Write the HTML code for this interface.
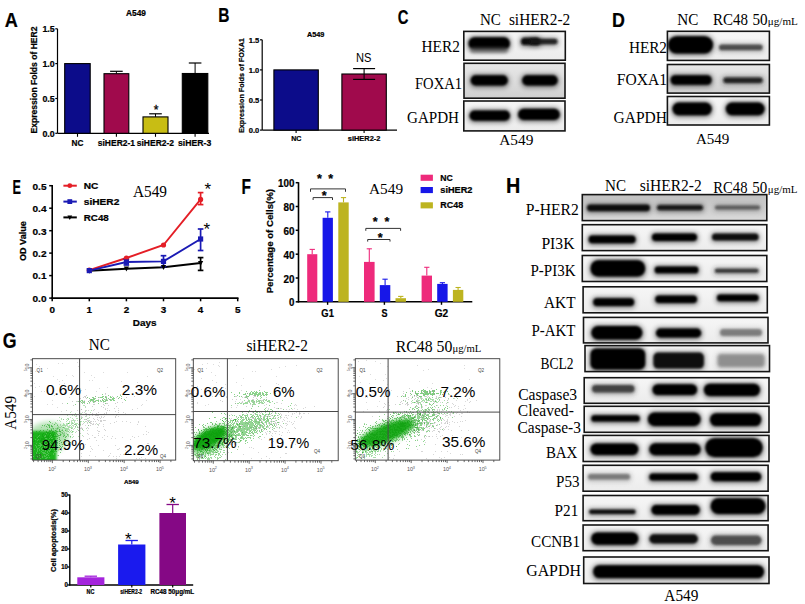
<!DOCTYPE html>
<html><head><meta charset="utf-8"><title>Figure</title>
<style>
html,body{margin:0;padding:0;background:#fff;width:805px;height:604px;overflow:hidden}
svg{display:block}
.sb{font-family:'Liberation Sans', sans-serif;font-weight:bold;stroke:#000;stroke-width:0.22px}
.sr{font-family:'Liberation Sans', sans-serif;font-weight:normal}
.r{font-family:'Liberation Serif', serif;font-weight:normal}
</style></head><body>
<svg width="805" height="604" viewBox="0 0 805 604">
<rect width="805" height="604" fill="#fff"/>
<defs>
<filter id="b1" x="-30%" y="-80%" width="160%" height="260%"><feGaussianBlur stdDeviation="1.1"/></filter>
<filter id="b2" x="-30%" y="-80%" width="160%" height="260%"><feGaussianBlur stdDeviation="1.6"/></filter>
<filter id="b3" x="-30%" y="-80%" width="160%" height="260%"><feGaussianBlur stdDeviation="2.6"/></filter>
<linearGradient id="gbg" x1="0" y1="0" x2="0" y2="1"><stop offset="0" stop-color="#f6f6f6"/><stop offset="1" stop-color="#ececec"/></linearGradient>
<linearGradient id="gbg2" x1="0" y1="0" x2="0" y2="1"><stop offset="0" stop-color="#e8e8e8"/><stop offset="1" stop-color="#d0d0d0"/></linearGradient>
<linearGradient id="gbg3" x1="0" y1="0" x2="0" y2="1"><stop offset="0" stop-color="#c0c0c0"/><stop offset="0.6" stop-color="#d0d0d0"/><stop offset="1" stop-color="#dadada"/></linearGradient>
</defs>
<text class="sb" x="4.8" y="26.8" font-size="19.8" textLength="13.1" lengthAdjust="spacingAndGlyphs" stroke="#000" stroke-width="0.9">A</text>
<text class="sb" x="126.1" y="15.5" font-size="8.5" textLength="19.9" lengthAdjust="spacingAndGlyphs">A549</text>
<line x1="57.5" y1="28.8" x2="57.5" y2="133.3" stroke="#000" stroke-width="1.2"/>
<line x1="57.5" y1="133.3" x2="209" y2="133.3" stroke="#000" stroke-width="1.2"/>
<line x1="55.3" y1="28.8" x2="57.5" y2="28.8" stroke="#000" stroke-width="1.2"/>
<text class="sb" x="54.7" y="32" font-size="8.7" text-anchor="end" textLength="12.3" lengthAdjust="spacingAndGlyphs">1.5</text>
<line x1="55.3" y1="63.6" x2="57.5" y2="63.6" stroke="#000" stroke-width="1.2"/>
<text class="sb" x="54.7" y="66.8" font-size="8.7" text-anchor="end" textLength="12.3" lengthAdjust="spacingAndGlyphs">1.0</text>
<line x1="55.3" y1="98.5" x2="57.5" y2="98.5" stroke="#000" stroke-width="1.2"/>
<text class="sb" x="54.7" y="101.7" font-size="8.7" text-anchor="end" textLength="12.3" lengthAdjust="spacingAndGlyphs">0.5</text>
<line x1="55.3" y1="133.3" x2="57.5" y2="133.3" stroke="#000" stroke-width="1.2"/>
<text class="sb" x="54.7" y="136.5" font-size="8.7" text-anchor="end" textLength="12.3" lengthAdjust="spacingAndGlyphs">0.0</text>
<rect x="64.7" y="63.6" width="25.5" height="69.7" fill="#0c0c8a" stroke="#000" stroke-width="1.1"/>
<line x1="77.5" y1="133.3" x2="77.5" y2="136.8" stroke="#000" stroke-width="1.1"/>
<text class="sb" x="77.5" y="146.3" font-size="9.2" text-anchor="middle" textLength="11.9" lengthAdjust="spacingAndGlyphs">NC</text>
<line x1="116.4" y1="73.7" x2="116.4" y2="71.3" stroke="#000" stroke-width="1"/>
<line x1="110.1" y1="71.3" x2="122.7" y2="71.3" stroke="#000" stroke-width="1.2"/>
<rect x="104" y="73.7" width="24.8" height="59.6" fill="#a00a4c" stroke="#000" stroke-width="1.1"/>
<line x1="116.4" y1="133.3" x2="116.4" y2="136.8" stroke="#000" stroke-width="1.1"/>
<text class="sb" x="116.4" y="146.3" font-size="9.2" text-anchor="middle" textLength="37.2" lengthAdjust="spacingAndGlyphs">siHER2-1</text>
<line x1="155.5" y1="116.9" x2="155.5" y2="113.8" stroke="#000" stroke-width="1"/>
<line x1="149.2" y1="113.8" x2="161.8" y2="113.8" stroke="#000" stroke-width="1.2"/>
<rect x="143" y="116.9" width="25" height="16.4" fill="#c8bd14" stroke="#000" stroke-width="1.1"/>
<line x1="155.5" y1="133.3" x2="155.5" y2="136.8" stroke="#000" stroke-width="1.1"/>
<text class="sb" x="155.4" y="146.3" font-size="9.2" text-anchor="middle" textLength="37.2" lengthAdjust="spacingAndGlyphs">siHER2-2</text>
<line x1="195.1" y1="73.5" x2="195.1" y2="63" stroke="#000" stroke-width="1"/>
<line x1="188.8" y1="63" x2="201.4" y2="63" stroke="#000" stroke-width="1.2"/>
<rect x="182.3" y="73.5" width="25.5" height="59.8" fill="#000" stroke="#000" stroke-width="1.1"/>
<line x1="195.1" y1="133.3" x2="195.1" y2="136.8" stroke="#000" stroke-width="1.1"/>
<text class="sb" x="194.6" y="146.3" font-size="9.2" text-anchor="middle" textLength="33.2" lengthAdjust="spacingAndGlyphs">siHER-3</text>
<text class="sr" x="156" y="114.4" font-size="12" text-anchor="middle" stroke="#000" stroke-width="0.3">*</text>
<text class="sb" transform="translate(37,80) rotate(-90)" x="0" y="0" font-size="8.3" text-anchor="middle" textLength="107" lengthAdjust="spacingAndGlyphs">Expression Folds of HER2</text>
<text class="sb" x="218.3" y="21.9" font-size="20.9" textLength="11.2" lengthAdjust="spacingAndGlyphs" stroke="#000" stroke-width="0.9">B</text>
<text class="sb" x="307" y="36.8" font-size="6.8" textLength="17.4" lengthAdjust="spacingAndGlyphs">A549</text>
<line x1="262.2" y1="39.8" x2="262.2" y2="130.1" stroke="#000" stroke-width="1.2"/>
<line x1="262.2" y1="130.1" x2="397" y2="130.1" stroke="#000" stroke-width="1.2"/>
<line x1="260" y1="39.8" x2="262.2" y2="39.8" stroke="#000" stroke-width="1.2"/>
<text class="sb" x="259.2" y="42.5" font-size="7.4" text-anchor="end" textLength="10.5" lengthAdjust="spacingAndGlyphs">1.5</text>
<line x1="260" y1="69.9" x2="262.2" y2="69.9" stroke="#000" stroke-width="1.2"/>
<text class="sb" x="259.2" y="72.6" font-size="7.4" text-anchor="end" textLength="10.5" lengthAdjust="spacingAndGlyphs">1.0</text>
<line x1="260" y1="100" x2="262.2" y2="100" stroke="#000" stroke-width="1.2"/>
<text class="sb" x="259.2" y="102.7" font-size="7.4" text-anchor="end" textLength="10.5" lengthAdjust="spacingAndGlyphs">0.5</text>
<line x1="260" y1="130.1" x2="262.2" y2="130.1" stroke="#000" stroke-width="1.2"/>
<text class="sb" x="259.2" y="132.8" font-size="7.4" text-anchor="end" textLength="10.5" lengthAdjust="spacingAndGlyphs">0.0</text>
<rect x="273.9" y="69.9" width="44.4" height="60.2" fill="#0c0c8a" stroke="#000" stroke-width="1.1"/>
<line x1="296.1" y1="130.1" x2="296.1" y2="133.1" stroke="#000" stroke-width="1.1"/>
<text class="sb" x="291.2" y="140.7" font-size="7.2" textLength="10.2" lengthAdjust="spacingAndGlyphs">NC</text>
<rect x="341.9" y="74" width="44.4" height="56.1" fill="#a00a4c" stroke="#000" stroke-width="1.1"/>
<line x1="364.1" y1="68.6" x2="364.1" y2="79.4" stroke="#000" stroke-width="1.1"/>
<line x1="353.1" y1="68.6" x2="375.1" y2="68.6" stroke="#000" stroke-width="1.2"/>
<line x1="353.1" y1="79.4" x2="375.1" y2="79.4" stroke="#000" stroke-width="1.2"/>
<line x1="364.1" y1="130.1" x2="364.1" y2="133.1" stroke="#000" stroke-width="1.1"/>
<text class="sb" x="347.8" y="140.7" font-size="7.2" textLength="32.6" lengthAdjust="spacingAndGlyphs">siHER2-2</text>
<text class="sr" x="356" y="61.6" font-size="12.2" textLength="15.4" lengthAdjust="spacingAndGlyphs">NS</text>
<text class="sb" transform="translate(243.8,85.6) rotate(-90)" x="0" y="0" font-size="7.7" text-anchor="middle" textLength="94.9" lengthAdjust="spacingAndGlyphs">Expression Folds of FOXA1</text>
<text class="sb" x="397.8" y="24.4" font-size="20" textLength="10.7" lengthAdjust="spacingAndGlyphs" stroke="#000" stroke-width="0.9">C</text>
<text class="r" x="479.9" y="25.1" font-size="16.1" textLength="20.9" lengthAdjust="spacingAndGlyphs">NC</text>
<text class="r" x="508.9" y="25.1" font-size="16.1" textLength="61.4" lengthAdjust="spacingAndGlyphs">siHER2-2</text>
<clipPath id="c58"><rect x="463.8" y="31.4" width="101.5" height="28.8"/></clipPath>
<rect x="463.8" y="31.4" width="101.5" height="28.8" fill="url(#gbg)"/>
<g clip-path="url(#c58)">
<rect x="467.5" y="36.3" width="43.4" height="15.2" rx="6.1" fill="#050505" opacity="0.5" filter="url(#b3)"/>
<rect x="468.5" y="37.3" width="41.4" height="12.2" rx="6.1" fill="#050505" opacity="1" filter="url(#b1)"/>
<rect x="470" y="47" width="38" height="6" rx="3" fill="#555" opacity="0.6" filter="url(#b2)"/>
<rect x="520" y="36.8" width="21" height="10.2" rx="3.6" fill="#0c0c0c" opacity="0.5" filter="url(#b3)"/>
<rect x="521" y="37.8" width="19" height="7.2" rx="3.6" fill="#0c0c0c" opacity="1" filter="url(#b1)"/>
<rect x="529" y="37.8" width="29.5" height="8.4" rx="2.7" fill="#151515" opacity="0.4" filter="url(#b3)"/>
<rect x="530" y="38.8" width="27.5" height="5.4" rx="2.7" fill="#151515" opacity="0.9" filter="url(#b1)"/>
</g>
<rect x="463.8" y="31.4" width="101.5" height="28.8" fill="none" stroke="#151515" stroke-width="1.6"/>
<clipPath id="c70"><rect x="464" y="63.3" width="101" height="34.9"/></clipPath>
<rect x="464" y="63.3" width="101" height="34.9" fill="url(#gbg2)"/>
<g clip-path="url(#c70)">
<rect x="469.7" y="74.3" width="39.1" height="13.1" rx="5.1" fill="#060606" opacity="0.5" filter="url(#b3)"/>
<rect x="470.7" y="75.3" width="37.1" height="10.1" rx="5.1" fill="#060606" opacity="1" filter="url(#b1)"/>
<rect x="521.2" y="74.3" width="37.5" height="13.1" rx="5.1" fill="#060606" opacity="0.5" filter="url(#b3)"/>
<rect x="522.2" y="75.3" width="35.5" height="10.1" rx="5.1" fill="#060606" opacity="1" filter="url(#b1)"/>
</g>
<rect x="464" y="63.3" width="101" height="34.9" fill="none" stroke="#151515" stroke-width="1.6"/>
<clipPath id="c79"><rect x="463.8" y="101" width="101.2" height="29.9"/></clipPath>
<rect x="463.8" y="101" width="101.2" height="29.9" fill="url(#gbg)"/>
<g clip-path="url(#c79)">
<rect x="468.5" y="109.5" width="42.5" height="13.2" rx="5.1" fill="#050505" opacity="0.5" filter="url(#b3)"/>
<rect x="469.5" y="110.5" width="40.5" height="10.2" rx="5.1" fill="#050505" opacity="1" filter="url(#b1)"/>
<rect x="517.1" y="107.8" width="43.7" height="14.2" rx="5.6" fill="#050505" opacity="0.5" filter="url(#b3)"/>
<rect x="518.1" y="108.8" width="41.7" height="11.2" rx="5.6" fill="#050505" opacity="1" filter="url(#b1)"/>
</g>
<rect x="463.8" y="101" width="101.2" height="29.9" fill="none" stroke="#151515" stroke-width="1.6"/>
<text class="r" x="421.5" y="52.2" font-size="16.1" textLength="38.3" lengthAdjust="spacingAndGlyphs">HER2</text>
<text class="r" x="415" y="88.8" font-size="16.1" textLength="47" lengthAdjust="spacingAndGlyphs">FOXA1</text>
<text class="r" x="407" y="123.1" font-size="16.1" textLength="52" lengthAdjust="spacingAndGlyphs">GAPDH</text>
<text class="r" x="499.2" y="144.8" font-size="15.6" textLength="34.2" lengthAdjust="spacingAndGlyphs">A549</text>
<text class="sb" x="612" y="26.5" font-size="19.6" textLength="12.9" lengthAdjust="spacingAndGlyphs" stroke="#000" stroke-width="0.9">D</text>
<text class="r" x="677.3" y="24.5" font-size="16.1" textLength="21.1" lengthAdjust="spacingAndGlyphs">NC</text>
<text class="r" x="713" y="24.5" font-size="16.1" textLength="35" lengthAdjust="spacingAndGlyphs">RC48</text>
<text class="r" x="752.4" y="24.5" font-size="16.1" textLength="15.1" lengthAdjust="spacingAndGlyphs">50</text>
<text class="r" x="767.8" y="24.5" font-size="11.2" textLength="30" lengthAdjust="spacingAndGlyphs">μg/mL</text>
<clipPath id="c97"><rect x="667.4" y="31.3" width="102" height="29.1"/></clipPath>
<rect x="667.4" y="31.3" width="102" height="29.1" fill="url(#gbg)"/>
<g clip-path="url(#c97)">
<rect x="667" y="35.2" width="47" height="20.4" rx="8.7" fill="#030303" opacity="0.5" filter="url(#b3)"/>
<rect x="668" y="36.2" width="45" height="17.4" rx="8.7" fill="#030303" opacity="1" filter="url(#b1)"/>
<rect x="718" y="43.6" width="45.6" height="8.6" rx="2.8" fill="#333" opacity="0.3" filter="url(#b3)"/>
<rect x="719" y="44.6" width="43.6" height="5.6" rx="2.8" fill="#333" opacity="0.8" filter="url(#b1)"/>
</g>
<rect x="667.4" y="31.3" width="102" height="29.1" fill="none" stroke="#151515" stroke-width="1.6"/>
<clipPath id="c106"><rect x="667.4" y="64.5" width="102" height="28.6"/></clipPath>
<rect x="667.4" y="64.5" width="102" height="28.6" fill="url(#gbg2)"/>
<g clip-path="url(#c106)">
<rect x="669.6" y="74.2" width="43.1" height="12.6" rx="4.8" fill="#060606" opacity="0.5" filter="url(#b3)"/>
<rect x="670.6" y="75.2" width="41.1" height="9.6" rx="4.8" fill="#060606" opacity="1" filter="url(#b1)"/>
<rect x="722.4" y="76.6" width="41.2" height="8.3" rx="2.7" fill="#151515" opacity="0.4" filter="url(#b3)"/>
<rect x="723.4" y="77.6" width="39.2" height="5.3" rx="2.7" fill="#151515" opacity="0.9" filter="url(#b1)"/>
</g>
<rect x="667.4" y="64.5" width="102" height="28.6" fill="none" stroke="#151515" stroke-width="1.6"/>
<clipPath id="c115"><rect x="667.4" y="96.5" width="102" height="28.5"/></clipPath>
<rect x="667.4" y="96.5" width="102" height="28.5" fill="url(#gbg)"/>
<g clip-path="url(#c115)">
<rect x="671.5" y="101.6" width="41.2" height="15.6" rx="6.3" fill="#040404" opacity="0.5" filter="url(#b3)"/>
<rect x="672.5" y="102.6" width="39.2" height="12.6" rx="6.3" fill="#040404" opacity="1" filter="url(#b1)"/>
<rect x="724.8" y="101.6" width="40.8" height="15.6" rx="6.3" fill="#040404" opacity="0.5" filter="url(#b3)"/>
<rect x="725.8" y="102.6" width="38.8" height="12.6" rx="6.3" fill="#040404" opacity="1" filter="url(#b1)"/>
</g>
<rect x="667.4" y="96.5" width="102" height="28.5" fill="none" stroke="#151515" stroke-width="1.6"/>
<text class="r" x="628.9" y="53.1" font-size="16.3" textLength="38.1" lengthAdjust="spacingAndGlyphs">HER2</text>
<text class="r" x="616.8" y="85.1" font-size="16.3" textLength="50.2" lengthAdjust="spacingAndGlyphs">FOXA1</text>
<text class="r" x="613.6" y="122.6" font-size="16.3" textLength="53.4" lengthAdjust="spacingAndGlyphs">GAPDH</text>
<text class="r" x="695.9" y="143.5" font-size="15.3" textLength="33.5" lengthAdjust="spacingAndGlyphs">A549</text>
<text class="sb" x="506.1" y="193" font-size="21.9" textLength="14.3" lengthAdjust="spacingAndGlyphs" stroke="#000" stroke-width="0.9">H</text>
<text class="r" x="605" y="190.5" font-size="16.3" textLength="21" lengthAdjust="spacingAndGlyphs">NC</text>
<text class="r" x="639.7" y="190.5" font-size="16.3" textLength="62" lengthAdjust="spacingAndGlyphs">siHER2-2</text>
<text class="r" x="713.3" y="193" font-size="16.3" textLength="34.2" lengthAdjust="spacingAndGlyphs">RC48</text>
<text class="r" x="752.3" y="193" font-size="16.3" textLength="15" lengthAdjust="spacingAndGlyphs">50</text>
<text class="r" x="767.8" y="193" font-size="11.2" textLength="29.6" lengthAdjust="spacingAndGlyphs">μg/mL</text>
<clipPath id="c134"><rect x="582.3" y="194.6" width="184.5" height="26"/></clipPath>
<rect x="582.3" y="194.6" width="184.5" height="26" fill="url(#gbg3)"/>
<g clip-path="url(#c134)">
<rect x="586" y="203.4" width="65" height="9.8" rx="3.4" fill="#050505" opacity="0.4" filter="url(#b3)"/>
<rect x="587" y="204.4" width="63" height="6.8" rx="3.4" fill="#050505" opacity="0.9" filter="url(#b1)"/>
<rect x="656" y="204" width="48" height="8.2" rx="2.6" fill="#101010" opacity="0.4" filter="url(#b3)"/>
<rect x="657" y="205" width="46" height="5.2" rx="2.6" fill="#101010" opacity="0.9" filter="url(#b1)"/>
<rect x="714" y="204.5" width="47" height="7.1" rx="2" fill="#3a3a3a" opacity="0.3" filter="url(#b3)"/>
<rect x="715" y="205.5" width="45" height="4.1" rx="2" fill="#3a3a3a" opacity="0.7" filter="url(#b1)"/>
</g>
<rect x="582.3" y="194.6" width="184.5" height="26" fill="none" stroke="#151515" stroke-width="1.6"/>
<text class="r" x="525.8" y="215.4" font-size="16.3" textLength="53" lengthAdjust="spacingAndGlyphs">P-HER2</text>
<clipPath id="c146"><rect x="582.3" y="224.7" width="184.5" height="25.9"/></clipPath>
<rect x="582.3" y="224.7" width="184.5" height="25.9" fill="url(#gbg)"/>
<g clip-path="url(#c146)">
<rect x="587.6" y="234.6" width="49" height="10.6" rx="3.8" fill="#050505" opacity="0.5" filter="url(#b3)"/>
<rect x="588.6" y="235.6" width="47" height="7.6" rx="3.8" fill="#050505" opacity="1" filter="url(#b1)"/>
<rect x="651" y="232.5" width="47" height="10.5" rx="3.8" fill="#050505" opacity="0.5" filter="url(#b3)"/>
<rect x="652" y="233.5" width="45" height="7.5" rx="3.8" fill="#050505" opacity="1" filter="url(#b1)"/>
<rect x="711" y="232.5" width="48.6" height="10" rx="3.5" fill="#050505" opacity="0.4" filter="url(#b3)"/>
<rect x="712" y="233.5" width="46.6" height="7" rx="3.5" fill="#050505" opacity="0.9" filter="url(#b1)"/>
</g>
<rect x="582.3" y="224.7" width="184.5" height="25.9" fill="none" stroke="#151515" stroke-width="1.6"/>
<text class="r" x="541.4" y="248.9" font-size="16.3" textLength="33.1" lengthAdjust="spacingAndGlyphs">PI3K</text>
<clipPath id="c158"><rect x="582.3" y="255.5" width="184.5" height="26"/></clipPath>
<rect x="582.3" y="255.5" width="184.5" height="26" fill="url(#gbg)"/>
<g clip-path="url(#c158)">
<rect x="589.5" y="259.2" width="56.7" height="19.4" rx="8.2" fill="#050505" opacity="0.5" filter="url(#b3)"/>
<rect x="590.5" y="260.2" width="54.7" height="16.4" rx="8.2" fill="#050505" opacity="1" filter="url(#b1)"/>
<rect x="653.7" y="265.5" width="45.7" height="9.8" rx="3.4" fill="#050505" opacity="0.5" filter="url(#b3)"/>
<rect x="654.7" y="266.5" width="43.7" height="6.8" rx="3.4" fill="#050505" opacity="1" filter="url(#b1)"/>
<rect x="713.8" y="267.8" width="45.8" height="7" rx="2" fill="#1a1a1a" opacity="0.4" filter="url(#b3)"/>
<rect x="714.8" y="268.8" width="43.8" height="4" rx="2" fill="#1a1a1a" opacity="0.8" filter="url(#b1)"/>
</g>
<rect x="582.3" y="255.5" width="184.5" height="26" fill="none" stroke="#151515" stroke-width="1.6"/>
<text class="r" x="530.5" y="276" font-size="16.3" textLength="45" lengthAdjust="spacingAndGlyphs">P-PI3K</text>
<clipPath id="c170"><rect x="583.1" y="286.8" width="184.2" height="26"/></clipPath>
<rect x="583.1" y="286.8" width="184.2" height="26" fill="url(#gbg)"/>
<g clip-path="url(#c170)">
<rect x="592.2" y="297.2" width="43" height="10.8" rx="3.9" fill="#050505" opacity="0.5" filter="url(#b3)"/>
<rect x="593.2" y="298.2" width="41" height="7.8" rx="3.9" fill="#050505" opacity="1" filter="url(#b1)"/>
<rect x="654.3" y="294.5" width="43.7" height="10.5" rx="3.8" fill="#050505" opacity="0.5" filter="url(#b3)"/>
<rect x="655.3" y="295.5" width="41.7" height="7.5" rx="3.8" fill="#050505" opacity="1" filter="url(#b1)"/>
<rect x="716" y="293.5" width="43.6" height="9.7" rx="3.3" fill="#050505" opacity="0.5" filter="url(#b3)"/>
<rect x="717" y="294.5" width="41.6" height="6.7" rx="3.3" fill="#050505" opacity="1" filter="url(#b1)"/>
</g>
<rect x="583.1" y="286.8" width="184.2" height="26" fill="none" stroke="#151515" stroke-width="1.6"/>
<text class="r" x="544" y="307.5" font-size="16.3" textLength="31.5" lengthAdjust="spacingAndGlyphs">AKT</text>
<clipPath id="c182"><rect x="583.5" y="317.4" width="184.5" height="25.5"/></clipPath>
<rect x="583.5" y="317.4" width="184.5" height="25.5" fill="url(#gbg)"/>
<g clip-path="url(#c182)">
<rect x="590.3" y="324.9" width="53.1" height="16.7" rx="6.9" fill="#050505" opacity="0.5" filter="url(#b3)"/>
<rect x="591.3" y="325.9" width="51.1" height="13.7" rx="6.9" fill="#050505" opacity="1" filter="url(#b1)"/>
<rect x="655" y="327.6" width="47.2" height="11.8" rx="4.4" fill="#050505" opacity="0.5" filter="url(#b3)"/>
<rect x="656" y="328.6" width="45.2" height="8.8" rx="4.4" fill="#050505" opacity="1" filter="url(#b1)"/>
<rect x="719" y="328" width="44" height="10" rx="3.5" fill="#6a6a6a" opacity="0.3" filter="url(#b3)"/>
<rect x="720" y="329" width="42" height="7" rx="3.5" fill="#6a6a6a" opacity="0.8" filter="url(#b1)"/>
</g>
<rect x="583.5" y="317.4" width="184.5" height="25.5" fill="none" stroke="#151515" stroke-width="1.6"/>
<text class="r" x="531.5" y="335.6" font-size="16.3" textLength="44" lengthAdjust="spacingAndGlyphs">P-AKT</text>
<clipPath id="c194"><rect x="585" y="345.6" width="184.5" height="26"/></clipPath>
<rect x="585" y="345.6" width="184.5" height="26" fill="url(#gbg)"/>
<g clip-path="url(#c194)">
<rect x="589.5" y="347.6" width="56.7" height="24" rx="5.9" fill="#050505" opacity="0.5" filter="url(#b3)"/>
<rect x="590.5" y="348.6" width="54.7" height="21" rx="5.9" fill="#050505" opacity="1" filter="url(#b1)"/>
<rect x="652.4" y="351.6" width="52.5" height="19" rx="4.8" fill="#050505" opacity="0.4" filter="url(#b3)"/>
<rect x="653.4" y="352.6" width="50.5" height="16" rx="4.8" fill="#050505" opacity="0.9" filter="url(#b1)"/>
<rect x="716.6" y="353" width="49" height="16" rx="3.9" fill="#6a6a6a" opacity="0.3" filter="url(#b3)"/>
<rect x="717.6" y="354" width="47" height="13" rx="3.9" fill="#6a6a6a" opacity="0.6" filter="url(#b2)"/>
</g>
<rect x="585" y="345.6" width="184.5" height="26" fill="none" stroke="#151515" stroke-width="1.6"/>
<text class="r" x="540.4" y="369.4" font-size="16.3" textLength="33.1" lengthAdjust="spacingAndGlyphs">BCL2</text>
<clipPath id="c206"><rect x="584.2" y="377.7" width="184.8" height="25.6"/></clipPath>
<rect x="584.2" y="377.7" width="184.8" height="25.6" fill="url(#gbg)"/>
<g clip-path="url(#c206)">
<rect x="591" y="384" width="44.5" height="10.5" rx="3.8" fill="#2a2a2a" opacity="0.4" filter="url(#b3)"/>
<rect x="592" y="385" width="42.5" height="7.5" rx="3.8" fill="#2a2a2a" opacity="0.8" filter="url(#b1)"/>
<rect x="651.5" y="383.2" width="46.6" height="13.9" rx="5.5" fill="#050505" opacity="0.5" filter="url(#b3)"/>
<rect x="652.5" y="384.2" width="44.6" height="10.9" rx="5.5" fill="#050505" opacity="1" filter="url(#b1)"/>
<rect x="702.9" y="382.7" width="58.1" height="15.3" rx="6.2" fill="#050505" opacity="0.5" filter="url(#b3)"/>
<rect x="703.9" y="383.7" width="56.1" height="12.3" rx="6.2" fill="#050505" opacity="1" filter="url(#b1)"/>
</g>
<rect x="584.2" y="377.7" width="184.8" height="25.6" fill="none" stroke="#151515" stroke-width="1.6"/>
<text class="r" x="518.2" y="400" font-size="16.3" textLength="59" lengthAdjust="spacingAndGlyphs">Caspase3</text>
<clipPath id="c218"><rect x="584.2" y="406.3" width="184.8" height="26"/></clipPath>
<rect x="584.2" y="406.3" width="184.8" height="26" fill="url(#gbg)"/>
<g clip-path="url(#c218)">
<rect x="590.3" y="414.2" width="50.4" height="9.4" rx="3.2" fill="#050505" opacity="0.5" filter="url(#b3)"/>
<rect x="591.3" y="415.2" width="48.4" height="6.4" rx="3.2" fill="#050505" opacity="1" filter="url(#b1)"/>
<rect x="646.9" y="411.4" width="54.7" height="16.6" rx="6.8" fill="#050505" opacity="0.5" filter="url(#b3)"/>
<rect x="647.9" y="412.4" width="52.7" height="13.6" rx="6.8" fill="#050505" opacity="1" filter="url(#b1)"/>
<rect x="709" y="412.2" width="53.3" height="15.8" rx="6.4" fill="#050505" opacity="0.5" filter="url(#b3)"/>
<rect x="710" y="413.2" width="51.3" height="12.8" rx="6.4" fill="#050505" opacity="1" filter="url(#b1)"/>
</g>
<rect x="584.2" y="406.3" width="184.8" height="26" fill="none" stroke="#151515" stroke-width="1.6"/>
<clipPath id="c229"><rect x="583.2" y="435.4" width="185.8" height="26.1"/></clipPath>
<rect x="583.2" y="435.4" width="185.8" height="26.1" fill="url(#gbg)"/>
<g clip-path="url(#c229)">
<rect x="589.5" y="442.5" width="49.8" height="14.5" rx="5.8" fill="#050505" opacity="0.5" filter="url(#b3)"/>
<rect x="590.5" y="443.5" width="47.8" height="11.5" rx="5.8" fill="#050505" opacity="1" filter="url(#b1)"/>
<rect x="648.3" y="442.2" width="53.3" height="15.1" rx="6.1" fill="#050505" opacity="0.5" filter="url(#b3)"/>
<rect x="649.3" y="443.2" width="51.3" height="12.1" rx="6.1" fill="#050505" opacity="1" filter="url(#b1)"/>
<rect x="704.3" y="437.3" width="59.4" height="21.6" rx="9.3" fill="#050505" opacity="0.5" filter="url(#b3)"/>
<rect x="705.3" y="438.3" width="57.4" height="18.6" rx="9.3" fill="#050505" opacity="1" filter="url(#b1)"/>
</g>
<rect x="583.2" y="435.4" width="185.8" height="26.1" fill="none" stroke="#151515" stroke-width="1.6"/>
<text class="r" x="545.9" y="458" font-size="16.3" textLength="31.5" lengthAdjust="spacingAndGlyphs">BAX</text>
<clipPath id="c241"><rect x="583.1" y="465.3" width="185" height="25.9"/></clipPath>
<rect x="583.1" y="465.3" width="185" height="25.9" fill="url(#gbg)"/>
<g clip-path="url(#c241)">
<rect x="587" y="473" width="44" height="8.6" rx="2.8" fill="#6a6a6a" opacity="0.4" filter="url(#b3)"/>
<rect x="588" y="474" width="42" height="5.6" rx="2.8" fill="#6a6a6a" opacity="0.8" filter="url(#b1)"/>
<rect x="648.3" y="472.5" width="50.6" height="10" rx="3.5" fill="#050505" opacity="0.5" filter="url(#b3)"/>
<rect x="649.3" y="473.5" width="48.6" height="7" rx="3.5" fill="#050505" opacity="1" filter="url(#b1)"/>
<rect x="709.7" y="471.3" width="52.6" height="12" rx="4.5" fill="#050505" opacity="0.5" filter="url(#b3)"/>
<rect x="710.7" y="472.3" width="50.6" height="9" rx="4.5" fill="#050505" opacity="1" filter="url(#b1)"/>
</g>
<rect x="583.1" y="465.3" width="185" height="25.9" fill="none" stroke="#151515" stroke-width="1.6"/>
<text class="r" x="556.1" y="486.8" font-size="16.3" textLength="23.4" lengthAdjust="spacingAndGlyphs">P53</text>
<clipPath id="c253"><rect x="583.1" y="495.5" width="185" height="25.2"/></clipPath>
<rect x="583.1" y="495.5" width="185" height="25.2" fill="url(#gbg)"/>
<g clip-path="url(#c253)">
<rect x="588.1" y="508.6" width="48.5" height="7.4" rx="2.2" fill="#050505" opacity="0.4" filter="url(#b3)"/>
<rect x="589.1" y="509.6" width="46.5" height="4.4" rx="2.2" fill="#050505" opacity="0.9" filter="url(#b1)"/>
<rect x="650.4" y="504.1" width="50.4" height="12.6" rx="4.8" fill="#050505" opacity="0.5" filter="url(#b3)"/>
<rect x="651.4" y="505.1" width="48.4" height="9.6" rx="4.8" fill="#050505" opacity="1" filter="url(#b1)"/>
<rect x="709.7" y="497.3" width="56.7" height="18.8" rx="7.9" fill="#050505" opacity="0.5" filter="url(#b3)"/>
<rect x="710.7" y="498.3" width="54.7" height="15.8" rx="7.9" fill="#050505" opacity="1" filter="url(#b1)"/>
</g>
<rect x="583.1" y="495.5" width="185" height="25.2" fill="none" stroke="#151515" stroke-width="1.6"/>
<text class="r" x="554.6" y="516.4" font-size="16.3" textLength="23.7" lengthAdjust="spacingAndGlyphs">P21</text>
<clipPath id="c265"><rect x="583.1" y="525" width="185" height="25.7"/></clipPath>
<rect x="583.1" y="525" width="185" height="25.7" fill="url(#gbg)"/>
<g clip-path="url(#c265)">
<rect x="590.3" y="531.4" width="49" height="15.3" rx="6.2" fill="#050505" opacity="0.5" filter="url(#b3)"/>
<rect x="591.3" y="532.4" width="47" height="12.3" rx="6.2" fill="#050505" opacity="1" filter="url(#b1)"/>
<rect x="648.3" y="533.3" width="50.6" height="12.1" rx="4.6" fill="#050505" opacity="0.4" filter="url(#b3)"/>
<rect x="649.3" y="534.3" width="48.6" height="9.1" rx="4.6" fill="#050505" opacity="0.9" filter="url(#b1)"/>
<rect x="710" y="534.5" width="52.5" height="12.5" rx="4.8" fill="#383838" opacity="0.4" filter="url(#b3)"/>
<rect x="711" y="535.5" width="50.5" height="9.5" rx="4.8" fill="#383838" opacity="0.8" filter="url(#b1)"/>
</g>
<rect x="583.1" y="525" width="185" height="25.7" fill="none" stroke="#151515" stroke-width="1.6"/>
<text class="r" x="531" y="547.4" font-size="16.3" textLength="49.1" lengthAdjust="spacingAndGlyphs">CCNB1</text>
<clipPath id="c277"><rect x="583.7" y="557" width="185.3" height="26.5"/></clipPath>
<rect x="583.7" y="557" width="185.3" height="26.5" fill="url(#gbg)"/>
<g clip-path="url(#c277)">
<rect x="592.2" y="564.2" width="172.8" height="15.9" rx="6.4" fill="#050505" opacity="0.5" filter="url(#b3)"/>
<rect x="593.2" y="565.2" width="170.8" height="12.9" rx="6.4" fill="#050505" opacity="1" filter="url(#b1)"/>
</g>
<rect x="583.7" y="557" width="185.3" height="26.5" fill="none" stroke="#151515" stroke-width="1.6"/>
<text class="r" x="526.2" y="575.8" font-size="16.3" textLength="54.7" lengthAdjust="spacingAndGlyphs">GAPDH</text>
<text class="r" x="517.8" y="415.7" font-size="16.3" textLength="56" lengthAdjust="spacingAndGlyphs">Cleaved-</text>
<text class="r" x="517.5" y="432.7" font-size="16.3" textLength="63.4" lengthAdjust="spacingAndGlyphs">Caspase-3</text>
<text class="r" x="664.3" y="600.7" font-size="16.1" textLength="34.1" lengthAdjust="spacingAndGlyphs">A549</text>
<text class="sb" x="12.5" y="193.7" font-size="20" textLength="8.4" lengthAdjust="spacingAndGlyphs" stroke="#000" stroke-width="0.9">E</text>
<line x1="52.2" y1="184.9" x2="52.2" y2="298.8" stroke="#000" stroke-width="1.6"/>
<line x1="51.5" y1="298.1" x2="238.5" y2="298.1" stroke="#000" stroke-width="1.6"/>
<line x1="49.2" y1="298.1" x2="52.2" y2="298.1" stroke="#000" stroke-width="1.5"/>
<text class="sb" x="46.5" y="301.9" font-size="9.8" text-anchor="end" textLength="14" lengthAdjust="spacingAndGlyphs">0.0</text>
<line x1="49.2" y1="275.6" x2="52.2" y2="275.6" stroke="#000" stroke-width="1.5"/>
<text class="sb" x="46.5" y="279.4" font-size="9.8" text-anchor="end" textLength="14" lengthAdjust="spacingAndGlyphs">0.1</text>
<line x1="49.2" y1="253.1" x2="52.2" y2="253.1" stroke="#000" stroke-width="1.5"/>
<text class="sb" x="46.5" y="256.9" font-size="9.8" text-anchor="end" textLength="14" lengthAdjust="spacingAndGlyphs">0.2</text>
<line x1="49.2" y1="230.7" x2="52.2" y2="230.7" stroke="#000" stroke-width="1.5"/>
<text class="sb" x="46.5" y="234.5" font-size="9.8" text-anchor="end" textLength="14" lengthAdjust="spacingAndGlyphs">0.3</text>
<line x1="49.2" y1="208.2" x2="52.2" y2="208.2" stroke="#000" stroke-width="1.5"/>
<text class="sb" x="46.5" y="212" font-size="9.8" text-anchor="end" textLength="14" lengthAdjust="spacingAndGlyphs">0.4</text>
<line x1="49.2" y1="185.7" x2="52.2" y2="185.7" stroke="#000" stroke-width="1.5"/>
<text class="sb" x="46.5" y="189.5" font-size="9.8" text-anchor="end" textLength="14" lengthAdjust="spacingAndGlyphs">0.5</text>
<line x1="52.2" y1="298.1" x2="52.2" y2="301.3" stroke="#000" stroke-width="1.5"/>
<text class="sb" x="52.2" y="312.5" font-size="9.9" text-anchor="middle">0</text>
<line x1="89.3" y1="298.1" x2="89.3" y2="301.3" stroke="#000" stroke-width="1.5"/>
<text class="sb" x="89.3" y="312.5" font-size="9.9" text-anchor="middle">1</text>
<line x1="126.4" y1="298.1" x2="126.4" y2="301.3" stroke="#000" stroke-width="1.5"/>
<text class="sb" x="126.4" y="312.5" font-size="9.9" text-anchor="middle">2</text>
<line x1="163.5" y1="298.1" x2="163.5" y2="301.3" stroke="#000" stroke-width="1.5"/>
<text class="sb" x="163.5" y="312.5" font-size="9.9" text-anchor="middle">3</text>
<line x1="200.6" y1="298.1" x2="200.6" y2="301.3" stroke="#000" stroke-width="1.5"/>
<text class="sb" x="200.6" y="312.5" font-size="9.9" text-anchor="middle">4</text>
<line x1="237.7" y1="298.1" x2="237.7" y2="301.3" stroke="#000" stroke-width="1.5"/>
<text class="sb" x="237.7" y="312.5" font-size="9.9" text-anchor="middle">5</text>
<text class="sb" x="132.8" y="326.3" font-size="9.6" textLength="23.7" lengthAdjust="spacingAndGlyphs">Days</text>
<text class="sb" transform="translate(26,241.1) rotate(-90)" x="0" y="0" font-size="9.4" text-anchor="middle" textLength="39.8" lengthAdjust="spacingAndGlyphs">OD Value</text>
<polyline fill="none" stroke="#000" stroke-width="1.9" points="89.3,270.8 126.4,268.7 163.5,267.2 200.6,263"/>
<line x1="200.6" y1="257.6" x2="200.6" y2="270.4" stroke="#000" stroke-width="1.7"/>
<line x1="197.8" y1="257.6" x2="203.4" y2="257.6" stroke="#000" stroke-width="1.7"/>
<line x1="197.8" y1="270.4" x2="203.4" y2="270.4" stroke="#000" stroke-width="1.7"/>
<polyline fill="none" stroke="#e41e26" stroke-width="1.9" points="89.3,270.2 126.4,258 163.5,245 200.6,199.4"/>
<line x1="200.6" y1="192.6" x2="200.6" y2="204.6" stroke="#e41e26" stroke-width="1.7"/>
<line x1="197.8" y1="192.6" x2="203.4" y2="192.6" stroke="#e41e26" stroke-width="1.7"/>
<line x1="197.8" y1="204.6" x2="203.4" y2="204.6" stroke="#e41e26" stroke-width="1.7"/>
<polyline fill="none" stroke="#1a1ab4" stroke-width="1.9" points="89.3,270.6 126.4,262 163.5,261.4 200.6,239"/>
<line x1="126.4" y1="259" x2="126.4" y2="265" stroke="#1a1ab4" stroke-width="1.7"/>
<line x1="123.6" y1="259" x2="129.2" y2="259" stroke="#1a1ab4" stroke-width="1.7"/>
<line x1="123.6" y1="265" x2="129.2" y2="265" stroke="#1a1ab4" stroke-width="1.7"/>
<line x1="163.5" y1="255.7" x2="163.5" y2="266.7" stroke="#1a1ab4" stroke-width="1.7"/>
<line x1="160.7" y1="255.7" x2="166.3" y2="255.7" stroke="#1a1ab4" stroke-width="1.7"/>
<line x1="160.7" y1="266.7" x2="166.3" y2="266.7" stroke="#1a1ab4" stroke-width="1.7"/>
<line x1="200.6" y1="229" x2="200.6" y2="250.5" stroke="#1a1ab4" stroke-width="1.7"/>
<line x1="197.8" y1="229" x2="203.4" y2="229" stroke="#1a1ab4" stroke-width="1.7"/>
<line x1="197.8" y1="250.5" x2="203.4" y2="250.5" stroke="#1a1ab4" stroke-width="1.7"/>
<polygon points="86.7,268.7 91.9,268.7 89.3,273.7" fill="#000"/>
<polygon points="123.8,266.6 129,266.6 126.4,271.6" fill="#000"/>
<polygon points="160.9,265.1 166.1,265.1 163.5,270.1" fill="#000"/>
<polygon points="198,260.9 203.2,260.9 200.6,265.9" fill="#000"/>
<circle cx="89.3" cy="270.2" r="2.6" fill="#e41e26"/>
<circle cx="126.4" cy="258" r="2.6" fill="#e41e26"/>
<circle cx="163.5" cy="245" r="2.6" fill="#e41e26"/>
<circle cx="200.6" cy="199.4" r="2.6" fill="#e41e26"/>
<rect x="86.7" y="268" width="5.2" height="5.2" fill="#1a1ab4"/>
<rect x="123.8" y="259.4" width="5.2" height="5.2" fill="#1a1ab4"/>
<rect x="160.9" y="258.8" width="5.2" height="5.2" fill="#1a1ab4"/>
<rect x="198" y="236.4" width="5.2" height="5.2" fill="#1a1ab4"/>
<text class="sr" x="207.8" y="195.2" font-size="17" text-anchor="middle">*</text>
<text class="sr" x="206.7" y="235" font-size="17" text-anchor="middle">*</text>
<line x1="63.4" y1="185.7" x2="76.8" y2="185.7" stroke="#e41e26" stroke-width="2"/>
<circle cx="69.8" cy="185.7" r="2.4" fill="#e41e26"/>
<text class="sb" x="83.8" y="189.1" font-size="8.6" textLength="14.6" lengthAdjust="spacingAndGlyphs">NC</text>
<line x1="63.4" y1="201.6" x2="76.8" y2="201.6" stroke="#1a1ab4" stroke-width="2"/>
<rect x="67.4" y="199.2" width="4.8" height="4.8" fill="#1a1ab4"/>
<text class="sb" x="83.8" y="205" font-size="8.6" textLength="35.5" lengthAdjust="spacingAndGlyphs">siHER2</text>
<line x1="63.4" y1="217.4" x2="76.8" y2="217.4" stroke="#000" stroke-width="2"/>
<polygon points="67.4,215.5 72.2,215.5 69.8,220" fill="#000"/>
<text class="sb" x="83.8" y="220.7" font-size="8.6" textLength="25" lengthAdjust="spacingAndGlyphs">RC48</text>
<text class="r" x="133" y="197" font-size="16.1" textLength="34" lengthAdjust="spacingAndGlyphs">A549</text>
<text class="sb" x="241.4" y="193.5" font-size="21.6" textLength="9.4" lengthAdjust="spacingAndGlyphs" stroke="#000" stroke-width="0.9">F</text>
<line x1="298.5" y1="182.2" x2="298.5" y2="302.5" stroke="#000" stroke-width="1.6"/>
<line x1="297.8" y1="301.8" x2="472.3" y2="301.8" stroke="#000" stroke-width="1.6"/>
<line x1="295.7" y1="301.8" x2="298.5" y2="301.8" stroke="#000" stroke-width="1.5"/>
<text class="sb" x="294.4" y="306.3" font-size="10" text-anchor="end" textLength="5.4" lengthAdjust="spacingAndGlyphs">0</text>
<line x1="295.7" y1="278" x2="298.5" y2="278" stroke="#000" stroke-width="1.5"/>
<text class="sb" x="294.4" y="282.5" font-size="10" text-anchor="end" textLength="11" lengthAdjust="spacingAndGlyphs">20</text>
<line x1="295.7" y1="254.2" x2="298.5" y2="254.2" stroke="#000" stroke-width="1.5"/>
<text class="sb" x="294.4" y="258.7" font-size="10" text-anchor="end" textLength="11" lengthAdjust="spacingAndGlyphs">40</text>
<line x1="295.7" y1="230.3" x2="298.5" y2="230.3" stroke="#000" stroke-width="1.5"/>
<text class="sb" x="294.4" y="234.8" font-size="10" text-anchor="end" textLength="11" lengthAdjust="spacingAndGlyphs">60</text>
<line x1="295.7" y1="206.5" x2="298.5" y2="206.5" stroke="#000" stroke-width="1.5"/>
<text class="sb" x="294.4" y="211" font-size="10" text-anchor="end" textLength="11" lengthAdjust="spacingAndGlyphs">80</text>
<line x1="295.7" y1="182.7" x2="298.5" y2="182.7" stroke="#000" stroke-width="1.5"/>
<text class="sb" x="294.4" y="187.2" font-size="10" text-anchor="end" textLength="16.4" lengthAdjust="spacingAndGlyphs">100</text>
<line x1="312.2" y1="254.2" x2="312.2" y2="249.4" stroke="#ee2a7b" stroke-width="1.1"/>
<line x1="309.6" y1="249.4" x2="314.9" y2="249.4" stroke="#ee2a7b" stroke-width="1.1"/>
<rect x="307.2" y="254.2" width="10.1" height="47.6" fill="#ee2a7b"/>
<line x1="327.8" y1="217.8" x2="327.8" y2="211.9" stroke="#1717e8" stroke-width="1.1"/>
<line x1="325.1" y1="211.9" x2="330.4" y2="211.9" stroke="#1717e8" stroke-width="1.1"/>
<rect x="322.6" y="217.8" width="10.3" height="84" fill="#1717e8"/>
<line x1="343.5" y1="202.4" x2="343.5" y2="197.6" stroke="#bdb420" stroke-width="1.1"/>
<line x1="340.9" y1="197.6" x2="346.1" y2="197.6" stroke="#bdb420" stroke-width="1.1"/>
<rect x="338.3" y="202.4" width="10.4" height="99.4" fill="#bdb420"/>
<line x1="369.3" y1="261.9" x2="369.3" y2="248.8" stroke="#ee2a7b" stroke-width="1.1"/>
<line x1="366.7" y1="248.8" x2="371.9" y2="248.8" stroke="#ee2a7b" stroke-width="1.1"/>
<rect x="364" y="261.9" width="10.6" height="39.9" fill="#ee2a7b"/>
<line x1="385.1" y1="285.1" x2="385.1" y2="279.2" stroke="#1717e8" stroke-width="1.1"/>
<line x1="382.4" y1="279.2" x2="387.7" y2="279.2" stroke="#1717e8" stroke-width="1.1"/>
<rect x="379.8" y="285.1" width="10.5" height="16.7" fill="#1717e8"/>
<line x1="400.8" y1="298.2" x2="400.8" y2="296.4" stroke="#bdb420" stroke-width="1.1"/>
<line x1="398.1" y1="296.4" x2="403.4" y2="296.4" stroke="#bdb420" stroke-width="1.1"/>
<rect x="395.5" y="298.2" width="10.5" height="3.6" fill="#bdb420"/>
<line x1="426.8" y1="275.6" x2="426.8" y2="267.3" stroke="#ee2a7b" stroke-width="1.1"/>
<line x1="424.2" y1="267.3" x2="429.4" y2="267.3" stroke="#ee2a7b" stroke-width="1.1"/>
<rect x="421.6" y="275.6" width="10.4" height="26.2" fill="#ee2a7b"/>
<line x1="442.4" y1="283.9" x2="442.4" y2="282.7" stroke="#1717e8" stroke-width="1.1"/>
<line x1="439.8" y1="282.7" x2="445" y2="282.7" stroke="#1717e8" stroke-width="1.1"/>
<rect x="437.2" y="283.9" width="10.4" height="17.9" fill="#1717e8"/>
<line x1="458.1" y1="289.9" x2="458.1" y2="287.5" stroke="#bdb420" stroke-width="1.1"/>
<line x1="455.5" y1="287.5" x2="460.7" y2="287.5" stroke="#bdb420" stroke-width="1.1"/>
<rect x="452.9" y="289.9" width="10.4" height="11.9" fill="#bdb420"/>
<line x1="327.6" y1="301.8" x2="327.6" y2="304.8" stroke="#000" stroke-width="1.4"/>
<text class="sb" x="327.6" y="316.5" font-size="10.8" text-anchor="middle" textLength="12.5" lengthAdjust="spacingAndGlyphs">G1</text>
<line x1="384.4" y1="301.8" x2="384.4" y2="304.8" stroke="#000" stroke-width="1.4"/>
<text class="sb" x="384.4" y="316.5" font-size="10.8" text-anchor="middle" textLength="6" lengthAdjust="spacingAndGlyphs">S</text>
<line x1="441.5" y1="301.8" x2="441.5" y2="304.8" stroke="#000" stroke-width="1.4"/>
<text class="sb" x="441.5" y="316.5" font-size="10.8" text-anchor="middle" textLength="13.5" lengthAdjust="spacingAndGlyphs">G2</text>
<text class="sb" transform="translate(272.8,241.2) rotate(-90)" x="0" y="0" font-size="8.8" text-anchor="middle" textLength="104.3" lengthAdjust="spacingAndGlyphs">Percentage of Cells(%)</text>
<rect x="420.6" y="174.7" width="12.3" height="6.1" fill="#ee2a7b"/>
<text class="sb" x="440.3" y="180.8" font-size="8.6" textLength="12.5" lengthAdjust="spacingAndGlyphs">NC</text>
<rect x="420.6" y="187" width="12.3" height="6.1" fill="#1717e8"/>
<text class="sb" x="440.3" y="193.3" font-size="8.6" textLength="32.1" lengthAdjust="spacingAndGlyphs">siHER2</text>
<rect x="420.6" y="202.3" width="12.3" height="6.1" fill="#bdb420"/>
<text class="sb" x="440.3" y="208.2" font-size="8.6" textLength="22.8" lengthAdjust="spacingAndGlyphs">RC48</text>
<text class="r" x="369" y="193.9" font-size="15.5" textLength="34.1" lengthAdjust="spacingAndGlyphs">A549</text>
<polyline fill="none" stroke="#333" stroke-width="1" points="310.5,191.8 310.5,188.9 345.5,188.9 345.5,191.8"/>
<polyline fill="none" stroke="#333" stroke-width="1" points="313.1,200 313.1,197.6 332.5,197.6 332.5,200"/>
<polyline fill="none" stroke="#333" stroke-width="1" points="365.8,230.8 365.8,228.4 400.6,228.4 400.6,230.8"/>
<polyline fill="none" stroke="#333" stroke-width="1" points="367.7,241.6 367.7,239.5 390,239.5 390,241.6"/>
<text class="sb" x="319.4" y="183.1" font-size="12.5" text-anchor="middle">*</text>
<text class="sb" x="330.7" y="183.1" font-size="12.5" text-anchor="middle">*</text>
<text class="sb" x="324.3" y="199.5" font-size="12.5" text-anchor="middle">*</text>
<text class="sb" x="375.1" y="225.9" font-size="12.5" text-anchor="middle">*</text>
<text class="sb" x="387" y="225.9" font-size="12.5" text-anchor="middle">*</text>
<text class="sb" x="380.2" y="242" font-size="12.5" text-anchor="middle">*</text>
<text class="sb" x="2.7" y="347.8" font-size="21.8" textLength="13.8" lengthAdjust="spacingAndGlyphs" stroke="#000" stroke-width="0.9">G</text>
<text class="r" x="88.8" y="350" font-size="16.1" textLength="21" lengthAdjust="spacingAndGlyphs">NC</text>
<text class="r" x="246.4" y="350.9" font-size="16.1" textLength="61.5" lengthAdjust="spacingAndGlyphs">siHER2-2</text>
<text class="r" x="395.8" y="351.7" font-size="16.1" textLength="56.6" lengthAdjust="spacingAndGlyphs">RC48 50</text>
<text class="r" x="452.5" y="351.7" font-size="11.2" textLength="28.9" lengthAdjust="spacingAndGlyphs">μg/mL</text>
<text class="r" transform="translate(16.1,412.9) rotate(-90)" x="0" y="0" font-size="16.1" text-anchor="middle" textLength="33.8" lengthAdjust="spacingAndGlyphs">A549</text>
<clipPath id="fc431"><rect x="32.4" y="358.7" width="143.3" height="101.4"/></clipPath>
<g clip-path="url(#fc431)">
<path d="M47 368h1v1h-1zM62 363h1v1h-1zM57 379h1v1h-1zM35 387h1v1h-1zM34 383h1v1h-1zM36 364h1v1h-1zM52 404h1v1h-1zM38 372h1v1h-1zM61 411h1v1h-1zM59 381h1v1h-1zM77 362h1v1h-1zM72 375h1v1h-1zM39 366h1v1h-1zM47 404h1v1h-1zM41 391h1v1h-1zM62 380h1v1h-1zM58 363h1v1h-1zM35 371h1v1h-1zM64 383h1v1h-1zM47 391h1v1h-1zM53 376h1v1h-1zM69 397h1v1h-1zM44 391h1v1h-1zM57 407h1v1h-1zM66 375h1v1h-1zM78 366h1v1h-1zM52 400h1v1h-1zM39 386h1v1h-1zM34 396h1v1h-1zM68 390h1v1h-1zM73 376h1v1h-1zM64 392h1v1h-1zM59 384h1v1h-1zM71 411h1v1h-1zM54 395h1v1h-1z" fill="#9a9a9a" opacity="0.35"/>
<path d="M84 400h1v1h-1zM125 413h1v1h-1zM137 382h1v1h-1zM107 399h1v1h-1zM81 390h1v1h-1zM91 375h1v1h-1zM84 403h1v1h-1zM89 380h1v1h-1zM107 408h1v1h-1zM85 389h1v1h-1zM118 408h1v1h-1zM137 408h1v1h-1zM99 388h1v1h-1zM105 408h1v1h-1zM147 376h1v1h-1zM92 380h1v1h-1zM96 391h1v1h-1zM121 381h1v1h-1zM80 388h1v1h-1zM105 394h1v1h-1zM146 400h1v1h-1zM116 397h1v1h-1zM127 372h1v1h-1zM142 404h1v1h-1zM141 405h1v1h-1zM107 387h1v1h-1zM87 397h1v1h-1zM84 372h1v1h-1zM94 377h1v1h-1zM103 372h1v1h-1z" fill="#9a9a9a" opacity="0.35"/>
<path d="M80 421h1v1h-1zM87 430h1v1h-1zM81 453h1v1h-1zM122 421h1v1h-1zM97 430h1v1h-1zM105 420h1v1h-1zM139 458h1v1h-1zM112 436h1v1h-1zM86 419h1v1h-1zM103 426h1v1h-1zM138 422h1v1h-1zM81 456h1v1h-1zM116 421h1v1h-1zM118 416h1v1h-1zM116 458h1v1h-1zM140 445h1v1h-1zM98 431h1v1h-1zM91 448h1v1h-1zM117 449h1v1h-1zM103 424h1v1h-1zM136 458h1v1h-1zM139 450h1v1h-1zM137 447h1v1h-1zM95 437h1v1h-1zM104 416h1v1h-1zM81 427h1v1h-1zM98 445h1v1h-1zM146 434h1v1h-1zM145 458h1v1h-1zM146 431h1v1h-1zM95 424h1v1h-1zM93 423h1v1h-1zM123 454h1v1h-1zM138 436h1v1h-1zM125 450h1v1h-1zM85 444h1v1h-1zM143 449h1v1h-1zM132 436h1v1h-1zM92 449h1v1h-1zM103 450h1v1h-1zM148 432h1v1h-1zM108 456h1v1h-1zM130 422h1v1h-1zM88 421h1v1h-1zM143 450h1v1h-1zM90 451h1v1h-1zM148 443h1v1h-1zM104 439h1v1h-1zM89 415h1v1h-1zM147 443h1v1h-1zM116 456h1v1h-1zM110 453h1v1h-1zM137 424h1v1h-1zM97 427h1v1h-1zM96 440h1v1h-1zM98 433h1v1h-1zM89 455h1v1h-1zM104 435h1v1h-1zM120 454h1v1h-1zM109 455h1v1h-1zM115 438h1v1h-1zM116 415h1v1h-1zM110 423h1v1h-1zM80 450h1v1h-1zM92 435h1v1h-1zM130 439h1v1h-1zM102 437h1v1h-1zM118 449h1v1h-1zM87 439h1v1h-1zM97 427h1v1h-1zM134 437h1v1h-1zM119 448h1v1h-1zM143 434h1v1h-1zM122 437h1v1h-1zM115 445h1v1h-1zM111 438h1v1h-1zM113 456h1v1h-1zM128 453h1v1h-1zM145 426h1v1h-1zM119 456h1v1h-1zM138 421h1v1h-1zM88 434h1v1h-1zM85 425h1v1h-1zM85 444h1v1h-1zM134 454h1v1h-1zM90 446h1v1h-1zM126 421h1v1h-1zM141 457h1v1h-1zM95 456h1v1h-1zM107 436h1v1h-1z" fill="#9a9a9a" opacity="0.4"/>
<path d="M116 406h1v1h-1zM100 421h1v1h-1zM76 425h1v1h-1zM96 423h1v1h-1zM88 418h1v1h-1zM74 424h1v1h-1zM103 414h1v1h-1zM75 420h1v1h-1zM132 409h1v1h-1zM91 399h1v1h-1zM100 418h1v1h-1zM115 411h1v1h-1zM90 423h1v1h-1zM64 439h1v1h-1zM92 413h1v1h-1zM114 422h1v1h-1zM67 425h1v1h-1zM94 419h1v1h-1zM81 416h1v1h-1zM123 412h1v1h-1zM68 419h1v1h-1zM117 414h1v1h-1zM118 412h1v1h-1zM78 427h1v1h-1zM56 429h1v1h-1zM90 423h1v1h-1zM79 424h1v1h-1zM97 419h1v1h-1zM99 417h1v1h-1zM87 427h1v1h-1zM88 414h1v1h-1zM80 424h1v1h-1zM88 421h1v1h-1zM90 421h1v1h-1zM84 412h1v1h-1zM99 423h1v1h-1zM95 415h1v1h-1zM93 410h1v1h-1zM62 433h1v1h-1zM78 430h1v1h-1zM66 410h1v1h-1zM79 437h1v1h-1zM80 413h1v1h-1zM80 428h1v1h-1zM97 417h1v1h-1zM113 414h1v1h-1zM91 423h1v1h-1zM116 414h1v1h-1zM101 406h1v1h-1zM90 425h1v1h-1zM88 428h1v1h-1zM101 421h1v1h-1zM94 437h1v1h-1zM107 410h1v1h-1zM98 435h1v1h-1zM87 427h1v1h-1zM104 413h1v1h-1zM73 429h1v1h-1zM98 424h1v1h-1zM101 414h1v1h-1zM103 417h1v1h-1zM93 418h1v1h-1zM88 425h1v1h-1zM72 423h1v1h-1zM85 410h1v1h-1zM77 410h1v1h-1zM81 428h1v1h-1zM98 415h1v1h-1zM82 412h1v1h-1zM118 410h1v1h-1zM103 407h1v1h-1zM81 409h1v1h-1zM104 420h1v1h-1zM62 432h1v1h-1zM93 404h1v1h-1zM60 425h1v1h-1zM76 415h1v1h-1zM91 421h1v1h-1zM101 420h1v1h-1zM115 417h1v1h-1zM69 425h1v1h-1zM71 420h1v1h-1zM88 420h1v1h-1zM92 406h1v1h-1zM71 428h1v1h-1zM86 419h1v1h-1zM86 415h1v1h-1zM101 417h1v1h-1zM86 416h1v1h-1zM79 403h1v1h-1zM75 426h1v1h-1zM68 431h1v1h-1zM88 410h1v1h-1zM85 419h1v1h-1zM98 420h1v1h-1zM86 414h1v1h-1zM87 420h1v1h-1zM101 416h1v1h-1zM75 416h1v1h-1zM82 417h1v1h-1zM73 426h1v1h-1zM83 423h1v1h-1zM96 413h1v1h-1zM122 402h1v1h-1zM106 413h1v1h-1zM99 397h1v1h-1zM79 426h1v1h-1zM105 430h1v1h-1zM98 425h1v1h-1zM103 420h1v1h-1zM96 415h1v1h-1zM94 409h1v1h-1zM104 405h1v1h-1zM99 431h1v1h-1zM86 421h1v1h-1zM106 412h1v1h-1zM79 427h1v1h-1zM100 420h1v1h-1zM83 436h1v1h-1zM114 408h1v1h-1zM92 415h1v1h-1zM108 405h1v1h-1zM98 412h1v1h-1zM82 429h1v1h-1zM109 410h1v1h-1zM82 429h1v1h-1zM90 422h1v1h-1zM115 416h1v1h-1zM89 438h1v1h-1zM92 424h1v1h-1zM80 424h1v1h-1zM69 443h1v1h-1zM106 403h1v1h-1zM63 419h1v1h-1zM105 409h1v1h-1zM88 418h1v1h-1zM85 413h1v1h-1zM86 410h1v1h-1zM89 422h1v1h-1zM96 415h1v1h-1zM77 427h1v1h-1zM87 433h1v1h-1zM100 414h1v1h-1zM81 418h1v1h-1zM75 424h1v1h-1zM95 421h1v1h-1zM104 429h1v1h-1zM79 424h1v1h-1zM125 389h1v1h-1zM82 424h1v1h-1zM93 421h1v1h-1zM87 423h1v1h-1zM93 424h1v1h-1zM59 427h1v1h-1zM86 413h1v1h-1zM76 431h1v1h-1zM82 428h1v1h-1zM101 416h1v1h-1zM97 415h1v1h-1zM69 429h1v1h-1z" fill="#9a9a9a" opacity="0.45"/>
<path d="M69 423h1v1h-1zM66 431h1v1h-1zM57 435h1v1h-1zM85 416h1v1h-1zM67 426h1v1h-1zM83 421h1v1h-1zM74 420h1v1h-1zM65 428h1v1h-1zM49 443h1v1h-1zM72 415h1v1h-1zM73 423h1v1h-1zM71 427h1v1h-1zM49 434h1v1h-1zM81 417h1v1h-1zM52 427h1v1h-1zM53 435h1v1h-1zM85 421h1v1h-1zM73 436h1v1h-1zM58 427h1v1h-1zM72 427h1v1h-1zM52 427h1v1h-1zM69 427h1v1h-1zM51 433h1v1h-1zM61 432h1v1h-1zM64 428h1v1h-1zM64 434h1v1h-1zM80 419h1v1h-1zM73 420h1v1h-1zM68 431h1v1h-1zM81 418h1v1h-1zM65 429h1v1h-1zM49 435h1v1h-1zM59 433h1v1h-1zM49 424h1v1h-1zM66 428h1v1h-1zM61 434h1v1h-1zM61 426h1v1h-1zM67 418h1v1h-1zM58 431h1v1h-1zM74 422h1v1h-1zM67 423h1v1h-1zM72 434h1v1h-1zM63 442h1v1h-1zM59 431h1v1h-1zM70 431h1v1h-1zM48 424h1v1h-1zM74 428h1v1h-1zM78 436h1v1h-1zM68 428h1v1h-1zM76 424h1v1h-1zM81 413h1v1h-1zM54 414h1v1h-1zM74 422h1v1h-1zM80 433h1v1h-1zM65 426h1v1h-1zM58 426h1v1h-1zM60 434h1v1h-1zM66 428h1v1h-1zM66 433h1v1h-1zM71 424h1v1h-1zM72 423h1v1h-1zM56 440h1v1h-1zM69 421h1v1h-1zM78 424h1v1h-1zM52 443h1v1h-1zM71 430h1v1h-1zM67 426h1v1h-1zM51 440h1v1h-1zM65 426h1v1h-1zM69 426h1v1h-1zM72 422h1v1h-1zM61 418h1v1h-1zM62 433h1v1h-1zM79 419h1v1h-1zM68 435h1v1h-1zM64 432h1v1h-1zM84 419h1v1h-1zM77 418h1v1h-1zM68 426h1v1h-1zM69 432h1v1h-1zM90 412h1v1h-1zM60 433h1v1h-1zM55 435h1v1h-1zM71 423h1v1h-1zM68 418h1v1h-1zM70 417h1v1h-1zM57 429h1v1h-1zM63 433h1v1h-1zM66 425h1v1h-1zM75 432h1v1h-1zM66 429h1v1h-1zM80 422h1v1h-1zM57 445h1v1h-1zM85 407h1v1h-1zM66 430h1v1h-1zM77 426h1v1h-1zM60 424h1v1h-1zM69 432h1v1h-1zM51 428h1v1h-1zM61 419h1v1h-1zM62 427h1v1h-1zM69 422h1v1h-1zM55 430h1v1h-1zM64 425h1v1h-1zM67 431h1v1h-1zM82 429h1v1h-1zM56 430h1v1h-1zM43 449h1v1h-1zM58 431h1v1h-1zM68 419h1v1h-1zM70 425h1v1h-1zM46 438h1v1h-1zM75 413h1v1h-1zM75 424h1v1h-1zM72 427h1v1h-1zM79 420h1v1h-1zM74 421h1v1h-1zM72 420h1v1h-1zM68 436h1v1h-1zM70 425h1v1h-1zM51 430h1v1h-1zM70 431h1v1h-1zM71 428h1v1h-1zM68 434h1v1h-1zM60 427h1v1h-1zM75 423h1v1h-1zM61 426h1v1h-1zM64 432h1v1h-1zM67 420h1v1h-1zM71 426h1v1h-1zM56 436h1v1h-1zM62 427h1v1h-1zM77 429h1v1h-1zM59 433h1v1h-1zM61 442h1v1h-1zM63 435h1v1h-1zM60 434h1v1h-1zM84 405h1v1h-1zM62 432h1v1h-1zM63 425h1v1h-1zM89 417h1v1h-1zM49 440h1v1h-1zM49 441h1v1h-1zM60 431h1v1h-1zM79 422h1v1h-1zM47 427h1v1h-1zM80 425h1v1h-1zM58 436h1v1h-1zM72 428h1v1h-1zM40 438h1v1h-1zM77 426h1v1h-1zM70 412h1v1h-1zM68 429h1v1h-1zM91 410h1v1h-1zM62 429h1v1h-1zM74 421h1v1h-1zM76 418h1v1h-1zM67 424h1v1h-1zM66 424h1v1h-1zM50 441h1v1h-1zM68 423h1v1h-1zM70 431h1v1h-1zM55 432h1v1h-1zM72 427h1v1h-1zM57 420h1v1h-1zM80 423h1v1h-1zM65 426h1v1h-1zM67 424h1v1h-1zM53 429h1v1h-1zM58 428h1v1h-1zM54 436h1v1h-1zM53 437h1v1h-1zM55 434h1v1h-1zM81 421h1v1h-1zM58 431h1v1h-1zM63 419h1v1h-1zM59 431h1v1h-1zM61 430h1v1h-1zM75 427h1v1h-1zM77 426h1v1h-1zM62 429h1v1h-1zM62 427h1v1h-1zM60 421h1v1h-1zM62 429h1v1h-1zM55 432h1v1h-1zM71 424h1v1h-1zM83 405h1v1h-1zM59 420h1v1h-1zM82 435h1v1h-1zM39 441h1v1h-1zM71 423h1v1h-1zM67 415h1v1h-1zM76 425h1v1h-1zM65 425h1v1h-1zM71 422h1v1h-1zM67 424h1v1h-1zM41 439h1v1h-1zM69 430h1v1h-1zM56 432h1v1h-1zM73 425h1v1h-1zM83 430h1v1h-1zM52 423h1v1h-1zM78 430h1v1h-1zM77 427h1v1h-1zM57 427h1v1h-1zM73 419h1v1h-1zM44 432h1v1h-1zM97 424h1v1h-1zM56 428h1v1h-1zM66 423h1v1h-1zM80 421h1v1h-1zM56 439h1v1h-1zM60 431h1v1h-1zM65 426h1v1h-1zM68 423h1v1h-1zM41 427h1v1h-1zM50 430h1v1h-1zM65 428h1v1h-1zM72 425h1v1h-1zM55 428h1v1h-1zM42 437h1v1h-1zM72 427h1v1h-1zM64 427h1v1h-1zM76 423h1v1h-1zM75 426h1v1h-1zM71 432h1v1h-1zM59 429h1v1h-1zM55 428h1v1h-1zM86 428h1v1h-1zM67 430h1v1h-1zM80 425h1v1h-1zM76 416h1v1h-1zM60 433h1v1h-1zM81 421h1v1h-1zM55 430h1v1h-1zM57 427h1v1h-1zM81 417h1v1h-1zM70 437h1v1h-1zM79 423h1v1h-1zM60 432h1v1h-1zM84 422h1v1h-1zM79 422h1v1h-1zM71 424h1v1h-1zM73 431h1v1h-1zM50 434h1v1h-1zM67 424h1v1h-1zM64 433h1v1h-1zM89 420h1v1h-1zM66 419h1v1h-1zM87 418h1v1h-1zM63 423h1v1h-1zM63 423h1v1h-1zM67 429h1v1h-1zM66 429h1v1h-1zM59 438h1v1h-1zM55 423h1v1h-1zM62 425h1v1h-1zM54 431h1v1h-1zM66 421h1v1h-1zM67 435h1v1h-1zM73 423h1v1h-1zM67 426h1v1h-1zM67 431h1v1h-1zM59 417h1v1h-1zM63 424h1v1h-1zM71 421h1v1h-1zM72 437h1v1h-1zM52 428h1v1h-1zM45 424h1v1h-1zM46 439h1v1h-1zM55 422h1v1h-1zM51 438h1v1h-1zM56 430h1v1h-1zM72 432h1v1h-1zM89 422h1v1h-1zM67 428h1v1h-1zM88 425h1v1h-1zM63 431h1v1h-1zM69 426h1v1h-1zM57 424h1v1h-1zM56 423h1v1h-1zM80 424h1v1h-1zM55 440h1v1h-1zM71 414h1v1h-1zM87 422h1v1h-1zM85 411h1v1h-1zM72 427h1v1h-1zM68 427h1v1h-1zM74 415h1v1h-1zM49 427h1v1h-1zM58 428h1v1h-1zM70 427h1v1h-1zM64 424h1v1h-1zM63 434h1v1h-1zM74 424h1v1h-1zM65 436h1v1h-1zM60 433h1v1h-1zM77 420h1v1h-1zM72 418h1v1h-1zM77 423h1v1h-1z" fill="#2aae2a" opacity="0.35"/>
<path d="M81 402h1v1h-1zM89 402h1v1h-1zM91 400h1v1h-1zM103 398h1v1h-1zM103 398h1v1h-1zM108 398h1v1h-1zM102 394h1v1h-1zM113 398h1v1h-1zM78 401h1v1h-1zM105 400h1v1h-1zM87 403h1v1h-1zM98 403h1v1h-1zM98 400h1v1h-1zM95 398h1v1h-1zM113 399h1v1h-1zM118 398h1v1h-1zM92 397h1v1h-1zM92 399h1v1h-1zM90 401h1v1h-1zM103 398h1v1h-1zM102 399h1v1h-1zM102 400h1v1h-1zM111 397h1v1h-1zM82 403h1v1h-1zM101 401h1v1h-1zM80 401h1v1h-1zM100 397h1v1h-1zM93 401h1v1h-1zM113 400h1v1h-1zM89 398h1v1h-1zM106 400h1v1h-1zM102 397h1v1h-1zM109 399h1v1h-1zM106 398h1v1h-1zM103 400h1v1h-1zM93 397h1v1h-1zM104 399h1v1h-1zM100 400h1v1h-1zM92 400h1v1h-1zM96 400h1v1h-1zM119 397h1v1h-1zM124 399h1v1h-1zM109 399h1v1h-1zM121 396h1v1h-1zM98 397h1v1h-1zM105 401h1v1h-1zM106 399h1v1h-1zM97 400h1v1h-1zM83 402h1v1h-1zM94 398h1v1h-1zM90 399h1v1h-1zM110 400h1v1h-1zM83 402h1v1h-1zM110 397h1v1h-1zM82 400h1v1h-1zM92 400h1v1h-1zM95 396h1v1h-1zM102 396h1v1h-1zM110 396h1v1h-1zM91 399h1v1h-1zM93 402h1v1h-1zM110 399h1v1h-1zM103 396h1v1h-1zM93 399h1v1h-1zM88 401h1v1h-1zM91 399h1v1h-1zM87 397h1v1h-1zM107 400h1v1h-1zM101 397h1v1h-1zM67 403h1v1h-1zM114 398h1v1h-1zM111 400h1v1h-1zM113 397h1v1h-1zM112 399h1v1h-1zM81 400h1v1h-1zM82 401h1v1h-1zM106 397h1v1h-1zM75 404h1v1h-1zM104 401h1v1h-1zM84 402h1v1h-1zM125 400h1v1h-1zM97 400h1v1h-1zM98 401h1v1h-1zM112 398h1v1h-1zM83 402h1v1h-1zM94 401h1v1h-1zM103 401h1v1h-1zM113 397h1v1h-1zM104 401h1v1h-1zM93 400h1v1h-1zM114 400h1v1h-1zM105 396h1v1h-1zM84 401h1v1h-1zM105 403h1v1h-1zM89 402h1v1h-1zM108 395h1v1h-1zM90 400h1v1h-1zM94 399h1v1h-1zM105 397h1v1h-1zM105 397h1v1h-1zM93 401h1v1h-1zM93 400h1v1h-1zM119 397h1v1h-1zM98 400h1v1h-1zM95 401h1v1h-1zM84 402h1v1h-1zM93 398h1v1h-1zM120 395h1v1h-1zM121 398h1v1h-1zM117 396h1v1h-1z" fill="#2aae2a" opacity="0.55"/>
<path d="M117 402h1v1h-1zM98 399h1v1h-1zM134 396h1v1h-1zM93 398h1v1h-1zM106 400h1v1h-1zM103 404h1v1h-1zM95 401h1v1h-1zM120 394h1v1h-1zM115 403h1v1h-1zM80 398h1v1h-1zM84 396h1v1h-1zM105 393h1v1h-1zM107 403h1v1h-1zM77 401h1v1h-1zM73 405h1v1h-1zM89 400h1v1h-1zM100 401h1v1h-1zM95 400h1v1h-1zM92 401h1v1h-1zM83 401h1v1h-1zM72 401h1v1h-1zM126 397h1v1h-1zM82 402h1v1h-1zM85 396h1v1h-1zM89 403h1v1h-1zM105 399h1v1h-1zM86 398h1v1h-1zM118 398h1v1h-1zM86 395h1v1h-1zM81 409h1v1h-1zM83 401h1v1h-1zM102 399h1v1h-1zM95 396h1v1h-1zM85 406h1v1h-1zM89 403h1v1h-1zM76 401h1v1h-1zM103 402h1v1h-1zM84 403h1v1h-1zM105 397h1v1h-1zM106 396h1v1h-1zM88 401h1v1h-1zM62 403h1v1h-1zM85 397h1v1h-1zM94 402h1v1h-1zM94 404h1v1h-1zM83 397h1v1h-1zM121 398h1v1h-1zM112 396h1v1h-1zM111 399h1v1h-1zM109 399h1v1h-1z" fill="#9a9a9a" opacity="0.5"/>
<ellipse cx="47" cy="438" rx="22" ry="16" transform="rotate(-10 47 438)" fill="#58bf58" opacity="0.45" filter="url(#b3)"/>
<rect x="28" y="431" width="28.5" height="33" fill="#1db31d" opacity="1" filter="url(#b1)"/>
<path d="M56 431h1v1h-1zM38 434h1v1h-1zM55 430h1v1h-1zM39 438h1v1h-1zM42 434h1v1h-1zM45 437h1v1h-1zM42 436h1v1h-1zM48 437h1v1h-1zM51 441h1v1h-1zM44 425h1v1h-1zM43 437h1v1h-1zM49 427h1v1h-1zM44 441h1v1h-1zM51 447h1v1h-1zM50 447h1v1h-1zM33 434h1v1h-1zM59 437h1v1h-1zM53 438h1v1h-1zM49 430h1v1h-1zM54 432h1v1h-1zM57 436h1v1h-1zM57 434h1v1h-1zM48 443h1v1h-1zM45 438h1v1h-1zM51 440h1v1h-1zM60 434h1v1h-1zM69 443h1v1h-1zM65 439h1v1h-1zM51 440h1v1h-1zM46 436h1v1h-1zM47 436h1v1h-1zM63 436h1v1h-1zM40 430h1v1h-1zM48 437h1v1h-1zM38 437h1v1h-1zM36 452h1v1h-1zM58 455h1v1h-1zM49 439h1v1h-1zM60 435h1v1h-1zM49 437h1v1h-1zM51 451h1v1h-1zM62 446h1v1h-1zM47 441h1v1h-1zM47 449h1v1h-1zM42 448h1v1h-1zM62 444h1v1h-1zM47 450h1v1h-1zM42 438h1v1h-1zM44 452h1v1h-1zM59 429h1v1h-1zM43 440h1v1h-1zM70 436h1v1h-1zM39 431h1v1h-1zM49 449h1v1h-1zM62 430h1v1h-1zM43 439h1v1h-1zM40 453h1v1h-1zM46 450h1v1h-1zM33 439h1v1h-1zM49 434h1v1h-1zM55 436h1v1h-1zM44 448h1v1h-1zM49 425h1v1h-1zM64 435h1v1h-1zM48 425h1v1h-1zM43 440h1v1h-1zM52 426h1v1h-1zM36 431h1v1h-1zM49 443h1v1h-1zM36 443h1v1h-1zM59 447h1v1h-1zM53 435h1v1h-1zM38 439h1v1h-1zM45 443h1v1h-1zM55 450h1v1h-1zM48 432h1v1h-1zM64 439h1v1h-1zM48 435h1v1h-1zM33 441h1v1h-1zM53 431h1v1h-1zM41 446h1v1h-1zM53 442h1v1h-1zM59 445h1v1h-1zM47 449h1v1h-1zM45 448h1v1h-1zM52 440h1v1h-1zM56 436h1v1h-1zM60 440h1v1h-1zM48 436h1v1h-1zM42 439h1v1h-1zM48 440h1v1h-1zM72 431h1v1h-1zM52 431h1v1h-1zM43 440h1v1h-1zM47 432h1v1h-1zM59 430h1v1h-1zM49 421h1v1h-1zM50 441h1v1h-1zM53 442h1v1h-1zM52 439h1v1h-1zM34 443h1v1h-1zM35 453h1v1h-1zM51 437h1v1h-1zM42 439h1v1h-1zM68 443h1v1h-1zM54 448h1v1h-1zM43 436h1v1h-1zM46 443h1v1h-1zM68 423h1v1h-1zM51 441h1v1h-1zM53 445h1v1h-1zM57 425h1v1h-1zM50 437h1v1h-1zM47 429h1v1h-1zM54 439h1v1h-1zM42 425h1v1h-1zM44 436h1v1h-1zM37 440h1v1h-1zM56 440h1v1h-1zM51 443h1v1h-1zM46 442h1v1h-1zM52 443h1v1h-1zM49 439h1v1h-1zM46 436h1v1h-1zM67 434h1v1h-1zM60 452h1v1h-1zM54 424h1v1h-1zM57 442h1v1h-1zM67 440h1v1h-1zM51 429h1v1h-1zM44 445h1v1h-1zM49 431h1v1h-1zM45 439h1v1h-1zM51 441h1v1h-1zM43 433h1v1h-1zM64 444h1v1h-1zM52 446h1v1h-1zM55 442h1v1h-1zM50 433h1v1h-1zM57 443h1v1h-1zM50 455h1v1h-1zM70 442h1v1h-1zM66 436h1v1h-1zM45 437h1v1h-1zM44 443h1v1h-1zM52 444h1v1h-1zM65 430h1v1h-1zM56 440h1v1h-1zM51 437h1v1h-1zM46 435h1v1h-1zM51 439h1v1h-1zM49 433h1v1h-1zM50 440h1v1h-1zM50 431h1v1h-1zM56 444h1v1h-1zM52 435h1v1h-1zM45 440h1v1h-1zM60 446h1v1h-1zM46 436h1v1h-1zM53 439h1v1h-1zM41 439h1v1h-1zM51 444h1v1h-1zM38 438h1v1h-1zM49 430h1v1h-1zM51 441h1v1h-1zM45 434h1v1h-1zM48 438h1v1h-1zM49 433h1v1h-1zM51 425h1v1h-1zM48 440h1v1h-1zM54 432h1v1h-1zM51 434h1v1h-1zM61 447h1v1h-1zM48 444h1v1h-1zM46 449h1v1h-1zM58 435h1v1h-1zM43 446h1v1h-1zM61 442h1v1h-1zM49 425h1v1h-1zM50 451h1v1h-1zM45 451h1v1h-1zM65 437h1v1h-1zM56 433h1v1h-1zM41 444h1v1h-1zM48 440h1v1h-1zM54 436h1v1h-1zM52 441h1v1h-1zM56 451h1v1h-1zM53 438h1v1h-1zM46 437h1v1h-1zM59 435h1v1h-1zM40 440h1v1h-1zM47 437h1v1h-1zM53 428h1v1h-1zM53 438h1v1h-1zM42 444h1v1h-1zM51 443h1v1h-1zM47 443h1v1h-1zM34 440h1v1h-1zM59 443h1v1h-1zM47 436h1v1h-1zM50 422h1v1h-1zM46 447h1v1h-1zM50 431h1v1h-1zM42 456h1v1h-1zM47 433h1v1h-1zM53 445h1v1h-1zM35 457h1v1h-1zM47 424h1v1h-1zM49 426h1v1h-1zM59 437h1v1h-1zM63 427h1v1h-1zM53 446h1v1h-1zM43 438h1v1h-1zM47 441h1v1h-1zM44 447h1v1h-1zM54 438h1v1h-1zM60 431h1v1h-1zM57 431h1v1h-1zM48 425h1v1h-1zM50 438h1v1h-1zM44 438h1v1h-1zM45 437h1v1h-1zM32 445h1v1h-1zM44 439h1v1h-1zM42 443h1v1h-1zM54 435h1v1h-1zM51 450h1v1h-1zM59 441h1v1h-1zM56 433h1v1h-1zM53 447h1v1h-1zM45 441h1v1h-1zM53 440h1v1h-1zM51 447h1v1h-1zM51 445h1v1h-1zM59 439h1v1h-1zM51 430h1v1h-1zM38 441h1v1h-1zM58 447h1v1h-1zM42 446h1v1h-1zM41 438h1v1h-1zM50 445h1v1h-1zM55 446h1v1h-1zM46 449h1v1h-1zM56 436h1v1h-1zM51 434h1v1h-1zM41 441h1v1h-1zM52 451h1v1h-1zM52 441h1v1h-1zM52 432h1v1h-1zM57 438h1v1h-1zM41 449h1v1h-1zM55 440h1v1h-1zM59 431h1v1h-1zM56 442h1v1h-1zM47 450h1v1h-1zM35 437h1v1h-1zM49 431h1v1h-1zM43 430h1v1h-1zM46 432h1v1h-1zM47 429h1v1h-1zM52 436h1v1h-1zM50 439h1v1h-1zM46 431h1v1h-1zM41 440h1v1h-1zM46 426h1v1h-1zM42 439h1v1h-1zM43 446h1v1h-1zM46 435h1v1h-1zM46 448h1v1h-1zM47 446h1v1h-1zM46 426h1v1h-1zM42 444h1v1h-1zM55 443h1v1h-1zM59 443h1v1h-1zM46 440h1v1h-1zM53 434h1v1h-1zM51 426h1v1h-1zM53 436h1v1h-1zM39 453h1v1h-1zM52 438h1v1h-1zM40 441h1v1h-1zM57 428h1v1h-1zM41 443h1v1h-1zM44 436h1v1h-1zM47 449h1v1h-1zM46 457h1v1h-1zM42 435h1v1h-1zM57 440h1v1h-1zM45 448h1v1h-1zM34 441h1v1h-1zM56 433h1v1h-1zM42 448h1v1h-1z" fill="#0c9c0c" opacity="0.55"/>
<path d="M51 444h1v1h-1zM50 450h1v1h-1zM56 439h1v1h-1zM41 449h1v1h-1zM50 437h1v1h-1zM44 426h1v1h-1zM48 440h1v1h-1zM50 450h1v1h-1zM36 452h1v1h-1zM48 450h1v1h-1zM35 445h1v1h-1zM42 447h1v1h-1zM46 458h1v1h-1zM50 444h1v1h-1zM46 438h1v1h-1zM40 445h1v1h-1zM36 453h1v1h-1zM49 457h1v1h-1zM37 448h1v1h-1zM49 448h1v1h-1zM43 445h1v1h-1zM49 448h1v1h-1zM46 447h1v1h-1zM42 442h1v1h-1zM40 443h1v1h-1zM50 450h1v1h-1zM61 448h1v1h-1zM37 448h1v1h-1zM39 453h1v1h-1zM61 444h1v1h-1zM37 456h1v1h-1zM46 449h1v1h-1zM54 435h1v1h-1zM44 441h1v1h-1zM48 453h1v1h-1zM41 444h1v1h-1zM33 456h1v1h-1zM47 451h1v1h-1zM43 452h1v1h-1zM50 443h1v1h-1zM41 448h1v1h-1zM37 450h1v1h-1zM43 450h1v1h-1zM58 450h1v1h-1zM44 453h1v1h-1zM49 451h1v1h-1zM46 449h1v1h-1zM39 445h1v1h-1zM55 452h1v1h-1zM51 447h1v1h-1zM45 444h1v1h-1zM44 443h1v1h-1zM39 450h1v1h-1zM42 450h1v1h-1zM40 444h1v1h-1zM49 438h1v1h-1zM43 453h1v1h-1zM39 447h1v1h-1zM46 444h1v1h-1zM36 452h1v1h-1zM40 458h1v1h-1zM38 448h1v1h-1zM43 450h1v1h-1zM57 455h1v1h-1zM45 458h1v1h-1zM54 448h1v1h-1zM42 456h1v1h-1zM45 450h1v1h-1zM45 453h1v1h-1zM56 450h1v1h-1zM47 454h1v1h-1zM51 436h1v1h-1zM50 434h1v1h-1zM50 449h1v1h-1zM56 443h1v1h-1zM38 445h1v1h-1zM39 457h1v1h-1zM40 444h1v1h-1zM46 441h1v1h-1zM40 446h1v1h-1zM61 450h1v1h-1zM38 439h1v1h-1zM47 447h1v1h-1zM49 450h1v1h-1zM46 454h1v1h-1zM51 445h1v1h-1zM40 446h1v1h-1zM45 438h1v1h-1zM41 444h1v1h-1zM37 457h1v1h-1zM44 448h1v1h-1zM45 435h1v1h-1zM45 450h1v1h-1zM46 438h1v1h-1zM50 446h1v1h-1zM58 449h1v1h-1zM56 458h1v1h-1zM43 445h1v1h-1zM39 443h1v1h-1zM38 436h1v1h-1zM45 450h1v1h-1zM50 441h1v1h-1zM52 438h1v1h-1zM37 437h1v1h-1zM36 446h1v1h-1zM56 445h1v1h-1zM39 455h1v1h-1zM47 444h1v1h-1zM44 446h1v1h-1zM35 439h1v1h-1zM48 455h1v1h-1zM53 440h1v1h-1zM39 449h1v1h-1zM52 446h1v1h-1zM42 452h1v1h-1zM45 451h1v1h-1zM37 440h1v1h-1zM47 452h1v1h-1zM37 451h1v1h-1zM49 442h1v1h-1zM54 450h1v1h-1zM54 452h1v1h-1zM36 447h1v1h-1zM39 435h1v1h-1zM51 448h1v1h-1zM43 452h1v1h-1zM51 446h1v1h-1zM53 454h1v1h-1zM42 450h1v1h-1zM44 456h1v1h-1zM43 452h1v1h-1zM46 447h1v1h-1zM56 440h1v1h-1zM57 447h1v1h-1zM53 441h1v1h-1zM53 448h1v1h-1zM41 451h1v1h-1zM44 448h1v1h-1zM51 438h1v1h-1zM39 445h1v1h-1zM47 451h1v1h-1zM57 443h1v1h-1zM45 441h1v1h-1zM53 453h1v1h-1zM47 431h1v1h-1zM56 453h1v1h-1zM45 436h1v1h-1zM44 452h1v1h-1zM45 441h1v1h-1zM42 457h1v1h-1zM46 449h1v1h-1zM34 449h1v1h-1zM44 436h1v1h-1zM54 431h1v1h-1zM36 452h1v1h-1zM50 450h1v1h-1zM41 448h1v1h-1zM41 445h1v1h-1zM47 447h1v1h-1zM41 451h1v1h-1zM44 447h1v1h-1zM46 433h1v1h-1zM43 440h1v1h-1zM47 457h1v1h-1zM37 451h1v1h-1zM44 455h1v1h-1zM32 441h1v1h-1zM47 443h1v1h-1zM46 455h1v1h-1zM37 449h1v1h-1zM47 449h1v1h-1zM45 456h1v1h-1zM58 437h1v1h-1zM50 428h1v1h-1zM53 440h1v1h-1zM44 445h1v1h-1zM36 443h1v1h-1zM46 457h1v1h-1z" fill="#7fd07f" opacity="0.5"/>
</g>
<line x1="79.6" y1="358.7" x2="79.6" y2="460.1" stroke="#4a4a4a" stroke-width="1"/>
<line x1="32.4" y1="414.6" x2="175.7" y2="414.6" stroke="#4a4a4a" stroke-width="1"/>
<rect x="32.4" y="358.7" width="143.3" height="101.4" fill="none" stroke="#3a3a3a" stroke-width="0.9"/>
<text class="sr" x="45.9" y="394.5" font-size="14.5" textLength="35.2" lengthAdjust="spacingAndGlyphs">0.6%</text>
<text class="sr" x="121.8" y="394.5" font-size="14.5" textLength="35.2" lengthAdjust="spacingAndGlyphs">2.3%</text>
<text class="sr" x="41.7" y="450.4" font-size="14.5" textLength="42.9" lengthAdjust="spacingAndGlyphs">94.9%</text>
<text class="sr" x="123.9" y="454.5" font-size="14.5" textLength="34.4" lengthAdjust="spacingAndGlyphs">2.2%</text>
<text class="sr" x="36.6" y="372.2" font-size="4.6" fill="#444">Q1</text>
<text class="sr" x="157" y="372.2" font-size="4.6" fill="#444">Q2</text>
<text class="sr" x="35.5" y="458.3" font-size="4.6" fill="#444">Q3</text>
<text class="sr" x="160" y="458.3" font-size="4.6" fill="#444">Q4</text>
<text class="sr" x="51.2" y="471.1" font-size="5.4" text-anchor="middle" fill="#555">10</text>
<text class="sr" x="55" y="468.7" font-size="3.8" text-anchor="middle" fill="#555">2</text>
<text class="sr" x="87.1" y="471.1" font-size="5.4" text-anchor="middle" fill="#555">10</text>
<text class="sr" x="90.9" y="468.7" font-size="3.8" text-anchor="middle" fill="#555">3</text>
<text class="sr" x="123" y="471.1" font-size="5.4" text-anchor="middle" fill="#555">10</text>
<text class="sr" x="126.8" y="468.7" font-size="3.8" text-anchor="middle" fill="#555">4</text>
<text class="sr" x="158.9" y="471.1" font-size="5.4" text-anchor="middle" fill="#555">10</text>
<text class="sr" x="162.7" y="468.7" font-size="3.8" text-anchor="middle" fill="#555">5</text>
<g transform="translate(29,367.7) rotate(-90)"><text class="sr" x="1.2" y="0" font-size="5.4" text-anchor="middle" fill="#555">10</text><text class="sr" x="-2.6" y="-2.4" font-size="3.8" text-anchor="middle" fill="#555">5</text></g>
<g transform="translate(29,393.6) rotate(-90)"><text class="sr" x="1.2" y="0" font-size="5.4" text-anchor="middle" fill="#555">10</text><text class="sr" x="-2.6" y="-2.4" font-size="3.8" text-anchor="middle" fill="#555">4</text></g>
<g transform="translate(29,419.5) rotate(-90)"><text class="sr" x="1.2" y="0" font-size="5.4" text-anchor="middle" fill="#555">10</text><text class="sr" x="-2.6" y="-2.4" font-size="3.8" text-anchor="middle" fill="#555">3</text></g>
<g transform="translate(29,445.4) rotate(-90)"><text class="sr" x="1.2" y="0" font-size="5.4" text-anchor="middle" fill="#555">10</text><text class="sr" x="-2.6" y="-2.4" font-size="3.8" text-anchor="middle" fill="#555">2</text></g>
<path d="M33.6 460.1v2M38.1 460.1v2M41.6 460.1v2M44.4 460.1v2M46.8 460.1v2M48.9 460.1v2M50.8 460.1v2M52.4 460.1v3M63.2 460.1v2M69.5 460.1v2M74 460.1v2M77.5 460.1v2M80.3 460.1v2M82.7 460.1v2M84.8 460.1v2M86.7 460.1v2M88.3 460.1v3M99.1 460.1v2M105.4 460.1v2M109.9 460.1v2M113.4 460.1v2M116.2 460.1v2M118.6 460.1v2M120.7 460.1v2M122.6 460.1v2M124.2 460.1v3M135 460.1v2M141.3 460.1v2M145.8 460.1v2M149.3 460.1v2M152.1 460.1v2M154.5 460.1v2M156.6 460.1v2M158.5 460.1v2M160.1 460.1v3M170.9 460.1v2M32.4 367.7h-3M32.4 359.9h-2M32.4 393.6h-3M32.4 385.8h-2M32.4 381.2h-2M32.4 378h-2M32.4 375.5h-2M32.4 373.4h-2M32.4 371.7h-2M32.4 370.2h-2M32.4 368.9h-2M32.4 419.5h-3M32.4 411.7h-2M32.4 407.1h-2M32.4 403.9h-2M32.4 401.4h-2M32.4 399.3h-2M32.4 397.6h-2M32.4 396.1h-2M32.4 394.8h-2M32.4 445.4h-3M32.4 437.6h-2M32.4 433h-2M32.4 429.8h-2M32.4 427.3h-2M32.4 425.2h-2M32.4 423.5h-2M32.4 422h-2M32.4 420.7h-2M32.4 458.9h-2M32.4 455.7h-2M32.4 453.2h-2M32.4 451.1h-2M32.4 449.4h-2M32.4 447.9h-2M32.4 446.6h-2" stroke="#444" stroke-width="0.8" fill="none"/>
<clipPath id="fc469"><rect x="193.3" y="358.7" width="144.9" height="102"/></clipPath>
<g clip-path="url(#fc469)">
<path d="M225 384h1v1h-1zM215 375h1v1h-1zM205 405h1v1h-1zM194 369h1v1h-1zM216 382h1v1h-1zM196 393h1v1h-1zM206 389h1v1h-1zM207 387h1v1h-1zM212 380h1v1h-1zM197 369h1v1h-1zM223 387h1v1h-1zM197 403h1v1h-1zM202 364h1v1h-1zM211 372h1v1h-1zM210 388h1v1h-1zM201 389h1v1h-1zM197 386h1v1h-1zM213 364h1v1h-1zM207 363h1v1h-1zM208 404h1v1h-1zM212 396h1v1h-1zM218 365h1v1h-1zM226 396h1v1h-1zM197 402h1v1h-1zM206 368h1v1h-1zM225 388h1v1h-1zM219 366h1v1h-1zM219 362h1v1h-1zM201 378h1v1h-1zM194 390h1v1h-1z" fill="#9a9a9a" opacity="0.35"/>
<path d="M243 378h1v1h-1zM278 384h1v1h-1zM291 393h1v1h-1zM290 390h1v1h-1zM294 405h1v1h-1zM240 399h1v1h-1zM252 400h1v1h-1zM276 402h1v1h-1zM236 382h1v1h-1zM281 408h1v1h-1zM279 367h1v1h-1zM271 369h1v1h-1zM267 401h1v1h-1zM236 407h1v1h-1zM276 376h1v1h-1zM241 385h1v1h-1zM288 391h1v1h-1zM236 365h1v1h-1zM235 401h1v1h-1zM241 390h1v1h-1zM248 396h1v1h-1zM255 371h1v1h-1zM291 389h1v1h-1zM277 402h1v1h-1zM296 365h1v1h-1zM252 371h1v1h-1zM264 405h1v1h-1zM285 366h1v1h-1zM241 402h1v1h-1zM276 383h1v1h-1z" fill="#9a9a9a" opacity="0.35"/>
<path d="M262 419h1v1h-1zM288 430h1v1h-1zM290 440h1v1h-1zM233 427h1v1h-1zM243 454h1v1h-1zM270 414h1v1h-1zM240 428h1v1h-1zM261 439h1v1h-1zM255 428h1v1h-1zM228 439h1v1h-1zM252 412h1v1h-1zM261 458h1v1h-1zM231 418h1v1h-1zM276 424h1v1h-1zM247 435h1v1h-1zM246 438h1v1h-1zM266 456h1v1h-1zM299 413h1v1h-1zM268 448h1v1h-1zM290 448h1v1h-1zM273 441h1v1h-1zM254 425h1v1h-1zM285 453h1v1h-1zM295 444h1v1h-1zM249 447h1v1h-1zM281 435h1v1h-1zM273 428h1v1h-1zM267 431h1v1h-1zM232 427h1v1h-1zM251 458h1v1h-1zM262 429h1v1h-1zM245 423h1v1h-1zM253 418h1v1h-1zM228 452h1v1h-1zM260 432h1v1h-1zM268 426h1v1h-1zM240 415h1v1h-1zM249 426h1v1h-1zM280 437h1v1h-1zM295 428h1v1h-1zM294 439h1v1h-1zM233 420h1v1h-1zM269 458h1v1h-1zM253 448h1v1h-1zM258 452h1v1h-1zM232 434h1v1h-1zM292 424h1v1h-1zM246 413h1v1h-1zM239 424h1v1h-1zM278 422h1v1h-1zM256 421h1v1h-1zM271 452h1v1h-1zM274 421h1v1h-1zM280 457h1v1h-1zM271 415h1v1h-1zM286 453h1v1h-1zM252 418h1v1h-1zM241 437h1v1h-1zM291 442h1v1h-1zM294 421h1v1h-1zM251 447h1v1h-1zM274 431h1v1h-1zM276 427h1v1h-1zM232 431h1v1h-1zM231 441h1v1h-1zM252 435h1v1h-1zM271 424h1v1h-1zM261 412h1v1h-1zM294 438h1v1h-1zM299 414h1v1h-1z" fill="#9a9a9a" opacity="0.4"/>
<path d="M245 393h1v1h-1zM254 394h1v1h-1zM258 394h1v1h-1zM256 393h1v1h-1zM259 392h1v1h-1zM244 394h1v1h-1zM243 394h1v1h-1zM249 393h1v1h-1zM255 393h1v1h-1zM252 392h1v1h-1zM257 392h1v1h-1zM259 390h1v1h-1zM249 394h1v1h-1zM234 394h1v1h-1zM256 394h1v1h-1zM243 394h1v1h-1zM257 392h1v1h-1zM262 393h1v1h-1zM256 393h1v1h-1zM260 393h1v1h-1zM265 394h1v1h-1zM250 394h1v1h-1zM263 393h1v1h-1zM259 394h1v1h-1zM254 391h1v1h-1zM257 394h1v1h-1zM257 392h1v1h-1zM266 393h1v1h-1zM250 393h1v1h-1zM259 392h1v1h-1zM247 396h1v1h-1zM267 394h1v1h-1zM267 394h1v1h-1zM241 396h1v1h-1zM266 394h1v1h-1zM239 396h1v1h-1zM267 392h1v1h-1zM257 394h1v1h-1zM255 395h1v1h-1zM256 394h1v1h-1zM256 392h1v1h-1zM247 398h1v1h-1zM258 395h1v1h-1zM266 395h1v1h-1zM260 392h1v1h-1zM256 391h1v1h-1zM254 395h1v1h-1zM237 395h1v1h-1zM263 395h1v1h-1zM247 393h1v1h-1zM239 393h1v1h-1zM260 396h1v1h-1zM246 396h1v1h-1zM259 393h1v1h-1zM274 389h1v1h-1zM255 394h1v1h-1zM274 395h1v1h-1zM275 393h1v1h-1zM264 395h1v1h-1zM260 394h1v1h-1zM254 393h1v1h-1zM245 397h1v1h-1zM251 391h1v1h-1zM258 393h1v1h-1zM257 396h1v1h-1zM255 393h1v1h-1zM249 394h1v1h-1zM252 394h1v1h-1zM283 393h1v1h-1zM248 396h1v1h-1zM263 394h1v1h-1zM262 394h1v1h-1zM261 395h1v1h-1zM264 395h1v1h-1zM251 394h1v1h-1zM249 395h1v1h-1zM263 393h1v1h-1zM261 397h1v1h-1zM266 392h1v1h-1zM255 394h1v1h-1zM255 394h1v1h-1zM266 393h1v1h-1zM246 395h1v1h-1zM255 394h1v1h-1zM250 392h1v1h-1zM245 394h1v1h-1zM246 391h1v1h-1zM265 392h1v1h-1zM249 395h1v1h-1zM234 396h1v1h-1zM249 395h1v1h-1zM251 394h1v1h-1zM256 393h1v1h-1zM239 392h1v1h-1zM255 395h1v1h-1zM251 394h1v1h-1zM257 394h1v1h-1zM264 391h1v1h-1zM258 393h1v1h-1zM253 393h1v1h-1zM249 393h1v1h-1zM246 397h1v1h-1zM270 393h1v1h-1zM262 392h1v1h-1zM231 392h1v1h-1zM257 395h1v1h-1zM255 392h1v1h-1zM253 392h1v1h-1zM243 394h1v1h-1zM252 393h1v1h-1z" fill="#2aae2a" opacity="0.55"/>
<path d="M248 401h1v1h-1zM258 403h1v1h-1zM254 404h1v1h-1zM241 403h1v1h-1zM245 402h1v1h-1zM256 402h1v1h-1zM265 400h1v1h-1zM245 402h1v1h-1zM258 400h1v1h-1zM263 403h1v1h-1zM243 403h1v1h-1zM264 399h1v1h-1zM257 401h1v1h-1zM243 404h1v1h-1zM257 401h1v1h-1zM259 402h1v1h-1zM262 402h1v1h-1zM259 400h1v1h-1zM252 402h1v1h-1zM231 405h1v1h-1zM252 400h1v1h-1zM240 403h1v1h-1zM256 401h1v1h-1zM252 401h1v1h-1zM249 402h1v1h-1zM250 403h1v1h-1zM254 402h1v1h-1zM259 403h1v1h-1zM261 402h1v1h-1zM254 401h1v1h-1zM253 403h1v1h-1zM257 401h1v1h-1zM244 400h1v1h-1zM258 403h1v1h-1zM259 400h1v1h-1zM254 402h1v1h-1zM247 402h1v1h-1zM254 401h1v1h-1zM245 403h1v1h-1zM259 400h1v1h-1zM247 403h1v1h-1zM261 401h1v1h-1zM269 400h1v1h-1zM246 403h1v1h-1zM254 402h1v1h-1zM256 400h1v1h-1zM245 402h1v1h-1zM268 400h1v1h-1zM267 401h1v1h-1zM246 402h1v1h-1zM260 400h1v1h-1zM237 403h1v1h-1zM246 403h1v1h-1zM239 402h1v1h-1zM248 400h1v1h-1zM253 402h1v1h-1zM251 400h1v1h-1zM257 399h1v1h-1zM260 402h1v1h-1zM270 402h1v1h-1zM259 402h1v1h-1zM256 400h1v1h-1zM268 401h1v1h-1zM253 400h1v1h-1zM269 401h1v1h-1zM245 403h1v1h-1zM272 401h1v1h-1zM259 401h1v1h-1zM250 403h1v1h-1zM282 400h1v1h-1zM254 403h1v1h-1zM253 403h1v1h-1zM263 400h1v1h-1zM246 402h1v1h-1zM263 401h1v1h-1zM266 399h1v1h-1zM260 400h1v1h-1zM256 402h1v1h-1zM247 402h1v1h-1zM245 402h1v1h-1zM248 401h1v1h-1zM257 401h1v1h-1zM265 400h1v1h-1zM263 401h1v1h-1zM246 402h1v1h-1zM248 401h1v1h-1zM253 404h1v1h-1zM252 404h1v1h-1zM259 400h1v1h-1zM235 403h1v1h-1zM238 403h1v1h-1zM264 402h1v1h-1zM254 401h1v1h-1zM258 401h1v1h-1zM251 401h1v1h-1zM266 400h1v1h-1zM259 400h1v1h-1zM249 400h1v1h-1zM254 402h1v1h-1zM258 401h1v1h-1zM261 401h1v1h-1zM259 402h1v1h-1zM260 398h1v1h-1zM244 403h1v1h-1zM255 404h1v1h-1zM253 401h1v1h-1zM269 402h1v1h-1zM272 401h1v1h-1zM254 403h1v1h-1zM249 401h1v1h-1z" fill="#2aae2a" opacity="0.45"/>
<path d="M242 397h1v1h-1zM260 395h1v1h-1zM254 395h1v1h-1zM260 386h1v1h-1zM247 398h1v1h-1zM235 403h1v1h-1zM253 402h1v1h-1zM263 399h1v1h-1zM247 393h1v1h-1zM246 396h1v1h-1zM253 395h1v1h-1zM290 388h1v1h-1zM265 394h1v1h-1zM247 401h1v1h-1zM249 393h1v1h-1zM255 396h1v1h-1zM222 401h1v1h-1zM235 396h1v1h-1zM256 398h1v1h-1zM246 406h1v1h-1zM255 395h1v1h-1zM253 397h1v1h-1zM219 394h1v1h-1zM231 407h1v1h-1zM247 397h1v1h-1zM242 402h1v1h-1zM250 404h1v1h-1zM261 403h1v1h-1zM248 399h1v1h-1zM244 397h1v1h-1zM226 397h1v1h-1zM236 396h1v1h-1zM266 397h1v1h-1zM266 399h1v1h-1zM262 400h1v1h-1zM242 401h1v1h-1zM245 396h1v1h-1zM266 404h1v1h-1zM237 405h1v1h-1zM260 393h1v1h-1zM253 399h1v1h-1zM254 396h1v1h-1zM232 399h1v1h-1zM261 400h1v1h-1zM259 401h1v1h-1zM236 399h1v1h-1zM254 401h1v1h-1zM252 399h1v1h-1zM252 405h1v1h-1zM220 400h1v1h-1z" fill="#9a9a9a" opacity="0.45"/>
<path d="M313 411h1v1h-1zM224 434h1v1h-1zM231 427h1v1h-1zM269 433h1v1h-1zM272 425h1v1h-1zM283 419h1v1h-1zM244 428h1v1h-1zM268 420h1v1h-1zM247 425h1v1h-1zM229 425h1v1h-1zM259 422h1v1h-1zM265 432h1v1h-1zM268 422h1v1h-1zM236 423h1v1h-1zM268 416h1v1h-1zM268 414h1v1h-1zM264 422h1v1h-1zM281 415h1v1h-1zM254 427h1v1h-1zM266 434h1v1h-1zM255 421h1v1h-1zM256 428h1v1h-1zM267 427h1v1h-1zM238 447h1v1h-1zM299 413h1v1h-1zM237 431h1v1h-1zM266 407h1v1h-1zM259 414h1v1h-1zM273 430h1v1h-1zM280 408h1v1h-1zM291 422h1v1h-1zM255 429h1v1h-1zM292 413h1v1h-1zM260 420h1v1h-1zM281 403h1v1h-1zM289 409h1v1h-1zM278 408h1v1h-1zM241 425h1v1h-1zM276 408h1v1h-1zM273 416h1v1h-1zM286 415h1v1h-1zM271 420h1v1h-1zM298 411h1v1h-1zM264 437h1v1h-1zM264 428h1v1h-1zM247 429h1v1h-1zM215 437h1v1h-1zM246 417h1v1h-1zM235 439h1v1h-1zM268 411h1v1h-1zM297 409h1v1h-1zM254 427h1v1h-1zM235 419h1v1h-1zM248 435h1v1h-1zM278 408h1v1h-1zM286 417h1v1h-1zM272 421h1v1h-1zM268 415h1v1h-1zM242 424h1v1h-1zM255 430h1v1h-1zM239 441h1v1h-1zM248 423h1v1h-1zM277 422h1v1h-1zM253 418h1v1h-1zM238 419h1v1h-1zM287 424h1v1h-1zM301 417h1v1h-1zM270 427h1v1h-1zM281 417h1v1h-1zM272 436h1v1h-1zM224 424h1v1h-1zM243 434h1v1h-1zM285 415h1v1h-1zM275 420h1v1h-1zM267 418h1v1h-1zM261 424h1v1h-1zM289 432h1v1h-1zM225 437h1v1h-1zM263 430h1v1h-1zM285 423h1v1h-1zM276 413h1v1h-1zM230 444h1v1h-1zM285 411h1v1h-1zM289 421h1v1h-1zM213 443h1v1h-1zM243 437h1v1h-1zM246 422h1v1h-1zM230 431h1v1h-1zM281 414h1v1h-1zM227 448h1v1h-1zM300 418h1v1h-1zM248 419h1v1h-1zM229 436h1v1h-1zM286 409h1v1h-1zM261 422h1v1h-1zM257 428h1v1h-1zM303 408h1v1h-1zM281 426h1v1h-1zM255 424h1v1h-1zM236 438h1v1h-1zM249 422h1v1h-1zM261 418h1v1h-1zM240 427h1v1h-1zM292 414h1v1h-1zM270 411h1v1h-1zM225 446h1v1h-1zM251 416h1v1h-1zM260 428h1v1h-1zM225 427h1v1h-1zM265 416h1v1h-1zM280 425h1v1h-1zM270 418h1v1h-1zM259 420h1v1h-1zM259 426h1v1h-1zM257 431h1v1h-1zM314 406h1v1h-1zM270 427h1v1h-1zM274 418h1v1h-1zM253 433h1v1h-1zM275 423h1v1h-1zM246 432h1v1h-1zM277 418h1v1h-1zM279 434h1v1h-1zM224 438h1v1h-1zM235 421h1v1h-1zM258 428h1v1h-1zM261 416h1v1h-1zM231 428h1v1h-1zM260 418h1v1h-1zM234 443h1v1h-1zM244 427h1v1h-1zM249 423h1v1h-1zM262 421h1v1h-1zM272 412h1v1h-1zM234 444h1v1h-1zM261 429h1v1h-1zM287 421h1v1h-1zM260 413h1v1h-1zM230 439h1v1h-1zM276 423h1v1h-1zM224 419h1v1h-1zM238 422h1v1h-1zM263 416h1v1h-1zM293 411h1v1h-1zM251 432h1v1h-1zM267 416h1v1h-1zM282 432h1v1h-1zM236 429h1v1h-1zM236 417h1v1h-1zM276 425h1v1h-1zM282 421h1v1h-1zM220 434h1v1h-1zM246 419h1v1h-1zM240 435h1v1h-1zM259 438h1v1h-1zM268 408h1v1h-1zM282 427h1v1h-1zM260 415h1v1h-1zM296 405h1v1h-1zM256 411h1v1h-1zM233 419h1v1h-1zM286 425h1v1h-1zM251 417h1v1h-1zM261 426h1v1h-1zM228 424h1v1h-1zM261 429h1v1h-1zM264 426h1v1h-1zM231 414h1v1h-1zM266 416h1v1h-1zM258 422h1v1h-1zM270 416h1v1h-1zM291 416h1v1h-1zM274 425h1v1h-1zM284 420h1v1h-1zM224 429h1v1h-1zM301 416h1v1h-1zM274 423h1v1h-1zM247 423h1v1h-1zM250 435h1v1h-1zM272 433h1v1h-1zM275 433h1v1h-1zM269 413h1v1h-1zM298 416h1v1h-1zM287 418h1v1h-1zM255 426h1v1h-1zM236 422h1v1h-1zM242 425h1v1h-1zM233 430h1v1h-1zM271 435h1v1h-1zM300 413h1v1h-1zM280 417h1v1h-1zM270 421h1v1h-1zM250 427h1v1h-1zM231 435h1v1h-1zM254 418h1v1h-1zM255 429h1v1h-1zM248 430h1v1h-1zM276 431h1v1h-1zM239 429h1v1h-1zM275 431h1v1h-1zM268 427h1v1h-1zM230 428h1v1h-1zM296 412h1v1h-1zM305 407h1v1h-1zM253 414h1v1h-1zM275 422h1v1h-1zM304 413h1v1h-1zM254 416h1v1h-1zM261 430h1v1h-1zM279 428h1v1h-1zM280 418h1v1h-1zM274 421h1v1h-1zM237 442h1v1h-1zM267 414h1v1h-1zM270 423h1v1h-1zM285 428h1v1h-1zM199 444h1v1h-1zM292 409h1v1h-1zM223 436h1v1h-1zM269 424h1v1h-1zM237 427h1v1h-1zM267 427h1v1h-1zM308 413h1v1h-1zM245 411h1v1h-1zM284 417h1v1h-1zM257 418h1v1h-1zM274 407h1v1h-1zM264 424h1v1h-1zM270 431h1v1h-1zM260 425h1v1h-1zM277 408h1v1h-1zM255 426h1v1h-1zM280 413h1v1h-1zM279 422h1v1h-1zM227 422h1v1h-1zM232 433h1v1h-1zM267 427h1v1h-1zM278 415h1v1h-1zM286 423h1v1h-1zM272 424h1v1h-1zM235 433h1v1h-1zM238 421h1v1h-1zM254 426h1v1h-1zM260 422h1v1h-1zM241 430h1v1h-1zM243 418h1v1h-1zM266 433h1v1h-1zM251 419h1v1h-1zM294 427h1v1h-1zM255 424h1v1h-1zM271 442h1v1h-1zM266 429h1v1h-1zM268 409h1v1h-1zM236 421h1v1h-1zM271 422h1v1h-1zM299 412h1v1h-1zM268 422h1v1h-1zM269 438h1v1h-1zM270 432h1v1h-1zM288 412h1v1h-1zM275 417h1v1h-1zM264 424h1v1h-1zM261 420h1v1h-1zM294 413h1v1h-1zM279 431h1v1h-1zM277 427h1v1h-1zM293 423h1v1h-1zM295 404h1v1h-1zM303 413h1v1h-1zM223 429h1v1h-1zM232 431h1v1h-1zM228 425h1v1h-1zM268 423h1v1h-1zM244 426h1v1h-1zM260 425h1v1h-1zM261 422h1v1h-1zM277 408h1v1h-1zM251 427h1v1h-1zM252 422h1v1h-1zM253 427h1v1h-1zM288 415h1v1h-1zM256 427h1v1h-1zM253 412h1v1h-1zM267 419h1v1h-1zM250 431h1v1h-1zM261 419h1v1h-1zM212 424h1v1h-1zM262 423h1v1h-1zM271 423h1v1h-1zM249 418h1v1h-1zM238 429h1v1h-1zM238 435h1v1h-1zM230 419h1v1h-1zM254 413h1v1h-1zM294 408h1v1h-1zM260 422h1v1h-1zM241 416h1v1h-1zM224 440h1v1h-1zM287 432h1v1h-1zM231 436h1v1h-1z" fill="#9a9a9a" opacity="0.4"/>
<path d="M242 432h1v1h-1zM234 434h1v1h-1zM256 426h1v1h-1zM264 419h1v1h-1zM264 415h1v1h-1zM262 403h1v1h-1zM239 423h1v1h-1zM242 433h1v1h-1zM252 424h1v1h-1zM265 410h1v1h-1zM230 440h1v1h-1zM242 414h1v1h-1zM244 419h1v1h-1zM267 426h1v1h-1zM234 438h1v1h-1zM229 437h1v1h-1zM250 424h1v1h-1zM217 433h1v1h-1zM202 436h1v1h-1zM213 444h1v1h-1zM220 419h1v1h-1zM251 427h1v1h-1zM236 442h1v1h-1zM253 424h1v1h-1zM225 414h1v1h-1zM250 430h1v1h-1zM228 423h1v1h-1zM237 418h1v1h-1zM242 432h1v1h-1zM265 421h1v1h-1zM245 431h1v1h-1zM263 418h1v1h-1zM219 429h1v1h-1zM219 429h1v1h-1zM239 430h1v1h-1zM243 427h1v1h-1zM236 432h1v1h-1zM256 427h1v1h-1zM264 418h1v1h-1zM240 438h1v1h-1zM245 429h1v1h-1zM237 435h1v1h-1zM232 424h1v1h-1zM239 425h1v1h-1zM253 421h1v1h-1zM242 426h1v1h-1zM245 422h1v1h-1zM256 414h1v1h-1zM233 425h1v1h-1zM251 424h1v1h-1zM248 423h1v1h-1zM227 425h1v1h-1zM234 426h1v1h-1zM246 428h1v1h-1zM256 422h1v1h-1zM226 425h1v1h-1zM242 429h1v1h-1zM272 418h1v1h-1zM272 429h1v1h-1zM226 440h1v1h-1zM261 429h1v1h-1zM242 433h1v1h-1zM233 430h1v1h-1zM244 438h1v1h-1zM239 434h1v1h-1zM240 423h1v1h-1zM246 430h1v1h-1zM230 435h1v1h-1zM227 426h1v1h-1zM244 425h1v1h-1zM222 423h1v1h-1zM241 429h1v1h-1zM233 431h1v1h-1zM217 438h1v1h-1zM248 427h1v1h-1zM231 431h1v1h-1zM245 433h1v1h-1zM245 427h1v1h-1zM230 436h1v1h-1zM259 419h1v1h-1zM251 426h1v1h-1zM237 420h1v1h-1zM265 408h1v1h-1zM245 424h1v1h-1zM258 419h1v1h-1zM242 431h1v1h-1zM247 422h1v1h-1zM252 426h1v1h-1zM256 419h1v1h-1zM239 426h1v1h-1zM227 433h1v1h-1zM250 433h1v1h-1zM236 431h1v1h-1zM259 421h1v1h-1zM242 428h1v1h-1zM228 425h1v1h-1zM259 423h1v1h-1zM237 421h1v1h-1zM245 434h1v1h-1zM220 428h1v1h-1zM261 430h1v1h-1zM264 416h1v1h-1zM249 420h1v1h-1zM248 423h1v1h-1zM246 434h1v1h-1zM246 424h1v1h-1zM242 429h1v1h-1zM233 431h1v1h-1zM253 433h1v1h-1zM205 432h1v1h-1zM222 439h1v1h-1zM280 416h1v1h-1zM245 433h1v1h-1zM201 439h1v1h-1zM231 427h1v1h-1zM245 422h1v1h-1zM258 422h1v1h-1zM251 440h1v1h-1zM235 435h1v1h-1zM230 439h1v1h-1zM256 423h1v1h-1zM259 431h1v1h-1zM263 420h1v1h-1zM242 434h1v1h-1zM216 432h1v1h-1zM249 428h1v1h-1zM274 428h1v1h-1zM247 428h1v1h-1zM219 433h1v1h-1zM244 425h1v1h-1zM243 431h1v1h-1zM224 429h1v1h-1zM214 443h1v1h-1zM220 423h1v1h-1zM252 422h1v1h-1zM255 420h1v1h-1zM276 420h1v1h-1zM243 427h1v1h-1zM239 433h1v1h-1zM272 415h1v1h-1zM224 437h1v1h-1zM255 414h1v1h-1zM228 425h1v1h-1zM250 427h1v1h-1zM227 425h1v1h-1zM248 412h1v1h-1zM251 423h1v1h-1zM273 423h1v1h-1zM231 429h1v1h-1zM235 425h1v1h-1zM244 433h1v1h-1zM216 434h1v1h-1zM266 424h1v1h-1zM226 427h1v1h-1zM224 423h1v1h-1zM259 422h1v1h-1zM227 423h1v1h-1zM233 427h1v1h-1zM267 416h1v1h-1zM244 433h1v1h-1zM251 423h1v1h-1zM208 447h1v1h-1zM249 422h1v1h-1zM237 423h1v1h-1zM224 424h1v1h-1zM249 428h1v1h-1zM245 431h1v1h-1zM249 425h1v1h-1zM228 435h1v1h-1zM261 425h1v1h-1zM259 418h1v1h-1zM227 440h1v1h-1zM232 432h1v1h-1zM238 429h1v1h-1zM235 426h1v1h-1zM216 447h1v1h-1zM240 416h1v1h-1zM224 426h1v1h-1zM224 417h1v1h-1zM253 434h1v1h-1zM238 433h1v1h-1zM248 417h1v1h-1zM257 412h1v1h-1zM231 428h1v1h-1zM261 422h1v1h-1zM237 424h1v1h-1zM242 427h1v1h-1zM255 432h1v1h-1zM252 424h1v1h-1zM241 437h1v1h-1zM244 426h1v1h-1zM272 427h1v1h-1zM249 424h1v1h-1zM232 437h1v1h-1zM235 435h1v1h-1zM228 432h1v1h-1zM247 426h1v1h-1zM245 428h1v1h-1zM221 427h1v1h-1zM241 438h1v1h-1zM237 423h1v1h-1zM230 431h1v1h-1zM258 418h1v1h-1zM250 426h1v1h-1zM233 424h1v1h-1zM237 424h1v1h-1zM246 415h1v1h-1zM260 426h1v1h-1zM252 433h1v1h-1zM247 415h1v1h-1zM242 430h1v1h-1zM228 425h1v1h-1zM248 428h1v1h-1zM233 428h1v1h-1zM231 427h1v1h-1zM242 434h1v1h-1zM214 434h1v1h-1zM267 421h1v1h-1zM244 431h1v1h-1zM222 426h1v1h-1zM212 428h1v1h-1zM246 431h1v1h-1zM233 426h1v1h-1zM248 429h1v1h-1zM241 416h1v1h-1zM227 416h1v1h-1zM243 422h1v1h-1zM233 439h1v1h-1zM262 423h1v1h-1zM245 427h1v1h-1zM231 430h1v1h-1zM269 413h1v1h-1zM230 432h1v1h-1zM256 428h1v1h-1zM225 432h1v1h-1zM234 422h1v1h-1zM241 424h1v1h-1zM256 425h1v1h-1zM228 432h1v1h-1zM234 426h1v1h-1zM235 436h1v1h-1zM231 420h1v1h-1zM230 436h1v1h-1zM272 411h1v1h-1zM234 427h1v1h-1zM219 437h1v1h-1zM240 429h1v1h-1zM275 415h1v1h-1zM254 428h1v1h-1zM229 427h1v1h-1zM266 424h1v1h-1zM241 421h1v1h-1zM255 426h1v1h-1zM278 424h1v1h-1zM254 425h1v1h-1zM240 424h1v1h-1zM246 427h1v1h-1zM253 430h1v1h-1zM244 423h1v1h-1zM256 432h1v1h-1zM228 434h1v1h-1zM250 428h1v1h-1zM248 424h1v1h-1zM242 437h1v1h-1zM265 411h1v1h-1zM201 443h1v1h-1zM229 428h1v1h-1zM216 438h1v1h-1zM239 425h1v1h-1zM259 436h1v1h-1zM266 426h1v1h-1zM235 433h1v1h-1zM242 434h1v1h-1zM250 424h1v1h-1zM248 421h1v1h-1zM256 432h1v1h-1zM236 432h1v1h-1zM216 441h1v1h-1zM252 417h1v1h-1zM268 419h1v1h-1zM211 429h1v1h-1zM254 422h1v1h-1zM255 413h1v1h-1zM241 433h1v1h-1zM231 435h1v1h-1zM235 431h1v1h-1zM250 438h1v1h-1zM222 438h1v1h-1zM259 415h1v1h-1zM246 440h1v1h-1zM252 406h1v1h-1zM234 419h1v1h-1zM244 422h1v1h-1zM230 426h1v1h-1zM244 423h1v1h-1zM226 431h1v1h-1zM245 421h1v1h-1zM255 413h1v1h-1zM246 423h1v1h-1zM264 416h1v1h-1zM228 423h1v1h-1zM273 421h1v1h-1zM223 431h1v1h-1zM228 441h1v1h-1zM243 414h1v1h-1zM245 432h1v1h-1zM241 430h1v1h-1zM239 429h1v1h-1zM243 422h1v1h-1zM246 427h1v1h-1zM239 424h1v1h-1zM225 434h1v1h-1zM249 410h1v1h-1zM235 438h1v1h-1zM254 419h1v1h-1zM260 415h1v1h-1zM232 442h1v1h-1zM233 429h1v1h-1zM213 430h1v1h-1zM222 433h1v1h-1zM214 443h1v1h-1zM234 426h1v1h-1zM232 435h1v1h-1zM264 417h1v1h-1zM269 428h1v1h-1zM262 422h1v1h-1zM218 439h1v1h-1zM234 431h1v1h-1zM210 436h1v1h-1zM242 421h1v1h-1zM248 435h1v1h-1zM243 423h1v1h-1zM274 403h1v1h-1zM227 434h1v1h-1zM227 418h1v1h-1zM246 431h1v1h-1zM231 440h1v1h-1zM251 432h1v1h-1zM216 435h1v1h-1zM269 431h1v1h-1zM261 421h1v1h-1zM242 423h1v1h-1zM257 418h1v1h-1zM239 415h1v1h-1zM220 445h1v1h-1zM242 428h1v1h-1zM206 439h1v1h-1zM270 409h1v1h-1zM203 439h1v1h-1zM232 429h1v1h-1zM218 426h1v1h-1zM222 437h1v1h-1zM241 432h1v1h-1zM225 436h1v1h-1zM234 430h1v1h-1zM255 423h1v1h-1zM232 420h1v1h-1zM243 432h1v1h-1zM230 430h1v1h-1zM210 429h1v1h-1zM249 433h1v1h-1zM233 420h1v1h-1zM232 421h1v1h-1zM240 440h1v1h-1zM245 425h1v1h-1zM256 420h1v1h-1zM246 427h1v1h-1zM245 417h1v1h-1zM253 429h1v1h-1zM199 424h1v1h-1zM229 440h1v1h-1zM242 431h1v1h-1zM251 430h1v1h-1zM229 428h1v1h-1zM248 429h1v1h-1zM250 426h1v1h-1zM235 436h1v1h-1zM250 431h1v1h-1zM202 446h1v1h-1zM202 441h1v1h-1zM230 432h1v1h-1zM232 428h1v1h-1zM244 428h1v1h-1zM223 417h1v1h-1zM229 435h1v1h-1zM228 434h1v1h-1zM233 424h1v1h-1zM262 431h1v1h-1zM239 428h1v1h-1zM253 415h1v1h-1zM229 438h1v1h-1zM254 420h1v1h-1zM229 434h1v1h-1zM217 432h1v1h-1zM232 415h1v1h-1zM251 429h1v1h-1zM255 414h1v1h-1zM218 430h1v1h-1zM223 446h1v1h-1zM224 431h1v1h-1zM245 429h1v1h-1zM262 414h1v1h-1zM255 424h1v1h-1zM222 434h1v1h-1zM221 444h1v1h-1zM231 437h1v1h-1zM260 417h1v1h-1zM226 433h1v1h-1zM225 438h1v1h-1zM242 422h1v1h-1zM231 435h1v1h-1zM220 445h1v1h-1zM228 430h1v1h-1zM229 442h1v1h-1zM256 431h1v1h-1zM251 425h1v1h-1zM269 422h1v1h-1zM249 428h1v1h-1zM253 425h1v1h-1zM235 419h1v1h-1zM271 409h1v1h-1zM205 435h1v1h-1zM274 424h1v1h-1zM231 432h1v1h-1zM236 416h1v1h-1zM236 431h1v1h-1zM257 415h1v1h-1zM201 430h1v1h-1zM246 426h1v1h-1zM243 428h1v1h-1zM232 422h1v1h-1zM249 427h1v1h-1zM252 432h1v1h-1zM216 421h1v1h-1zM216 449h1v1h-1zM226 435h1v1h-1zM242 432h1v1h-1zM291 408h1v1h-1zM237 425h1v1h-1zM245 429h1v1h-1zM227 440h1v1h-1zM260 424h1v1h-1zM238 427h1v1h-1zM215 440h1v1h-1zM224 430h1v1h-1zM255 417h1v1h-1zM234 435h1v1h-1zM269 414h1v1h-1zM257 418h1v1h-1zM248 428h1v1h-1zM224 439h1v1h-1zM270 418h1v1h-1zM243 419h1v1h-1zM270 418h1v1h-1zM221 439h1v1h-1zM216 431h1v1h-1zM209 447h1v1h-1zM275 412h1v1h-1zM229 428h1v1h-1zM232 434h1v1h-1zM262 414h1v1h-1zM244 415h1v1h-1zM265 419h1v1h-1zM232 440h1v1h-1zM241 436h1v1h-1zM261 431h1v1h-1zM228 432h1v1h-1zM246 424h1v1h-1zM264 415h1v1h-1zM259 430h1v1h-1zM207 432h1v1h-1zM225 429h1v1h-1zM246 424h1v1h-1zM241 424h1v1h-1zM240 431h1v1h-1zM251 419h1v1h-1zM237 424h1v1h-1zM235 420h1v1h-1zM257 426h1v1h-1zM237 424h1v1h-1zM232 426h1v1h-1zM219 445h1v1h-1zM291 403h1v1h-1zM223 437h1v1h-1zM247 415h1v1h-1zM210 441h1v1h-1zM211 446h1v1h-1zM233 431h1v1h-1zM239 424h1v1h-1zM238 427h1v1h-1zM260 420h1v1h-1zM239 425h1v1h-1zM229 427h1v1h-1zM244 438h1v1h-1zM259 423h1v1h-1zM269 425h1v1h-1zM244 425h1v1h-1zM223 435h1v1h-1zM232 420h1v1h-1zM223 445h1v1h-1zM245 429h1v1h-1zM243 424h1v1h-1zM250 431h1v1h-1zM236 432h1v1h-1zM256 419h1v1h-1zM242 422h1v1h-1zM250 422h1v1h-1zM258 417h1v1h-1zM267 417h1v1h-1zM225 427h1v1h-1zM250 419h1v1h-1zM272 425h1v1h-1zM246 417h1v1h-1zM239 423h1v1h-1zM212 439h1v1h-1zM275 413h1v1h-1zM256 431h1v1h-1zM224 431h1v1h-1zM246 429h1v1h-1zM222 435h1v1h-1zM241 433h1v1h-1zM214 433h1v1h-1zM232 428h1v1h-1zM251 420h1v1h-1zM283 409h1v1h-1zM256 429h1v1h-1zM256 421h1v1h-1zM227 430h1v1h-1zM251 425h1v1h-1zM251 428h1v1h-1zM224 427h1v1h-1zM263 417h1v1h-1zM218 446h1v1h-1zM225 427h1v1h-1zM254 416h1v1h-1zM228 438h1v1h-1zM232 446h1v1h-1zM247 442h1v1h-1zM243 427h1v1h-1zM230 430h1v1h-1zM232 430h1v1h-1zM251 416h1v1h-1zM222 420h1v1h-1zM265 419h1v1h-1zM240 427h1v1h-1zM257 424h1v1h-1zM254 422h1v1h-1zM238 428h1v1h-1zM212 444h1v1h-1zM213 430h1v1h-1zM251 424h1v1h-1zM257 433h1v1h-1zM273 426h1v1h-1zM241 440h1v1h-1zM226 432h1v1h-1zM256 421h1v1h-1zM238 426h1v1h-1zM258 406h1v1h-1zM263 427h1v1h-1zM240 431h1v1h-1zM227 439h1v1h-1zM288 406h1v1h-1zM263 420h1v1h-1zM234 426h1v1h-1zM235 421h1v1h-1zM222 444h1v1h-1zM241 431h1v1h-1zM246 429h1v1h-1zM214 430h1v1h-1zM253 430h1v1h-1zM221 430h1v1h-1zM224 437h1v1h-1zM246 426h1v1h-1zM231 433h1v1h-1zM240 423h1v1h-1zM245 422h1v1h-1zM257 426h1v1h-1zM230 434h1v1h-1zM240 423h1v1h-1zM223 423h1v1h-1zM223 435h1v1h-1zM259 418h1v1h-1zM244 429h1v1h-1zM254 426h1v1h-1zM262 425h1v1h-1zM229 434h1v1h-1zM202 439h1v1h-1zM242 431h1v1h-1zM237 434h1v1h-1zM260 416h1v1h-1zM232 432h1v1h-1zM249 426h1v1h-1zM252 416h1v1h-1zM255 430h1v1h-1zM259 424h1v1h-1zM237 431h1v1h-1zM236 419h1v1h-1zM231 430h1v1h-1zM230 425h1v1h-1zM236 427h1v1h-1zM242 427h1v1h-1zM245 432h1v1h-1zM243 429h1v1h-1zM215 417h1v1h-1zM235 433h1v1h-1zM234 426h1v1h-1zM222 439h1v1h-1zM232 432h1v1h-1zM260 425h1v1h-1zM277 415h1v1h-1zM257 426h1v1h-1zM230 431h1v1h-1zM229 425h1v1h-1zM244 422h1v1h-1zM266 414h1v1h-1zM232 431h1v1h-1zM232 431h1v1h-1zM228 423h1v1h-1zM199 433h1v1h-1zM266 422h1v1h-1zM242 424h1v1h-1zM239 430h1v1h-1zM217 430h1v1h-1zM228 439h1v1h-1zM226 440h1v1h-1zM238 446h1v1h-1zM239 428h1v1h-1zM264 425h1v1h-1zM254 416h1v1h-1zM262 431h1v1h-1zM238 425h1v1h-1zM225 439h1v1h-1zM245 426h1v1h-1zM224 443h1v1h-1zM255 423h1v1h-1zM263 414h1v1h-1zM253 417h1v1h-1zM263 419h1v1h-1zM260 419h1v1h-1zM249 432h1v1h-1zM226 433h1v1h-1zM229 437h1v1h-1zM230 429h1v1h-1zM239 435h1v1h-1zM224 433h1v1h-1zM234 426h1v1h-1zM227 431h1v1h-1zM241 418h1v1h-1zM242 420h1v1h-1zM245 440h1v1h-1zM225 432h1v1h-1zM238 434h1v1h-1zM230 420h1v1h-1zM215 437h1v1h-1zM247 432h1v1h-1zM233 434h1v1h-1zM226 440h1v1h-1zM238 424h1v1h-1zM247 437h1v1h-1zM225 425h1v1h-1zM222 426h1v1h-1zM240 430h1v1h-1zM238 429h1v1h-1zM259 420h1v1h-1zM216 421h1v1h-1zM243 422h1v1h-1zM237 431h1v1h-1zM245 416h1v1h-1zM225 433h1v1h-1zM240 435h1v1h-1zM229 418h1v1h-1zM256 412h1v1h-1zM226 435h1v1h-1zM228 447h1v1h-1zM245 429h1v1h-1zM238 442h1v1h-1zM248 421h1v1h-1zM258 411h1v1h-1zM232 432h1v1h-1zM241 421h1v1h-1zM269 428h1v1h-1zM226 435h1v1h-1zM229 428h1v1h-1zM257 423h1v1h-1zM239 429h1v1h-1zM224 441h1v1h-1zM231 439h1v1h-1zM232 427h1v1h-1zM265 421h1v1h-1zM229 428h1v1h-1zM254 435h1v1h-1zM250 422h1v1h-1zM221 430h1v1h-1zM239 430h1v1h-1zM232 438h1v1h-1zM224 428h1v1h-1zM249 428h1v1h-1zM236 435h1v1h-1zM221 444h1v1h-1zM279 427h1v1h-1zM246 438h1v1h-1zM244 435h1v1h-1zM238 430h1v1h-1zM246 415h1v1h-1zM240 438h1v1h-1zM194 445h1v1h-1zM256 425h1v1h-1zM246 434h1v1h-1zM242 415h1v1h-1zM225 431h1v1h-1zM242 424h1v1h-1zM242 438h1v1h-1zM195 449h1v1h-1zM257 426h1v1h-1zM241 428h1v1h-1zM247 427h1v1h-1zM230 436h1v1h-1zM227 432h1v1h-1zM233 423h1v1h-1zM250 424h1v1h-1zM222 433h1v1h-1zM221 443h1v1h-1zM253 436h1v1h-1zM233 434h1v1h-1zM223 428h1v1h-1zM240 430h1v1h-1zM255 421h1v1h-1zM260 427h1v1h-1zM226 431h1v1h-1zM229 442h1v1h-1zM233 435h1v1h-1zM255 421h1v1h-1zM233 432h1v1h-1zM226 424h1v1h-1zM226 434h1v1h-1zM247 437h1v1h-1zM212 440h1v1h-1zM224 440h1v1h-1zM252 425h1v1h-1zM264 418h1v1h-1zM230 424h1v1h-1zM230 432h1v1h-1zM254 431h1v1h-1zM235 425h1v1h-1zM234 427h1v1h-1zM232 428h1v1h-1zM226 432h1v1h-1zM232 429h1v1h-1zM219 436h1v1h-1zM251 428h1v1h-1zM230 424h1v1h-1zM217 428h1v1h-1zM230 429h1v1h-1zM213 441h1v1h-1zM215 432h1v1h-1zM230 436h1v1h-1zM269 416h1v1h-1zM235 427h1v1h-1zM237 428h1v1h-1zM278 408h1v1h-1zM237 424h1v1h-1zM245 423h1v1h-1zM248 418h1v1h-1zM275 418h1v1h-1zM213 441h1v1h-1zM231 423h1v1h-1zM247 422h1v1h-1zM251 421h1v1h-1zM255 424h1v1h-1zM247 427h1v1h-1zM234 427h1v1h-1zM249 429h1v1h-1zM238 442h1v1h-1zM265 412h1v1h-1zM258 421h1v1h-1zM243 422h1v1h-1zM265 414h1v1h-1zM238 424h1v1h-1zM274 425h1v1h-1zM219 432h1v1h-1zM246 423h1v1h-1zM233 423h1v1h-1zM243 420h1v1h-1zM258 437h1v1h-1zM238 438h1v1h-1zM245 422h1v1h-1zM233 424h1v1h-1zM244 431h1v1h-1zM255 421h1v1h-1zM221 433h1v1h-1zM268 420h1v1h-1zM236 416h1v1h-1zM235 433h1v1h-1zM228 440h1v1h-1zM230 426h1v1h-1zM231 430h1v1h-1zM255 419h1v1h-1zM212 436h1v1h-1zM252 433h1v1h-1zM225 442h1v1h-1zM252 427h1v1h-1zM227 427h1v1h-1zM227 438h1v1h-1zM246 432h1v1h-1zM269 418h1v1h-1zM243 438h1v1h-1zM219 432h1v1h-1zM234 427h1v1h-1zM241 422h1v1h-1zM257 414h1v1h-1zM224 422h1v1h-1zM219 438h1v1h-1zM250 423h1v1h-1zM255 427h1v1h-1zM231 430h1v1h-1zM250 437h1v1h-1zM234 432h1v1h-1zM251 432h1v1h-1zM249 431h1v1h-1zM223 432h1v1h-1zM210 437h1v1h-1zM278 417h1v1h-1zM242 429h1v1h-1zM240 419h1v1h-1zM229 430h1v1h-1zM242 422h1v1h-1zM237 424h1v1h-1zM218 431h1v1h-1zM229 436h1v1h-1zM263 424h1v1h-1zM236 426h1v1h-1zM215 433h1v1h-1zM267 426h1v1h-1zM244 425h1v1h-1zM241 430h1v1h-1zM241 430h1v1h-1zM228 432h1v1h-1zM237 435h1v1h-1zM223 441h1v1h-1zM238 425h1v1h-1zM241 428h1v1h-1zM238 431h1v1h-1zM228 421h1v1h-1zM252 424h1v1h-1zM268 421h1v1h-1zM211 445h1v1h-1zM231 434h1v1h-1zM278 422h1v1h-1zM223 433h1v1h-1zM216 440h1v1h-1zM248 419h1v1h-1zM249 430h1v1h-1zM252 420h1v1h-1zM227 425h1v1h-1zM221 436h1v1h-1zM244 435h1v1h-1zM244 424h1v1h-1zM221 443h1v1h-1zM243 427h1v1h-1zM223 427h1v1h-1zM249 419h1v1h-1zM251 428h1v1h-1zM232 421h1v1h-1zM250 433h1v1h-1zM225 425h1v1h-1zM258 423h1v1h-1zM233 438h1v1h-1zM237 431h1v1h-1zM233 425h1v1h-1zM242 422h1v1h-1zM211 434h1v1h-1zM262 427h1v1h-1zM277 422h1v1h-1zM267 421h1v1h-1zM234 432h1v1h-1zM227 437h1v1h-1zM234 431h1v1h-1zM227 431h1v1h-1zM256 421h1v1h-1zM230 433h1v1h-1zM254 422h1v1h-1zM219 425h1v1h-1zM221 440h1v1h-1zM240 431h1v1h-1zM258 424h1v1h-1zM247 422h1v1h-1zM216 439h1v1h-1zM240 431h1v1h-1zM223 432h1v1h-1zM271 413h1v1h-1zM244 434h1v1h-1zM237 429h1v1h-1zM208 443h1v1h-1zM236 437h1v1h-1zM238 426h1v1h-1zM247 424h1v1h-1zM235 439h1v1h-1zM256 423h1v1h-1zM255 428h1v1h-1zM250 425h1v1h-1zM242 429h1v1h-1zM250 427h1v1h-1zM232 430h1v1h-1zM246 420h1v1h-1zM242 432h1v1h-1zM243 425h1v1h-1zM239 425h1v1h-1zM255 420h1v1h-1zM212 430h1v1h-1zM246 427h1v1h-1zM231 423h1v1h-1zM237 424h1v1h-1zM230 431h1v1h-1zM229 433h1v1h-1zM228 429h1v1h-1zM240 437h1v1h-1zM267 425h1v1h-1zM229 431h1v1h-1zM256 427h1v1h-1zM215 436h1v1h-1zM230 435h1v1h-1zM250 421h1v1h-1zM274 415h1v1h-1zM279 414h1v1h-1zM243 438h1v1h-1zM231 428h1v1h-1zM264 420h1v1h-1zM246 418h1v1h-1zM271 424h1v1h-1zM247 430h1v1h-1zM232 428h1v1h-1zM216 438h1v1h-1zM262 426h1v1h-1zM256 427h1v1h-1zM224 425h1v1h-1zM251 425h1v1h-1zM256 421h1v1h-1zM227 435h1v1h-1zM229 422h1v1h-1zM229 426h1v1h-1zM222 430h1v1h-1zM260 436h1v1h-1zM267 416h1v1h-1zM258 421h1v1h-1zM246 422h1v1h-1zM236 419h1v1h-1zM268 414h1v1h-1zM249 421h1v1h-1zM243 420h1v1h-1zM236 434h1v1h-1zM247 414h1v1h-1zM252 416h1v1h-1zM246 429h1v1h-1zM230 429h1v1h-1zM237 431h1v1h-1zM257 430h1v1h-1zM249 437h1v1h-1zM229 442h1v1h-1zM238 433h1v1h-1zM239 429h1v1h-1zM227 434h1v1h-1zM273 418h1v1h-1zM240 428h1v1h-1zM251 423h1v1h-1zM241 429h1v1h-1zM263 426h1v1h-1zM223 430h1v1h-1zM242 432h1v1h-1zM255 421h1v1h-1zM274 416h1v1h-1zM265 428h1v1h-1zM266 420h1v1h-1zM247 416h1v1h-1zM211 433h1v1h-1zM254 430h1v1h-1zM241 434h1v1h-1zM252 433h1v1h-1zM214 431h1v1h-1zM224 427h1v1h-1zM265 414h1v1h-1zM227 430h1v1h-1zM254 421h1v1h-1zM253 427h1v1h-1zM226 418h1v1h-1zM224 426h1v1h-1zM265 415h1v1h-1zM224 435h1v1h-1zM240 422h1v1h-1zM259 427h1v1h-1zM244 422h1v1h-1zM223 421h1v1h-1zM247 428h1v1h-1zM226 432h1v1h-1zM290 405h1v1h-1zM215 440h1v1h-1zM233 427h1v1h-1zM250 424h1v1h-1zM257 425h1v1h-1zM259 422h1v1h-1zM209 446h1v1h-1zM215 442h1v1h-1zM242 419h1v1h-1zM243 432h1v1h-1zM224 433h1v1h-1zM227 426h1v1h-1zM233 438h1v1h-1zM251 424h1v1h-1zM239 429h1v1h-1zM245 427h1v1h-1zM215 441h1v1h-1zM222 418h1v1h-1zM250 417h1v1h-1zM238 428h1v1h-1zM232 434h1v1h-1zM236 427h1v1h-1zM225 431h1v1h-1zM224 433h1v1h-1zM263 426h1v1h-1zM245 418h1v1h-1zM258 427h1v1h-1zM269 405h1v1h-1zM240 426h1v1h-1zM256 416h1v1h-1zM239 442h1v1h-1zM253 412h1v1h-1zM243 435h1v1h-1zM232 434h1v1h-1zM240 419h1v1h-1zM233 437h1v1h-1zM258 418h1v1h-1zM257 418h1v1h-1zM244 426h1v1h-1zM221 436h1v1h-1zM229 415h1v1h-1zM226 427h1v1h-1zM226 427h1v1h-1zM225 418h1v1h-1zM255 423h1v1h-1zM244 425h1v1h-1zM241 426h1v1h-1zM221 425h1v1h-1zM243 433h1v1h-1zM247 435h1v1h-1zM218 433h1v1h-1zM233 437h1v1h-1zM267 416h1v1h-1zM252 422h1v1h-1zM224 432h1v1h-1zM227 441h1v1h-1zM252 431h1v1h-1zM242 412h1v1h-1zM253 424h1v1h-1zM203 440h1v1h-1zM260 432h1v1h-1zM226 437h1v1h-1zM246 425h1v1h-1zM237 432h1v1h-1zM251 428h1v1h-1zM232 422h1v1h-1zM264 428h1v1h-1zM231 430h1v1h-1zM250 414h1v1h-1zM253 438h1v1h-1zM244 422h1v1h-1zM273 417h1v1h-1zM243 424h1v1h-1zM240 417h1v1h-1zM217 426h1v1h-1zM255 422h1v1h-1zM255 410h1v1h-1zM234 439h1v1h-1zM225 421h1v1h-1zM228 429h1v1h-1zM243 435h1v1h-1zM264 429h1v1h-1zM249 422h1v1h-1zM230 422h1v1h-1zM263 428h1v1h-1zM240 422h1v1h-1zM252 427h1v1h-1zM241 420h1v1h-1zM243 423h1v1h-1zM253 427h1v1h-1zM247 423h1v1h-1zM266 424h1v1h-1zM262 426h1v1h-1zM252 426h1v1h-1zM220 423h1v1h-1zM227 436h1v1h-1zM255 424h1v1h-1zM245 437h1v1h-1zM231 420h1v1h-1zM215 434h1v1h-1zM253 428h1v1h-1zM238 433h1v1h-1zM238 424h1v1h-1zM236 434h1v1h-1zM254 416h1v1h-1zM225 433h1v1h-1zM272 410h1v1h-1zM221 436h1v1h-1zM247 422h1v1h-1zM241 430h1v1h-1zM213 436h1v1h-1zM252 429h1v1h-1zM259 421h1v1h-1zM220 442h1v1h-1zM252 420h1v1h-1zM259 428h1v1h-1zM234 415h1v1h-1zM232 426h1v1h-1zM227 431h1v1h-1zM224 435h1v1h-1zM268 411h1v1h-1zM256 419h1v1h-1zM249 424h1v1h-1zM260 417h1v1h-1zM251 419h1v1h-1zM244 426h1v1h-1zM255 413h1v1h-1zM222 442h1v1h-1zM250 435h1v1h-1zM225 434h1v1h-1zM253 434h1v1h-1zM239 425h1v1h-1zM252 423h1v1h-1zM230 436h1v1h-1zM209 432h1v1h-1zM261 418h1v1h-1zM236 431h1v1h-1zM259 425h1v1h-1zM224 429h1v1h-1zM257 421h1v1h-1zM232 436h1v1h-1zM262 434h1v1h-1zM222 429h1v1h-1zM230 433h1v1h-1zM235 436h1v1h-1zM200 447h1v1h-1zM230 429h1v1h-1zM250 426h1v1h-1zM227 441h1v1h-1zM249 422h1v1h-1zM242 420h1v1h-1zM221 432h1v1h-1zM246 426h1v1h-1zM226 424h1v1h-1zM217 445h1v1h-1zM245 421h1v1h-1zM260 424h1v1h-1zM233 426h1v1h-1zM259 423h1v1h-1zM267 421h1v1h-1zM230 427h1v1h-1zM230 432h1v1h-1zM246 430h1v1h-1zM246 419h1v1h-1zM236 423h1v1h-1zM246 418h1v1h-1zM230 426h1v1h-1zM230 429h1v1h-1zM264 418h1v1h-1zM217 433h1v1h-1zM253 427h1v1h-1zM248 437h1v1h-1zM258 422h1v1h-1zM257 414h1v1h-1zM236 424h1v1h-1zM246 435h1v1h-1zM236 439h1v1h-1zM227 441h1v1h-1zM212 432h1v1h-1zM256 422h1v1h-1zM243 427h1v1h-1zM243 426h1v1h-1zM225 431h1v1h-1zM241 422h1v1h-1zM251 435h1v1h-1zM214 433h1v1h-1zM236 429h1v1h-1zM241 423h1v1h-1zM240 428h1v1h-1zM242 436h1v1h-1zM240 419h1v1h-1zM217 439h1v1h-1zM234 426h1v1h-1zM219 433h1v1h-1zM238 424h1v1h-1zM237 434h1v1h-1zM254 426h1v1h-1zM235 421h1v1h-1zM255 432h1v1h-1zM263 427h1v1h-1zM246 428h1v1h-1zM243 434h1v1h-1zM240 441h1v1h-1zM252 422h1v1h-1zM238 419h1v1h-1zM228 430h1v1h-1zM278 411h1v1h-1zM255 423h1v1h-1zM237 432h1v1h-1zM211 443h1v1h-1zM271 419h1v1h-1zM240 429h1v1h-1zM250 421h1v1h-1zM243 430h1v1h-1zM236 431h1v1h-1zM247 430h1v1h-1zM224 430h1v1h-1zM236 436h1v1h-1zM241 417h1v1h-1zM224 445h1v1h-1zM244 419h1v1h-1zM226 433h1v1h-1zM266 429h1v1h-1zM234 428h1v1h-1zM269 412h1v1h-1zM266 421h1v1h-1zM244 434h1v1h-1zM247 420h1v1h-1zM217 435h1v1h-1zM251 432h1v1h-1zM202 448h1v1h-1zM253 433h1v1h-1zM253 425h1v1h-1zM248 427h1v1h-1zM230 430h1v1h-1zM242 424h1v1h-1zM215 427h1v1h-1zM249 428h1v1h-1zM240 421h1v1h-1zM253 421h1v1h-1zM211 447h1v1h-1zM221 447h1v1h-1zM248 422h1v1h-1zM202 436h1v1h-1zM266 427h1v1h-1zM242 417h1v1h-1zM234 428h1v1h-1zM248 424h1v1h-1zM243 417h1v1h-1zM233 439h1v1h-1zM219 440h1v1h-1zM278 419h1v1h-1zM221 441h1v1h-1zM212 439h1v1h-1zM236 436h1v1h-1zM259 423h1v1h-1zM270 424h1v1h-1zM231 425h1v1h-1zM278 413h1v1h-1zM247 425h1v1h-1zM230 421h1v1h-1zM238 428h1v1h-1zM255 420h1v1h-1zM214 430h1v1h-1zM240 429h1v1h-1zM251 422h1v1h-1zM249 426h1v1h-1zM267 419h1v1h-1zM244 430h1v1h-1zM258 416h1v1h-1zM233 428h1v1h-1zM209 446h1v1h-1zM257 422h1v1h-1zM296 417h1v1h-1zM275 426h1v1h-1zM252 415h1v1h-1zM265 422h1v1h-1zM222 434h1v1h-1zM254 429h1v1h-1zM242 424h1v1h-1zM251 419h1v1h-1zM241 432h1v1h-1zM219 437h1v1h-1zM208 432h1v1h-1zM221 433h1v1h-1zM252 424h1v1h-1zM255 423h1v1h-1zM238 431h1v1h-1zM237 429h1v1h-1zM256 419h1v1h-1zM257 416h1v1h-1zM234 419h1v1h-1zM235 439h1v1h-1zM248 433h1v1h-1zM216 429h1v1h-1zM249 430h1v1h-1zM251 414h1v1h-1zM248 424h1v1h-1zM243 430h1v1h-1zM233 420h1v1h-1zM221 425h1v1h-1zM220 433h1v1h-1zM260 417h1v1h-1zM226 425h1v1h-1zM213 437h1v1h-1zM232 429h1v1h-1zM226 435h1v1h-1zM223 437h1v1h-1zM232 435h1v1h-1zM227 434h1v1h-1zM247 425h1v1h-1zM267 420h1v1h-1zM228 436h1v1h-1zM227 429h1v1h-1zM241 428h1v1h-1zM264 409h1v1h-1zM238 435h1v1h-1zM239 430h1v1h-1zM262 413h1v1h-1zM243 432h1v1h-1zM228 421h1v1h-1zM225 434h1v1h-1zM247 437h1v1h-1zM259 412h1v1h-1zM258 427h1v1h-1zM266 418h1v1h-1zM232 431h1v1h-1zM266 423h1v1h-1zM269 423h1v1h-1zM229 425h1v1h-1zM267 410h1v1h-1zM234 428h1v1h-1zM225 429h1v1h-1zM245 441h1v1h-1zM239 425h1v1h-1zM244 432h1v1h-1zM227 429h1v1h-1zM214 440h1v1h-1zM254 432h1v1h-1zM226 446h1v1h-1zM254 422h1v1h-1zM234 428h1v1h-1zM223 438h1v1h-1zM230 427h1v1h-1zM249 425h1v1h-1zM231 429h1v1h-1zM235 437h1v1h-1zM255 418h1v1h-1zM242 435h1v1h-1zM239 439h1v1h-1zM249 429h1v1h-1zM209 443h1v1h-1zM247 429h1v1h-1zM249 428h1v1h-1zM234 435h1v1h-1zM240 421h1v1h-1zM225 434h1v1h-1zM242 414h1v1h-1zM210 444h1v1h-1zM245 443h1v1h-1zM216 434h1v1h-1zM232 434h1v1h-1zM266 429h1v1h-1zM227 439h1v1h-1zM222 435h1v1h-1zM244 430h1v1h-1zM230 439h1v1h-1zM239 428h1v1h-1zM234 423h1v1h-1zM252 426h1v1h-1zM251 435h1v1h-1zM226 430h1v1h-1zM242 432h1v1h-1zM239 434h1v1h-1zM245 415h1v1h-1zM226 420h1v1h-1zM235 427h1v1h-1zM250 425h1v1h-1zM242 435h1v1h-1zM248 418h1v1h-1zM230 433h1v1h-1zM267 418h1v1h-1zM238 430h1v1h-1zM253 423h1v1h-1zM244 424h1v1h-1zM230 426h1v1h-1zM250 421h1v1h-1zM250 427h1v1h-1zM251 408h1v1h-1zM223 426h1v1h-1zM239 433h1v1h-1zM283 423h1v1h-1zM263 423h1v1h-1zM235 432h1v1h-1zM208 444h1v1h-1zM242 431h1v1h-1zM222 427h1v1h-1zM230 431h1v1h-1zM245 424h1v1h-1zM247 429h1v1h-1zM222 433h1v1h-1zM215 432h1v1h-1zM254 419h1v1h-1zM271 421h1v1h-1zM255 424h1v1h-1zM256 429h1v1h-1z" fill="#2aae2a" opacity="0.5"/>
<path d="M205 445h1v1h-1zM202 446h1v1h-1zM196 438h1v1h-1zM200 452h1v1h-1zM199 444h1v1h-1zM209 451h1v1h-1zM201 451h1v1h-1zM196 456h1v1h-1zM195 448h1v1h-1zM205 445h1v1h-1zM217 434h1v1h-1zM204 440h1v1h-1zM206 439h1v1h-1zM211 451h1v1h-1zM222 454h1v1h-1zM201 456h1v1h-1zM200 449h1v1h-1zM198 438h1v1h-1zM208 434h1v1h-1zM203 452h1v1h-1zM204 438h1v1h-1zM199 454h1v1h-1zM217 457h1v1h-1zM201 454h1v1h-1zM211 443h1v1h-1zM200 443h1v1h-1zM214 438h1v1h-1zM195 448h1v1h-1zM206 442h1v1h-1zM210 450h1v1h-1zM207 448h1v1h-1zM208 440h1v1h-1zM195 455h1v1h-1zM225 454h1v1h-1zM209 450h1v1h-1zM196 441h1v1h-1zM208 438h1v1h-1zM207 447h1v1h-1zM212 448h1v1h-1zM205 444h1v1h-1zM212 454h1v1h-1zM217 439h1v1h-1zM196 455h1v1h-1zM206 438h1v1h-1zM199 442h1v1h-1zM226 445h1v1h-1zM201 441h1v1h-1zM207 445h1v1h-1zM208 442h1v1h-1zM219 446h1v1h-1zM210 449h1v1h-1zM217 451h1v1h-1zM202 454h1v1h-1zM201 450h1v1h-1zM219 439h1v1h-1zM194 448h1v1h-1zM201 458h1v1h-1zM219 443h1v1h-1zM206 446h1v1h-1zM212 452h1v1h-1zM213 452h1v1h-1zM223 444h1v1h-1zM211 446h1v1h-1zM205 450h1v1h-1zM204 451h1v1h-1zM196 449h1v1h-1zM197 442h1v1h-1zM197 446h1v1h-1zM201 438h1v1h-1zM201 441h1v1h-1zM197 451h1v1h-1zM216 449h1v1h-1zM199 446h1v1h-1zM215 435h1v1h-1zM214 436h1v1h-1zM198 450h1v1h-1zM209 447h1v1h-1zM214 447h1v1h-1zM198 457h1v1h-1zM220 455h1v1h-1zM201 454h1v1h-1zM216 450h1v1h-1zM198 429h1v1h-1zM209 446h1v1h-1zM205 450h1v1h-1zM211 445h1v1h-1zM195 448h1v1h-1zM223 441h1v1h-1zM215 448h1v1h-1zM211 445h1v1h-1zM197 457h1v1h-1zM208 459h1v1h-1zM202 446h1v1h-1zM208 447h1v1h-1zM200 443h1v1h-1zM207 450h1v1h-1zM222 445h1v1h-1zM226 442h1v1h-1zM197 449h1v1h-1zM201 439h1v1h-1zM209 442h1v1h-1zM217 448h1v1h-1zM199 448h1v1h-1zM213 443h1v1h-1zM210 454h1v1h-1zM195 446h1v1h-1zM209 448h1v1h-1zM203 445h1v1h-1zM216 435h1v1h-1zM205 449h1v1h-1zM203 439h1v1h-1zM203 450h1v1h-1zM198 452h1v1h-1zM206 451h1v1h-1zM202 446h1v1h-1zM208 455h1v1h-1zM213 446h1v1h-1zM201 456h1v1h-1zM211 454h1v1h-1zM201 443h1v1h-1zM206 444h1v1h-1zM217 452h1v1h-1zM219 453h1v1h-1zM199 443h1v1h-1zM215 454h1v1h-1zM204 441h1v1h-1zM196 445h1v1h-1zM210 455h1v1h-1zM217 446h1v1h-1zM202 453h1v1h-1zM207 459h1v1h-1zM214 447h1v1h-1zM214 444h1v1h-1zM208 454h1v1h-1zM208 448h1v1h-1zM202 457h1v1h-1zM202 439h1v1h-1zM217 442h1v1h-1zM208 448h1v1h-1zM215 448h1v1h-1zM217 448h1v1h-1zM199 446h1v1h-1zM210 442h1v1h-1zM213 445h1v1h-1zM194 444h1v1h-1zM212 447h1v1h-1zM202 449h1v1h-1zM202 458h1v1h-1zM206 445h1v1h-1zM205 441h1v1h-1zM194 449h1v1h-1zM222 438h1v1h-1zM201 438h1v1h-1zM206 450h1v1h-1zM210 438h1v1h-1zM198 445h1v1h-1zM203 449h1v1h-1zM201 455h1v1h-1zM231 452h1v1h-1zM218 439h1v1h-1zM215 447h1v1h-1zM218 454h1v1h-1zM209 436h1v1h-1zM205 445h1v1h-1zM209 448h1v1h-1zM213 436h1v1h-1zM197 449h1v1h-1zM207 445h1v1h-1zM204 449h1v1h-1zM215 446h1v1h-1zM205 436h1v1h-1zM205 432h1v1h-1zM208 447h1v1h-1zM204 444h1v1h-1zM201 455h1v1h-1zM208 448h1v1h-1zM200 451h1v1h-1zM216 446h1v1h-1zM200 441h1v1h-1zM204 442h1v1h-1zM196 436h1v1h-1zM202 440h1v1h-1zM195 455h1v1h-1zM209 449h1v1h-1zM203 452h1v1h-1zM220 449h1v1h-1zM201 439h1v1h-1zM211 458h1v1h-1zM209 439h1v1h-1zM208 457h1v1h-1zM199 453h1v1h-1zM218 458h1v1h-1zM209 453h1v1h-1zM201 449h1v1h-1zM202 457h1v1h-1zM204 449h1v1h-1zM222 444h1v1h-1zM208 450h1v1h-1zM209 458h1v1h-1zM206 449h1v1h-1zM203 449h1v1h-1zM205 455h1v1h-1zM205 449h1v1h-1zM205 454h1v1h-1zM201 456h1v1h-1zM200 454h1v1h-1zM223 447h1v1h-1zM202 441h1v1h-1zM212 447h1v1h-1zM213 442h1v1h-1zM208 446h1v1h-1zM212 451h1v1h-1zM194 443h1v1h-1zM202 451h1v1h-1zM223 447h1v1h-1zM217 435h1v1h-1zM220 451h1v1h-1zM210 453h1v1h-1zM210 435h1v1h-1zM205 458h1v1h-1zM200 445h1v1h-1zM202 451h1v1h-1zM206 444h1v1h-1zM210 452h1v1h-1zM194 443h1v1h-1zM204 444h1v1h-1zM198 449h1v1h-1zM205 452h1v1h-1zM213 450h1v1h-1zM214 440h1v1h-1zM211 450h1v1h-1zM194 446h1v1h-1zM209 448h1v1h-1zM220 452h1v1h-1zM207 458h1v1h-1zM195 449h1v1h-1zM213 445h1v1h-1zM194 454h1v1h-1zM217 428h1v1h-1zM205 440h1v1h-1zM200 439h1v1h-1zM229 439h1v1h-1zM204 444h1v1h-1zM194 447h1v1h-1zM209 459h1v1h-1zM194 451h1v1h-1zM198 439h1v1h-1zM240 440h1v1h-1zM206 443h1v1h-1zM198 442h1v1h-1zM214 444h1v1h-1zM203 450h1v1h-1zM193 452h1v1h-1zM203 452h1v1h-1zM201 449h1v1h-1zM211 454h1v1h-1zM199 456h1v1h-1zM195 449h1v1h-1zM206 449h1v1h-1zM204 455h1v1h-1zM210 448h1v1h-1zM208 454h1v1h-1zM197 454h1v1h-1zM215 445h1v1h-1zM195 443h1v1h-1zM208 442h1v1h-1zM229 448h1v1h-1zM220 451h1v1h-1zM196 457h1v1h-1zM200 454h1v1h-1zM209 445h1v1h-1zM204 457h1v1h-1zM209 447h1v1h-1zM214 450h1v1h-1zM206 437h1v1h-1zM205 445h1v1h-1zM211 443h1v1h-1zM208 441h1v1h-1zM212 442h1v1h-1zM205 452h1v1h-1zM201 449h1v1h-1zM217 459h1v1h-1zM212 454h1v1h-1zM200 450h1v1h-1zM201 441h1v1h-1zM217 444h1v1h-1zM224 450h1v1h-1zM209 452h1v1h-1zM213 453h1v1h-1zM194 446h1v1h-1zM199 450h1v1h-1zM201 441h1v1h-1zM224 439h1v1h-1zM208 448h1v1h-1zM197 455h1v1h-1zM209 446h1v1h-1zM212 442h1v1h-1zM214 452h1v1h-1zM209 453h1v1h-1zM206 448h1v1h-1zM201 447h1v1h-1zM203 441h1v1h-1zM210 445h1v1h-1zM209 444h1v1h-1zM209 449h1v1h-1zM214 450h1v1h-1zM213 446h1v1h-1zM204 447h1v1h-1zM216 452h1v1h-1zM197 452h1v1h-1zM210 438h1v1h-1zM208 450h1v1h-1zM212 449h1v1h-1zM223 442h1v1h-1zM218 455h1v1h-1zM204 441h1v1h-1zM218 446h1v1h-1zM210 451h1v1h-1zM215 454h1v1h-1zM206 448h1v1h-1zM212 446h1v1h-1zM219 454h1v1h-1zM214 441h1v1h-1zM204 448h1v1h-1zM193 444h1v1h-1zM205 440h1v1h-1zM210 451h1v1h-1zM202 447h1v1h-1zM211 451h1v1h-1zM207 440h1v1h-1zM198 447h1v1h-1zM198 455h1v1h-1zM200 446h1v1h-1zM196 447h1v1h-1zM216 447h1v1h-1zM201 458h1v1h-1zM208 441h1v1h-1zM198 445h1v1h-1zM206 457h1v1h-1zM197 449h1v1h-1zM204 440h1v1h-1zM201 453h1v1h-1zM213 434h1v1h-1zM211 445h1v1h-1zM218 451h1v1h-1zM224 447h1v1h-1zM200 444h1v1h-1zM210 453h1v1h-1zM206 438h1v1h-1zM200 448h1v1h-1zM207 453h1v1h-1zM219 448h1v1h-1zM193 452h1v1h-1zM204 456h1v1h-1zM214 444h1v1h-1zM214 447h1v1h-1zM211 457h1v1h-1zM193 450h1v1h-1zM219 441h1v1h-1zM207 449h1v1h-1zM199 440h1v1h-1zM197 443h1v1h-1zM215 448h1v1h-1zM210 439h1v1h-1zM210 449h1v1h-1zM214 442h1v1h-1zM214 456h1v1h-1zM221 439h1v1h-1zM215 451h1v1h-1zM207 442h1v1h-1zM219 457h1v1h-1zM204 448h1v1h-1zM217 450h1v1h-1zM217 443h1v1h-1zM207 446h1v1h-1zM199 447h1v1h-1zM202 452h1v1h-1zM202 449h1v1h-1zM195 442h1v1h-1zM217 439h1v1h-1zM223 452h1v1h-1zM200 449h1v1h-1zM202 445h1v1h-1zM217 445h1v1h-1zM213 442h1v1h-1zM199 459h1v1h-1zM200 442h1v1h-1zM204 456h1v1h-1zM202 444h1v1h-1zM212 454h1v1h-1zM202 447h1v1h-1zM204 451h1v1h-1zM205 446h1v1h-1zM199 440h1v1h-1zM198 449h1v1h-1zM202 445h1v1h-1zM193 447h1v1h-1zM200 441h1v1h-1zM196 456h1v1h-1zM214 448h1v1h-1zM237 449h1v1h-1zM216 441h1v1h-1zM217 458h1v1h-1zM195 442h1v1h-1zM203 443h1v1h-1zM209 440h1v1h-1zM203 435h1v1h-1zM205 456h1v1h-1zM202 451h1v1h-1zM214 439h1v1h-1zM207 446h1v1h-1zM197 458h1v1h-1zM193 449h1v1h-1zM205 453h1v1h-1zM199 444h1v1h-1zM223 439h1v1h-1zM212 446h1v1h-1zM200 449h1v1h-1zM202 451h1v1h-1zM204 442h1v1h-1zM223 450h1v1h-1zM206 446h1v1h-1zM217 443h1v1h-1zM197 455h1v1h-1zM194 445h1v1h-1zM217 435h1v1h-1zM204 449h1v1h-1zM205 438h1v1h-1zM202 447h1v1h-1zM224 452h1v1h-1zM198 456h1v1h-1zM211 447h1v1h-1zM202 447h1v1h-1zM215 457h1v1h-1zM222 443h1v1h-1zM208 431h1v1h-1zM200 440h1v1h-1zM211 436h1v1h-1zM193 443h1v1h-1zM209 453h1v1h-1zM205 443h1v1h-1zM208 448h1v1h-1zM213 449h1v1h-1zM227 453h1v1h-1zM199 455h1v1h-1zM211 440h1v1h-1zM196 444h1v1h-1zM204 457h1v1h-1zM199 450h1v1h-1zM213 454h1v1h-1zM206 441h1v1h-1zM227 451h1v1h-1zM220 457h1v1h-1zM219 449h1v1h-1zM210 452h1v1h-1zM196 453h1v1h-1zM196 455h1v1h-1zM207 452h1v1h-1zM195 448h1v1h-1zM204 447h1v1h-1zM199 443h1v1h-1zM212 445h1v1h-1zM197 452h1v1h-1zM196 449h1v1h-1zM198 443h1v1h-1zM201 443h1v1h-1zM193 453h1v1h-1zM200 439h1v1h-1zM201 450h1v1h-1zM209 450h1v1h-1zM208 452h1v1h-1zM199 444h1v1h-1zM210 445h1v1h-1zM205 453h1v1h-1zM215 455h1v1h-1zM197 447h1v1h-1zM208 438h1v1h-1zM193 455h1v1h-1zM198 443h1v1h-1zM213 451h1v1h-1zM213 445h1v1h-1zM201 447h1v1h-1zM205 434h1v1h-1zM199 454h1v1h-1zM197 449h1v1h-1zM206 452h1v1h-1zM199 442h1v1h-1zM228 439h1v1h-1zM219 434h1v1h-1zM205 447h1v1h-1zM225 459h1v1h-1zM213 440h1v1h-1zM196 445h1v1h-1zM200 451h1v1h-1zM197 448h1v1h-1zM221 456h1v1h-1zM203 458h1v1h-1zM210 457h1v1h-1zM196 448h1v1h-1zM215 451h1v1h-1zM207 452h1v1h-1zM208 458h1v1h-1z" fill="#2aae2a" opacity="0.45"/>
<ellipse cx="210" cy="440" rx="23" ry="11" transform="rotate(-28 210 440)" fill="#3cb83c" opacity="0.6" filter="url(#b3)"/>
<ellipse cx="209" cy="438" rx="18" ry="8" transform="rotate(-28 209 438)" fill="#10a410" opacity="0.95" filter="url(#b2)"/>
<path d="M214 436h1v1h-1zM202 432h1v1h-1zM222 437h1v1h-1zM219 430h1v1h-1zM197 441h1v1h-1zM206 439h1v1h-1zM218 426h1v1h-1zM206 445h1v1h-1zM227 445h1v1h-1zM213 429h1v1h-1zM195 439h1v1h-1zM211 439h1v1h-1zM207 434h1v1h-1zM207 438h1v1h-1zM217 434h1v1h-1zM197 435h1v1h-1zM226 428h1v1h-1zM208 438h1v1h-1zM221 429h1v1h-1zM211 435h1v1h-1zM213 428h1v1h-1zM215 442h1v1h-1zM225 434h1v1h-1zM218 445h1v1h-1zM222 442h1v1h-1zM218 431h1v1h-1zM202 434h1v1h-1zM223 421h1v1h-1zM206 428h1v1h-1zM215 452h1v1h-1zM235 420h1v1h-1zM203 453h1v1h-1zM194 432h1v1h-1zM210 429h1v1h-1zM197 453h1v1h-1zM198 435h1v1h-1zM211 435h1v1h-1zM223 431h1v1h-1zM231 435h1v1h-1zM233 433h1v1h-1zM212 440h1v1h-1zM205 428h1v1h-1zM199 449h1v1h-1zM195 445h1v1h-1zM199 445h1v1h-1zM206 436h1v1h-1zM193 429h1v1h-1zM206 429h1v1h-1zM208 441h1v1h-1zM224 435h1v1h-1zM222 420h1v1h-1zM222 443h1v1h-1zM211 428h1v1h-1zM213 432h1v1h-1zM206 448h1v1h-1zM204 432h1v1h-1zM208 453h1v1h-1zM202 447h1v1h-1zM215 443h1v1h-1zM204 433h1v1h-1zM199 435h1v1h-1zM239 423h1v1h-1zM210 447h1v1h-1zM216 432h1v1h-1zM218 435h1v1h-1zM228 441h1v1h-1zM206 439h1v1h-1zM212 446h1v1h-1zM216 440h1v1h-1zM218 428h1v1h-1zM216 445h1v1h-1zM223 437h1v1h-1zM205 437h1v1h-1zM199 441h1v1h-1zM204 429h1v1h-1zM220 426h1v1h-1zM214 440h1v1h-1zM198 430h1v1h-1zM222 434h1v1h-1zM210 446h1v1h-1zM217 426h1v1h-1zM203 427h1v1h-1zM211 447h1v1h-1zM203 447h1v1h-1zM226 442h1v1h-1zM217 439h1v1h-1zM221 413h1v1h-1zM197 459h1v1h-1zM239 426h1v1h-1zM211 439h1v1h-1zM208 434h1v1h-1zM209 437h1v1h-1zM219 437h1v1h-1zM223 435h1v1h-1zM203 452h1v1h-1zM212 432h1v1h-1zM227 420h1v1h-1zM195 441h1v1h-1zM217 440h1v1h-1zM213 441h1v1h-1zM200 438h1v1h-1zM207 429h1v1h-1zM211 434h1v1h-1zM214 427h1v1h-1zM202 437h1v1h-1zM202 434h1v1h-1zM203 431h1v1h-1zM218 438h1v1h-1zM209 436h1v1h-1zM197 437h1v1h-1zM204 433h1v1h-1zM197 445h1v1h-1zM208 435h1v1h-1zM200 442h1v1h-1zM201 439h1v1h-1zM214 441h1v1h-1zM216 429h1v1h-1zM219 423h1v1h-1zM212 446h1v1h-1zM237 424h1v1h-1zM205 437h1v1h-1zM196 444h1v1h-1zM203 435h1v1h-1zM221 426h1v1h-1zM231 432h1v1h-1zM215 430h1v1h-1zM198 429h1v1h-1zM212 434h1v1h-1zM212 431h1v1h-1zM210 426h1v1h-1zM212 412h1v1h-1zM223 428h1v1h-1zM203 429h1v1h-1zM201 448h1v1h-1zM201 442h1v1h-1zM214 450h1v1h-1zM215 424h1v1h-1zM201 433h1v1h-1zM222 431h1v1h-1zM217 433h1v1h-1zM205 440h1v1h-1zM215 449h1v1h-1zM231 429h1v1h-1zM210 422h1v1h-1zM216 452h1v1h-1zM203 447h1v1h-1zM222 428h1v1h-1zM206 436h1v1h-1zM219 433h1v1h-1zM230 436h1v1h-1zM218 453h1v1h-1zM204 436h1v1h-1zM204 434h1v1h-1zM205 439h1v1h-1zM215 423h1v1h-1zM208 442h1v1h-1zM206 451h1v1h-1zM203 439h1v1h-1zM214 444h1v1h-1zM213 436h1v1h-1zM204 442h1v1h-1zM213 433h1v1h-1zM204 427h1v1h-1zM208 448h1v1h-1zM225 429h1v1h-1zM216 454h1v1h-1zM208 446h1v1h-1zM207 449h1v1h-1zM219 424h1v1h-1zM233 447h1v1h-1zM203 431h1v1h-1zM211 433h1v1h-1zM208 427h1v1h-1zM223 434h1v1h-1zM212 447h1v1h-1zM202 447h1v1h-1zM194 443h1v1h-1zM215 430h1v1h-1zM210 442h1v1h-1zM231 436h1v1h-1zM214 433h1v1h-1zM199 456h1v1h-1zM224 413h1v1h-1zM219 432h1v1h-1zM218 435h1v1h-1zM207 439h1v1h-1zM213 445h1v1h-1zM205 436h1v1h-1zM219 437h1v1h-1zM215 437h1v1h-1zM229 435h1v1h-1zM211 435h1v1h-1zM211 422h1v1h-1zM202 436h1v1h-1zM210 434h1v1h-1zM239 427h1v1h-1zM221 449h1v1h-1zM209 436h1v1h-1zM226 435h1v1h-1zM224 439h1v1h-1zM203 436h1v1h-1zM202 442h1v1h-1zM217 425h1v1h-1zM199 433h1v1h-1zM234 431h1v1h-1zM208 429h1v1h-1zM196 440h1v1h-1zM206 430h1v1h-1zM211 446h1v1h-1zM210 438h1v1h-1zM206 434h1v1h-1zM194 445h1v1h-1zM197 440h1v1h-1zM217 427h1v1h-1zM208 426h1v1h-1zM218 437h1v1h-1zM208 445h1v1h-1zM200 443h1v1h-1zM228 427h1v1h-1zM201 451h1v1h-1zM215 433h1v1h-1zM198 455h1v1h-1zM210 431h1v1h-1zM227 440h1v1h-1zM202 445h1v1h-1zM225 418h1v1h-1zM208 433h1v1h-1zM209 439h1v1h-1zM216 441h1v1h-1zM219 441h1v1h-1zM224 438h1v1h-1zM203 444h1v1h-1zM203 435h1v1h-1zM232 428h1v1h-1zM203 424h1v1h-1zM210 443h1v1h-1zM206 435h1v1h-1zM225 427h1v1h-1zM206 439h1v1h-1zM210 445h1v1h-1zM216 434h1v1h-1zM205 438h1v1h-1zM227 426h1v1h-1zM212 424h1v1h-1zM215 440h1v1h-1zM225 432h1v1h-1zM217 436h1v1h-1zM228 444h1v1h-1zM209 431h1v1h-1zM216 433h1v1h-1zM219 438h1v1h-1zM210 434h1v1h-1zM209 428h1v1h-1zM210 431h1v1h-1zM215 436h1v1h-1zM203 431h1v1h-1zM208 433h1v1h-1zM210 442h1v1h-1zM216 424h1v1h-1zM224 440h1v1h-1zM223 433h1v1h-1zM214 448h1v1h-1zM201 430h1v1h-1zM212 439h1v1h-1zM194 436h1v1h-1zM232 427h1v1h-1zM216 429h1v1h-1zM222 426h1v1h-1zM207 439h1v1h-1zM197 442h1v1h-1zM206 446h1v1h-1zM214 442h1v1h-1zM202 425h1v1h-1zM222 438h1v1h-1zM203 427h1v1h-1zM206 443h1v1h-1zM224 427h1v1h-1zM201 436h1v1h-1zM224 437h1v1h-1zM193 455h1v1h-1zM195 434h1v1h-1zM243 439h1v1h-1zM194 441h1v1h-1zM213 439h1v1h-1zM199 431h1v1h-1zM203 436h1v1h-1zM229 434h1v1h-1zM226 430h1v1h-1zM205 439h1v1h-1zM197 450h1v1h-1zM212 434h1v1h-1zM232 437h1v1h-1zM218 430h1v1h-1zM213 440h1v1h-1zM215 443h1v1h-1zM195 427h1v1h-1zM197 450h1v1h-1zM221 431h1v1h-1zM216 435h1v1h-1zM210 434h1v1h-1zM209 447h1v1h-1zM207 439h1v1h-1zM226 436h1v1h-1zM206 441h1v1h-1zM199 444h1v1h-1zM213 436h1v1h-1zM213 439h1v1h-1zM209 434h1v1h-1zM198 442h1v1h-1zM227 427h1v1h-1zM201 438h1v1h-1zM198 447h1v1h-1zM202 449h1v1h-1zM221 436h1v1h-1zM221 431h1v1h-1zM212 424h1v1h-1zM200 451h1v1h-1zM219 443h1v1h-1zM217 434h1v1h-1zM217 440h1v1h-1zM209 436h1v1h-1zM212 434h1v1h-1zM234 419h1v1h-1zM220 429h1v1h-1zM211 435h1v1h-1zM208 427h1v1h-1zM209 433h1v1h-1zM224 435h1v1h-1zM220 441h1v1h-1zM218 432h1v1h-1zM214 417h1v1h-1zM201 435h1v1h-1zM200 447h1v1h-1zM214 438h1v1h-1zM210 442h1v1h-1zM216 429h1v1h-1zM217 426h1v1h-1zM225 419h1v1h-1zM203 433h1v1h-1zM214 445h1v1h-1zM207 453h1v1h-1zM226 431h1v1h-1zM206 446h1v1h-1zM220 432h1v1h-1zM235 419h1v1h-1zM194 444h1v1h-1zM222 444h1v1h-1zM221 426h1v1h-1zM201 433h1v1h-1zM221 438h1v1h-1zM217 435h1v1h-1zM220 431h1v1h-1zM220 438h1v1h-1zM226 433h1v1h-1zM213 441h1v1h-1zM228 429h1v1h-1zM196 440h1v1h-1zM208 439h1v1h-1zM204 448h1v1h-1zM203 454h1v1h-1zM212 423h1v1h-1zM196 445h1v1h-1zM211 433h1v1h-1zM210 438h1v1h-1zM197 445h1v1h-1zM233 420h1v1h-1zM200 447h1v1h-1zM228 436h1v1h-1zM202 441h1v1h-1zM211 435h1v1h-1zM218 442h1v1h-1zM216 434h1v1h-1zM213 449h1v1h-1zM202 457h1v1h-1zM218 434h1v1h-1zM207 453h1v1h-1zM226 436h1v1h-1zM227 414h1v1h-1zM210 435h1v1h-1zM202 442h1v1h-1zM217 437h1v1h-1zM204 430h1v1h-1zM218 438h1v1h-1zM237 430h1v1h-1zM206 430h1v1h-1zM238 417h1v1h-1zM214 441h1v1h-1zM220 443h1v1h-1zM196 439h1v1h-1zM208 429h1v1h-1zM207 450h1v1h-1zM213 435h1v1h-1zM203 441h1v1h-1zM206 431h1v1h-1zM214 425h1v1h-1zM223 428h1v1h-1zM210 430h1v1h-1zM235 435h1v1h-1zM236 430h1v1h-1zM223 426h1v1h-1zM223 427h1v1h-1zM205 429h1v1h-1zM212 440h1v1h-1zM205 431h1v1h-1zM223 438h1v1h-1zM211 443h1v1h-1zM218 425h1v1h-1zM203 426h1v1h-1zM199 446h1v1h-1zM201 445h1v1h-1zM207 423h1v1h-1zM209 450h1v1h-1zM210 438h1v1h-1zM196 432h1v1h-1zM205 433h1v1h-1zM205 425h1v1h-1zM231 439h1v1h-1zM202 444h1v1h-1zM202 448h1v1h-1zM200 442h1v1h-1zM226 433h1v1h-1zM201 430h1v1h-1zM195 454h1v1h-1zM216 435h1v1h-1zM224 431h1v1h-1zM201 441h1v1h-1zM208 438h1v1h-1zM240 426h1v1h-1zM212 434h1v1h-1zM199 435h1v1h-1zM229 437h1v1h-1zM205 456h1v1h-1zM209 418h1v1h-1zM207 431h1v1h-1zM224 433h1v1h-1zM205 449h1v1h-1zM205 432h1v1h-1zM203 448h1v1h-1zM211 443h1v1h-1zM199 450h1v1h-1zM235 442h1v1h-1zM208 439h1v1h-1zM201 449h1v1h-1zM242 432h1v1h-1zM197 440h1v1h-1zM218 434h1v1h-1zM205 450h1v1h-1zM219 441h1v1h-1zM212 446h1v1h-1zM201 433h1v1h-1zM205 429h1v1h-1zM226 434h1v1h-1zM218 430h1v1h-1zM212 431h1v1h-1zM209 437h1v1h-1zM212 429h1v1h-1zM198 446h1v1h-1zM205 444h1v1h-1zM199 432h1v1h-1zM219 435h1v1h-1z" fill="#0c9c0c" opacity="0.5"/>
</g>
<line x1="227.4" y1="358.7" x2="227.4" y2="460.7" stroke="#4a4a4a" stroke-width="1"/>
<line x1="193.3" y1="411.5" x2="338.2" y2="411.5" stroke="#4a4a4a" stroke-width="1"/>
<rect x="193.3" y="358.7" width="144.9" height="102" fill="none" stroke="#3a3a3a" stroke-width="0.9"/>
<text class="sr" x="190.8" y="396.6" font-size="14.5" textLength="34.6" lengthAdjust="spacingAndGlyphs">0.6%</text>
<text class="sr" x="273" y="396.6" font-size="14.5" textLength="21.7" lengthAdjust="spacingAndGlyphs">6%</text>
<text class="sr" x="193.3" y="448.3" font-size="14.5" textLength="43.4" lengthAdjust="spacingAndGlyphs">73.7%</text>
<text class="sr" x="267.8" y="448.3" font-size="14.5" textLength="41.4" lengthAdjust="spacingAndGlyphs">19.7%</text>
<text class="sr" x="197.5" y="372.2" font-size="4.6" fill="#444">Q1</text>
<text class="sr" x="316.5" y="372.2" font-size="4.6" fill="#444">Q2</text>
<text class="sr" x="197" y="458.3" font-size="4.6" fill="#444">Q3</text>
<text class="sr" x="314" y="453" font-size="4.6" fill="#444">Q4</text>
<text class="sr" x="212.1" y="471.7" font-size="5.4" text-anchor="middle" fill="#555">10</text>
<text class="sr" x="215.9" y="469.3" font-size="3.8" text-anchor="middle" fill="#555">2</text>
<text class="sr" x="248" y="471.7" font-size="5.4" text-anchor="middle" fill="#555">10</text>
<text class="sr" x="251.8" y="469.3" font-size="3.8" text-anchor="middle" fill="#555">3</text>
<text class="sr" x="283.9" y="471.7" font-size="5.4" text-anchor="middle" fill="#555">10</text>
<text class="sr" x="287.7" y="469.3" font-size="3.8" text-anchor="middle" fill="#555">4</text>
<text class="sr" x="319.8" y="471.7" font-size="5.4" text-anchor="middle" fill="#555">10</text>
<text class="sr" x="323.6" y="469.3" font-size="3.8" text-anchor="middle" fill="#555">5</text>
<g transform="translate(189.9,367.7) rotate(-90)"><text class="sr" x="1.2" y="0" font-size="5.4" text-anchor="middle" fill="#555">10</text><text class="sr" x="-2.6" y="-2.4" font-size="3.8" text-anchor="middle" fill="#555">5</text></g>
<g transform="translate(189.9,393.6) rotate(-90)"><text class="sr" x="1.2" y="0" font-size="5.4" text-anchor="middle" fill="#555">10</text><text class="sr" x="-2.6" y="-2.4" font-size="3.8" text-anchor="middle" fill="#555">4</text></g>
<g transform="translate(189.9,419.5) rotate(-90)"><text class="sr" x="1.2" y="0" font-size="5.4" text-anchor="middle" fill="#555">10</text><text class="sr" x="-2.6" y="-2.4" font-size="3.8" text-anchor="middle" fill="#555">3</text></g>
<g transform="translate(189.9,445.4) rotate(-90)"><text class="sr" x="1.2" y="0" font-size="5.4" text-anchor="middle" fill="#555">10</text><text class="sr" x="-2.6" y="-2.4" font-size="3.8" text-anchor="middle" fill="#555">2</text></g>
<path d="M194.5 460.7v2M199 460.7v2M202.5 460.7v2M205.3 460.7v2M207.7 460.7v2M209.8 460.7v2M211.7 460.7v2M213.3 460.7v3M224.1 460.7v2M230.4 460.7v2M234.9 460.7v2M238.4 460.7v2M241.2 460.7v2M243.6 460.7v2M245.7 460.7v2M247.6 460.7v2M249.2 460.7v3M260 460.7v2M266.3 460.7v2M270.8 460.7v2M274.3 460.7v2M277.1 460.7v2M279.5 460.7v2M281.6 460.7v2M283.5 460.7v2M285.1 460.7v3M295.9 460.7v2M302.2 460.7v2M306.7 460.7v2M310.2 460.7v2M313 460.7v2M315.4 460.7v2M317.5 460.7v2M319.4 460.7v2M321 460.7v3M331.8 460.7v2M193.3 367.7h-3M193.3 359.9h-2M193.3 393.6h-3M193.3 385.8h-2M193.3 381.2h-2M193.3 378h-2M193.3 375.5h-2M193.3 373.4h-2M193.3 371.7h-2M193.3 370.2h-2M193.3 368.9h-2M193.3 419.5h-3M193.3 411.7h-2M193.3 407.1h-2M193.3 403.9h-2M193.3 401.4h-2M193.3 399.3h-2M193.3 397.6h-2M193.3 396.1h-2M193.3 394.8h-2M193.3 445.4h-3M193.3 437.6h-2M193.3 433h-2M193.3 429.8h-2M193.3 427.3h-2M193.3 425.2h-2M193.3 423.5h-2M193.3 422h-2M193.3 420.7h-2M193.3 458.9h-2M193.3 455.7h-2M193.3 453.2h-2M193.3 451.1h-2M193.3 449.4h-2M193.3 447.9h-2M193.3 446.6h-2" stroke="#444" stroke-width="0.8" fill="none"/>
<clipPath id="fc508"><rect x="355.3" y="358.7" width="144.5" height="101.4"/></clipPath>
<g clip-path="url(#fc508)">
<path d="M385 374h1v1h-1zM365 390h1v1h-1zM367 409h1v1h-1zM387 366h1v1h-1zM363 368h1v1h-1zM370 374h1v1h-1zM377 406h1v1h-1zM358 361h1v1h-1zM359 376h1v1h-1zM360 382h1v1h-1zM367 397h1v1h-1zM386 410h1v1h-1zM369 393h1v1h-1zM360 391h1v1h-1zM384 406h1v1h-1zM360 368h1v1h-1zM384 396h1v1h-1zM380 363h1v1h-1zM375 361h1v1h-1zM379 401h1v1h-1zM366 360h1v1h-1zM379 411h1v1h-1zM375 379h1v1h-1zM366 402h1v1h-1zM386 378h1v1h-1zM363 411h1v1h-1zM369 383h1v1h-1zM365 397h1v1h-1zM387 384h1v1h-1zM383 380h1v1h-1z" fill="#9a9a9a" opacity="0.35"/>
<path d="M423 402h1v1h-1zM467 400h1v1h-1zM446 403h1v1h-1zM463 409h1v1h-1zM432 383h1v1h-1zM389 389h1v1h-1zM417 365h1v1h-1zM469 379h1v1h-1zM464 365h1v1h-1zM418 401h1v1h-1zM443 396h1v1h-1zM428 369h1v1h-1zM456 400h1v1h-1zM427 391h1v1h-1zM454 388h1v1h-1zM427 387h1v1h-1zM448 399h1v1h-1zM416 401h1v1h-1zM419 396h1v1h-1zM419 407h1v1h-1zM465 401h1v1h-1zM419 381h1v1h-1zM424 393h1v1h-1zM391 390h1v1h-1zM464 368h1v1h-1zM461 391h1v1h-1zM469 398h1v1h-1zM447 400h1v1h-1zM423 370h1v1h-1zM458 406h1v1h-1z" fill="#9a9a9a" opacity="0.35"/>
<path d="M447 423h1v1h-1zM429 436h1v1h-1zM418 435h1v1h-1zM426 458h1v1h-1zM439 457h1v1h-1zM462 421h1v1h-1zM451 430h1v1h-1zM437 438h1v1h-1zM448 426h1v1h-1zM443 430h1v1h-1zM452 435h1v1h-1zM441 458h1v1h-1zM411 413h1v1h-1zM461 437h1v1h-1zM441 451h1v1h-1zM461 430h1v1h-1zM468 430h1v1h-1zM447 451h1v1h-1zM418 432h1v1h-1zM418 428h1v1h-1zM422 451h1v1h-1zM393 458h1v1h-1zM453 438h1v1h-1zM441 426h1v1h-1zM450 453h1v1h-1zM419 435h1v1h-1zM406 424h1v1h-1zM458 442h1v1h-1zM425 442h1v1h-1zM404 413h1v1h-1zM417 439h1v1h-1zM403 437h1v1h-1zM415 425h1v1h-1zM448 429h1v1h-1zM449 447h1v1h-1zM419 414h1v1h-1zM457 438h1v1h-1zM435 444h1v1h-1zM433 454h1v1h-1zM389 457h1v1h-1zM438 431h1v1h-1zM462 454h1v1h-1zM437 413h1v1h-1zM439 431h1v1h-1zM435 451h1v1h-1zM399 451h1v1h-1zM414 424h1v1h-1zM392 417h1v1h-1zM410 437h1v1h-1zM465 420h1v1h-1zM412 430h1v1h-1zM440 429h1v1h-1zM443 419h1v1h-1zM392 439h1v1h-1zM447 419h1v1h-1zM392 443h1v1h-1zM394 455h1v1h-1zM444 420h1v1h-1zM422 415h1v1h-1zM396 429h1v1h-1zM460 454h1v1h-1zM450 442h1v1h-1zM436 436h1v1h-1zM442 435h1v1h-1zM421 451h1v1h-1zM413 431h1v1h-1zM444 457h1v1h-1zM416 432h1v1h-1zM421 422h1v1h-1zM417 449h1v1h-1z" fill="#9a9a9a" opacity="0.4"/>
<path d="M430 394h1v1h-1zM424 395h1v1h-1zM427 392h1v1h-1zM421 393h1v1h-1zM418 391h1v1h-1zM428 394h1v1h-1zM424 394h1v1h-1zM441 390h1v1h-1zM429 391h1v1h-1zM421 393h1v1h-1zM405 395h1v1h-1zM434 393h1v1h-1zM432 395h1v1h-1zM423 394h1v1h-1zM440 393h1v1h-1zM410 393h1v1h-1zM424 390h1v1h-1zM426 394h1v1h-1zM424 392h1v1h-1zM440 391h1v1h-1zM418 393h1v1h-1zM437 393h1v1h-1zM427 392h1v1h-1zM438 393h1v1h-1zM411 394h1v1h-1zM405 396h1v1h-1zM432 391h1v1h-1zM415 393h1v1h-1zM411 394h1v1h-1zM422 390h1v1h-1zM426 394h1v1h-1zM415 393h1v1h-1zM443 392h1v1h-1zM422 393h1v1h-1zM433 391h1v1h-1zM425 390h1v1h-1zM412 391h1v1h-1zM434 393h1v1h-1zM433 394h1v1h-1zM427 393h1v1h-1zM430 393h1v1h-1zM417 393h1v1h-1zM425 393h1v1h-1zM420 393h1v1h-1zM429 393h1v1h-1zM432 393h1v1h-1zM432 394h1v1h-1zM434 394h1v1h-1zM432 391h1v1h-1zM448 393h1v1h-1zM438 393h1v1h-1zM427 391h1v1h-1zM430 392h1v1h-1zM423 389h1v1h-1zM440 390h1v1h-1zM417 394h1v1h-1zM432 391h1v1h-1zM426 393h1v1h-1zM428 393h1v1h-1zM433 392h1v1h-1zM412 397h1v1h-1zM423 391h1v1h-1zM433 393h1v1h-1zM421 396h1v1h-1zM405 396h1v1h-1zM426 393h1v1h-1zM429 392h1v1h-1zM429 390h1v1h-1zM423 395h1v1h-1zM403 396h1v1h-1zM406 392h1v1h-1zM434 391h1v1h-1zM421 391h1v1h-1zM425 392h1v1h-1zM421 390h1v1h-1zM428 393h1v1h-1zM437 393h1v1h-1zM440 394h1v1h-1zM401 396h1v1h-1zM425 391h1v1h-1zM430 394h1v1h-1zM412 391h1v1h-1zM433 391h1v1h-1zM440 392h1v1h-1zM421 391h1v1h-1zM432 390h1v1h-1zM415 391h1v1h-1zM442 394h1v1h-1zM424 392h1v1h-1zM433 394h1v1h-1zM419 396h1v1h-1zM425 394h1v1h-1zM405 394h1v1h-1zM420 396h1v1h-1zM424 391h1v1h-1zM444 391h1v1h-1zM426 391h1v1h-1zM433 392h1v1h-1zM424 392h1v1h-1zM421 392h1v1h-1zM414 395h1v1h-1zM434 390h1v1h-1zM416 394h1v1h-1zM447 391h1v1h-1zM424 392h1v1h-1zM429 392h1v1h-1zM436 393h1v1h-1zM432 395h1v1h-1zM424 392h1v1h-1zM453 388h1v1h-1zM412 390h1v1h-1zM430 391h1v1h-1zM436 389h1v1h-1zM425 392h1v1h-1zM417 395h1v1h-1zM423 393h1v1h-1zM422 393h1v1h-1zM422 393h1v1h-1zM426 392h1v1h-1zM430 392h1v1h-1zM418 391h1v1h-1zM431 394h1v1h-1zM415 392h1v1h-1zM431 394h1v1h-1zM433 390h1v1h-1zM427 394h1v1h-1zM429 392h1v1h-1zM416 393h1v1h-1zM426 393h1v1h-1zM440 394h1v1h-1z" fill="#2aae2a" opacity="0.6"/>
<path d="M417 401h1v1h-1zM422 400h1v1h-1zM444 400h1v1h-1zM426 399h1v1h-1zM424 401h1v1h-1zM420 402h1v1h-1zM426 398h1v1h-1zM448 394h1v1h-1zM423 400h1v1h-1zM436 401h1v1h-1zM442 402h1v1h-1zM429 400h1v1h-1zM437 399h1v1h-1zM412 400h1v1h-1zM433 401h1v1h-1zM413 402h1v1h-1zM429 398h1v1h-1zM431 401h1v1h-1zM431 399h1v1h-1zM417 402h1v1h-1zM428 400h1v1h-1zM421 399h1v1h-1zM405 401h1v1h-1zM438 401h1v1h-1zM418 403h1v1h-1zM423 399h1v1h-1zM436 402h1v1h-1zM421 398h1v1h-1zM425 396h1v1h-1zM426 402h1v1h-1zM428 399h1v1h-1zM433 399h1v1h-1zM439 399h1v1h-1zM448 398h1v1h-1zM428 398h1v1h-1zM411 401h1v1h-1zM429 398h1v1h-1zM432 399h1v1h-1zM419 400h1v1h-1zM430 401h1v1h-1zM439 400h1v1h-1zM417 399h1v1h-1zM429 398h1v1h-1zM424 400h1v1h-1zM424 400h1v1h-1zM437 402h1v1h-1zM435 401h1v1h-1zM414 402h1v1h-1zM440 397h1v1h-1zM453 398h1v1h-1zM399 404h1v1h-1zM426 399h1v1h-1zM419 402h1v1h-1zM428 399h1v1h-1zM438 398h1v1h-1zM416 400h1v1h-1zM417 401h1v1h-1zM423 399h1v1h-1zM420 397h1v1h-1zM427 400h1v1h-1zM432 399h1v1h-1zM430 398h1v1h-1zM426 400h1v1h-1zM412 402h1v1h-1zM427 400h1v1h-1zM420 403h1v1h-1zM425 399h1v1h-1zM416 401h1v1h-1zM423 399h1v1h-1zM418 402h1v1h-1zM427 402h1v1h-1zM425 398h1v1h-1zM435 400h1v1h-1zM418 400h1v1h-1zM415 402h1v1h-1zM421 401h1v1h-1zM428 399h1v1h-1zM430 399h1v1h-1zM412 400h1v1h-1zM413 402h1v1h-1zM433 399h1v1h-1zM432 400h1v1h-1zM436 398h1v1h-1zM426 398h1v1h-1zM418 402h1v1h-1zM403 400h1v1h-1zM431 401h1v1h-1zM417 397h1v1h-1zM407 402h1v1h-1zM438 401h1v1h-1z" fill="#2aae2a" opacity="0.4"/>
<path d="M407 405h1v1h-1zM416 401h1v1h-1zM417 406h1v1h-1zM409 388h1v1h-1zM414 399h1v1h-1zM424 393h1v1h-1zM415 392h1v1h-1zM415 398h1v1h-1zM425 405h1v1h-1zM384 403h1v1h-1zM427 391h1v1h-1zM421 397h1v1h-1zM402 403h1v1h-1zM454 398h1v1h-1zM434 402h1v1h-1zM418 403h1v1h-1zM405 400h1v1h-1zM433 403h1v1h-1zM414 396h1v1h-1zM428 396h1v1h-1zM422 401h1v1h-1zM406 403h1v1h-1zM426 396h1v1h-1zM397 396h1v1h-1zM419 402h1v1h-1zM385 404h1v1h-1zM422 392h1v1h-1zM435 398h1v1h-1zM427 392h1v1h-1zM400 404h1v1h-1zM445 397h1v1h-1zM416 396h1v1h-1zM389 405h1v1h-1zM418 404h1v1h-1zM407 404h1v1h-1zM407 402h1v1h-1zM444 392h1v1h-1zM436 396h1v1h-1zM403 400h1v1h-1zM431 393h1v1h-1zM414 395h1v1h-1zM406 398h1v1h-1zM434 394h1v1h-1zM442 394h1v1h-1zM408 404h1v1h-1zM444 392h1v1h-1zM429 391h1v1h-1zM412 396h1v1h-1zM432 390h1v1h-1zM410 395h1v1h-1zM421 391h1v1h-1zM397 414h1v1h-1zM423 390h1v1h-1zM434 390h1v1h-1zM387 409h1v1h-1zM441 391h1v1h-1zM400 402h1v1h-1zM456 397h1v1h-1zM431 391h1v1h-1zM388 402h1v1h-1zM438 397h1v1h-1zM420 404h1v1h-1zM405 404h1v1h-1zM434 393h1v1h-1zM422 398h1v1h-1zM429 392h1v1h-1zM415 398h1v1h-1zM420 398h1v1h-1zM424 396h1v1h-1zM411 403h1v1h-1zM408 397h1v1h-1zM403 393h1v1h-1zM427 397h1v1h-1zM417 400h1v1h-1zM417 401h1v1h-1zM452 396h1v1h-1zM416 406h1v1h-1zM431 388h1v1h-1zM443 396h1v1h-1zM434 391h1v1h-1zM404 396h1v1h-1zM429 391h1v1h-1zM407 403h1v1h-1zM408 399h1v1h-1zM403 391h1v1h-1zM418 397h1v1h-1zM395 404h1v1h-1zM434 401h1v1h-1zM410 393h1v1h-1zM418 398h1v1h-1zM416 395h1v1h-1zM402 395h1v1h-1zM418 395h1v1h-1zM449 394h1v1h-1zM427 395h1v1h-1zM416 393h1v1h-1zM410 391h1v1h-1zM383 407h1v1h-1zM401 401h1v1h-1zM417 395h1v1h-1z" fill="#9a9a9a" opacity="0.45"/>
<path d="M439 411h1v1h-1zM434 414h1v1h-1zM446 421h1v1h-1zM431 427h1v1h-1zM439 428h1v1h-1zM422 407h1v1h-1zM432 419h1v1h-1zM421 419h1v1h-1zM420 410h1v1h-1zM455 405h1v1h-1zM406 411h1v1h-1zM413 422h1v1h-1zM454 416h1v1h-1zM413 412h1v1h-1zM408 423h1v1h-1zM441 411h1v1h-1zM459 426h1v1h-1zM426 401h1v1h-1zM446 413h1v1h-1zM441 423h1v1h-1zM410 424h1v1h-1zM429 412h1v1h-1zM439 414h1v1h-1zM424 435h1v1h-1zM434 430h1v1h-1zM427 427h1v1h-1zM415 423h1v1h-1zM441 397h1v1h-1zM436 414h1v1h-1zM446 415h1v1h-1zM424 409h1v1h-1zM476 400h1v1h-1zM420 415h1v1h-1zM423 422h1v1h-1zM407 433h1v1h-1zM424 424h1v1h-1zM391 424h1v1h-1zM422 417h1v1h-1zM417 424h1v1h-1zM432 409h1v1h-1zM396 433h1v1h-1zM424 428h1v1h-1zM442 414h1v1h-1zM402 422h1v1h-1zM418 431h1v1h-1zM400 433h1v1h-1zM400 421h1v1h-1zM402 420h1v1h-1zM421 423h1v1h-1zM419 426h1v1h-1zM457 412h1v1h-1zM407 422h1v1h-1zM425 416h1v1h-1zM449 422h1v1h-1zM462 413h1v1h-1zM382 430h1v1h-1zM437 409h1v1h-1zM419 428h1v1h-1zM428 409h1v1h-1zM411 398h1v1h-1zM425 409h1v1h-1zM424 410h1v1h-1zM411 419h1v1h-1zM472 397h1v1h-1zM406 420h1v1h-1zM447 420h1v1h-1zM439 413h1v1h-1zM428 412h1v1h-1zM423 413h1v1h-1zM401 418h1v1h-1zM461 413h1v1h-1zM414 421h1v1h-1zM422 430h1v1h-1zM426 414h1v1h-1zM440 418h1v1h-1zM414 416h1v1h-1zM426 405h1v1h-1zM414 430h1v1h-1zM444 423h1v1h-1zM419 416h1v1h-1zM422 416h1v1h-1zM449 411h1v1h-1zM449 407h1v1h-1zM437 429h1v1h-1zM413 417h1v1h-1zM414 409h1v1h-1zM421 415h1v1h-1zM464 405h1v1h-1zM393 435h1v1h-1zM443 414h1v1h-1zM434 423h1v1h-1zM418 421h1v1h-1zM433 430h1v1h-1zM452 413h1v1h-1zM406 431h1v1h-1zM429 428h1v1h-1zM429 420h1v1h-1zM437 410h1v1h-1zM421 439h1v1h-1zM415 430h1v1h-1zM441 422h1v1h-1zM448 402h1v1h-1zM439 399h1v1h-1zM429 421h1v1h-1zM447 422h1v1h-1zM411 421h1v1h-1zM423 414h1v1h-1zM412 417h1v1h-1zM449 424h1v1h-1zM443 428h1v1h-1zM427 410h1v1h-1zM417 423h1v1h-1zM447 423h1v1h-1zM414 430h1v1h-1zM419 425h1v1h-1zM446 426h1v1h-1zM419 423h1v1h-1zM434 413h1v1h-1zM430 423h1v1h-1zM398 421h1v1h-1zM467 412h1v1h-1zM414 407h1v1h-1zM412 427h1v1h-1zM440 419h1v1h-1zM436 411h1v1h-1zM452 403h1v1h-1zM435 414h1v1h-1zM400 433h1v1h-1zM424 425h1v1h-1zM449 414h1v1h-1zM416 420h1v1h-1zM429 430h1v1h-1zM445 427h1v1h-1zM439 409h1v1h-1zM445 422h1v1h-1zM426 423h1v1h-1zM419 410h1v1h-1zM427 425h1v1h-1zM417 403h1v1h-1zM416 430h1v1h-1zM433 426h1v1h-1zM414 419h1v1h-1zM409 417h1v1h-1zM436 417h1v1h-1zM420 423h1v1h-1zM404 422h1v1h-1zM399 414h1v1h-1zM402 416h1v1h-1zM457 422h1v1h-1zM447 408h1v1h-1zM435 407h1v1h-1zM419 423h1v1h-1zM401 427h1v1h-1zM433 400h1v1h-1zM385 428h1v1h-1zM425 420h1v1h-1zM409 428h1v1h-1zM428 412h1v1h-1zM456 413h1v1h-1zM444 429h1v1h-1zM418 419h1v1h-1zM397 425h1v1h-1zM440 436h1v1h-1zM437 418h1v1h-1zM404 418h1v1h-1zM393 416h1v1h-1zM430 420h1v1h-1zM411 421h1v1h-1zM415 427h1v1h-1zM437 411h1v1h-1zM417 411h1v1h-1zM424 437h1v1h-1zM429 425h1v1h-1zM440 427h1v1h-1zM420 413h1v1h-1zM447 421h1v1h-1zM418 430h1v1h-1zM427 418h1v1h-1zM459 414h1v1h-1zM432 415h1v1h-1zM433 426h1v1h-1zM433 411h1v1h-1zM435 416h1v1h-1zM432 416h1v1h-1zM387 416h1v1h-1zM416 403h1v1h-1zM406 441h1v1h-1zM438 412h1v1h-1zM428 400h1v1h-1zM433 425h1v1h-1zM428 408h1v1h-1zM443 410h1v1h-1zM418 423h1v1h-1zM426 436h1v1h-1zM429 436h1v1h-1zM432 407h1v1h-1zM427 419h1v1h-1zM454 422h1v1h-1zM469 402h1v1h-1zM425 438h1v1h-1zM413 425h1v1h-1zM452 403h1v1h-1zM420 414h1v1h-1zM437 419h1v1h-1zM428 424h1v1h-1zM413 419h1v1h-1zM439 432h1v1h-1zM427 419h1v1h-1zM450 413h1v1h-1zM450 414h1v1h-1zM447 415h1v1h-1zM410 416h1v1h-1zM438 431h1v1h-1zM458 408h1v1h-1zM467 399h1v1h-1zM415 430h1v1h-1zM403 433h1v1h-1zM435 422h1v1h-1zM408 427h1v1h-1zM443 414h1v1h-1zM445 414h1v1h-1zM432 415h1v1h-1zM404 424h1v1h-1zM434 410h1v1h-1zM391 416h1v1h-1zM449 411h1v1h-1zM417 432h1v1h-1zM421 408h1v1h-1zM418 414h1v1h-1zM422 412h1v1h-1zM429 422h1v1h-1zM417 420h1v1h-1zM426 426h1v1h-1zM417 428h1v1h-1zM448 411h1v1h-1zM410 421h1v1h-1zM396 422h1v1h-1zM407 423h1v1h-1zM422 424h1v1h-1zM430 421h1v1h-1zM427 421h1v1h-1zM409 429h1v1h-1zM452 421h1v1h-1zM405 428h1v1h-1zM401 432h1v1h-1zM423 416h1v1h-1zM414 420h1v1h-1zM425 411h1v1h-1zM429 420h1v1h-1zM436 416h1v1h-1zM432 436h1v1h-1zM445 416h1v1h-1zM405 430h1v1h-1zM432 395h1v1h-1zM425 422h1v1h-1zM428 419h1v1h-1zM427 430h1v1h-1zM433 415h1v1h-1zM428 436h1v1h-1zM411 418h1v1h-1zM433 418h1v1h-1zM435 428h1v1h-1zM448 417h1v1h-1zM428 418h1v1h-1zM425 427h1v1h-1zM403 416h1v1h-1zM417 413h1v1h-1zM417 431h1v1h-1zM390 433h1v1h-1zM404 423h1v1h-1zM415 414h1v1h-1zM402 426h1v1h-1zM372 416h1v1h-1zM423 429h1v1h-1zM458 408h1v1h-1zM413 420h1v1h-1zM437 424h1v1h-1zM412 427h1v1h-1zM429 428h1v1h-1zM420 419h1v1h-1zM410 412h1v1h-1zM433 423h1v1h-1zM447 415h1v1h-1zM417 414h1v1h-1zM406 418h1v1h-1zM433 418h1v1h-1zM388 428h1v1h-1zM420 412h1v1h-1zM428 423h1v1h-1zM407 413h1v1h-1zM422 422h1v1h-1zM426 432h1v1h-1zM428 410h1v1h-1zM439 410h1v1h-1zM439 416h1v1h-1zM446 405h1v1h-1zM441 419h1v1h-1zM413 428h1v1h-1zM467 411h1v1h-1zM414 421h1v1h-1zM450 415h1v1h-1zM451 407h1v1h-1zM447 400h1v1h-1zM424 417h1v1h-1zM421 430h1v1h-1zM418 424h1v1h-1zM461 416h1v1h-1zM419 415h1v1h-1zM394 431h1v1h-1zM445 423h1v1h-1zM436 434h1v1h-1zM436 397h1v1h-1zM414 429h1v1h-1zM422 427h1v1h-1zM470 401h1v1h-1zM465 408h1v1h-1zM402 426h1v1h-1zM442 410h1v1h-1zM453 404h1v1h-1zM426 427h1v1h-1zM423 415h1v1h-1zM428 424h1v1h-1zM460 421h1v1h-1zM460 410h1v1h-1zM399 426h1v1h-1zM418 413h1v1h-1zM418 420h1v1h-1zM430 425h1v1h-1zM414 432h1v1h-1zM430 424h1v1h-1zM446 403h1v1h-1zM454 406h1v1h-1zM437 425h1v1h-1zM440 402h1v1h-1zM433 427h1v1h-1zM425 418h1v1h-1zM432 431h1v1h-1zM416 414h1v1h-1zM407 420h1v1h-1zM424 422h1v1h-1zM422 406h1v1h-1zM402 431h1v1h-1zM437 405h1v1h-1zM439 395h1v1h-1zM469 412h1v1h-1zM400 430h1v1h-1zM426 415h1v1h-1zM421 418h1v1h-1zM424 412h1v1h-1zM419 425h1v1h-1z" fill="#9a9a9a" opacity="0.4"/>
<path d="M413 412h1v1h-1zM403 437h1v1h-1zM423 430h1v1h-1zM382 425h1v1h-1zM366 424h1v1h-1zM399 419h1v1h-1zM387 426h1v1h-1zM406 430h1v1h-1zM413 408h1v1h-1zM432 412h1v1h-1zM390 429h1v1h-1zM397 417h1v1h-1zM432 410h1v1h-1zM399 431h1v1h-1zM437 416h1v1h-1zM393 432h1v1h-1zM427 419h1v1h-1zM417 416h1v1h-1zM402 413h1v1h-1zM393 420h1v1h-1zM411 433h1v1h-1zM366 429h1v1h-1zM392 429h1v1h-1zM425 411h1v1h-1zM397 436h1v1h-1zM415 425h1v1h-1zM420 413h1v1h-1zM410 418h1v1h-1zM396 429h1v1h-1zM412 412h1v1h-1zM396 432h1v1h-1zM412 427h1v1h-1zM400 420h1v1h-1zM422 423h1v1h-1zM361 447h1v1h-1zM396 433h1v1h-1zM433 412h1v1h-1zM392 431h1v1h-1zM410 427h1v1h-1zM384 434h1v1h-1zM424 423h1v1h-1zM421 428h1v1h-1zM396 437h1v1h-1zM409 416h1v1h-1zM403 427h1v1h-1zM416 430h1v1h-1zM410 419h1v1h-1zM444 408h1v1h-1zM396 435h1v1h-1zM399 421h1v1h-1zM392 438h1v1h-1zM390 431h1v1h-1zM399 425h1v1h-1zM394 430h1v1h-1zM420 427h1v1h-1zM399 418h1v1h-1zM382 433h1v1h-1zM369 448h1v1h-1zM408 424h1v1h-1zM382 428h1v1h-1zM397 433h1v1h-1zM402 430h1v1h-1zM412 408h1v1h-1zM407 433h1v1h-1zM399 428h1v1h-1zM402 416h1v1h-1zM444 409h1v1h-1zM417 417h1v1h-1zM434 422h1v1h-1zM430 423h1v1h-1zM423 428h1v1h-1zM415 422h1v1h-1zM419 413h1v1h-1zM366 445h1v1h-1zM408 418h1v1h-1zM401 419h1v1h-1zM394 430h1v1h-1zM412 428h1v1h-1zM407 428h1v1h-1zM417 415h1v1h-1zM377 429h1v1h-1zM402 422h1v1h-1zM443 405h1v1h-1zM414 416h1v1h-1zM416 411h1v1h-1zM424 419h1v1h-1zM398 418h1v1h-1zM434 409h1v1h-1zM426 399h1v1h-1zM391 443h1v1h-1zM438 413h1v1h-1zM426 421h1v1h-1zM402 427h1v1h-1zM385 422h1v1h-1zM411 428h1v1h-1zM407 415h1v1h-1zM422 419h1v1h-1zM420 417h1v1h-1zM406 432h1v1h-1zM428 407h1v1h-1zM391 437h1v1h-1zM414 422h1v1h-1zM393 436h1v1h-1zM411 424h1v1h-1zM413 418h1v1h-1zM415 422h1v1h-1zM421 422h1v1h-1zM384 427h1v1h-1zM406 433h1v1h-1zM399 435h1v1h-1zM428 423h1v1h-1zM446 410h1v1h-1zM416 430h1v1h-1zM417 428h1v1h-1zM409 434h1v1h-1zM409 409h1v1h-1zM425 416h1v1h-1zM392 427h1v1h-1zM405 433h1v1h-1zM413 421h1v1h-1zM405 418h1v1h-1zM396 424h1v1h-1zM401 417h1v1h-1zM403 433h1v1h-1zM415 421h1v1h-1zM413 420h1v1h-1zM390 437h1v1h-1zM447 413h1v1h-1zM425 435h1v1h-1zM388 435h1v1h-1zM401 424h1v1h-1zM379 433h1v1h-1zM410 411h1v1h-1zM403 422h1v1h-1zM392 434h1v1h-1zM436 416h1v1h-1zM427 422h1v1h-1zM408 428h1v1h-1zM429 413h1v1h-1zM402 415h1v1h-1zM374 430h1v1h-1zM424 420h1v1h-1zM415 431h1v1h-1zM381 444h1v1h-1zM411 428h1v1h-1zM429 410h1v1h-1zM394 432h1v1h-1zM405 420h1v1h-1zM404 420h1v1h-1zM409 420h1v1h-1zM434 406h1v1h-1zM418 421h1v1h-1zM432 407h1v1h-1zM404 438h1v1h-1zM395 425h1v1h-1zM399 420h1v1h-1zM432 426h1v1h-1zM403 420h1v1h-1zM386 436h1v1h-1zM400 430h1v1h-1zM366 436h1v1h-1zM419 422h1v1h-1zM360 443h1v1h-1zM410 423h1v1h-1zM401 423h1v1h-1zM411 426h1v1h-1zM423 416h1v1h-1zM426 410h1v1h-1zM442 418h1v1h-1zM407 444h1v1h-1zM436 425h1v1h-1zM387 430h1v1h-1zM418 428h1v1h-1zM406 415h1v1h-1zM428 415h1v1h-1zM414 419h1v1h-1zM402 415h1v1h-1zM417 415h1v1h-1zM378 437h1v1h-1zM409 430h1v1h-1zM419 411h1v1h-1zM405 425h1v1h-1zM407 416h1v1h-1zM411 430h1v1h-1zM432 425h1v1h-1zM414 402h1v1h-1zM402 422h1v1h-1zM362 452h1v1h-1zM423 418h1v1h-1zM415 425h1v1h-1zM407 434h1v1h-1zM440 418h1v1h-1zM399 429h1v1h-1zM426 422h1v1h-1zM398 434h1v1h-1zM421 423h1v1h-1zM400 426h1v1h-1zM375 435h1v1h-1zM399 424h1v1h-1zM402 423h1v1h-1zM409 424h1v1h-1zM397 426h1v1h-1zM407 427h1v1h-1zM414 419h1v1h-1zM390 418h1v1h-1zM387 434h1v1h-1zM396 440h1v1h-1zM404 422h1v1h-1zM404 421h1v1h-1zM397 428h1v1h-1zM383 433h1v1h-1zM404 418h1v1h-1zM426 420h1v1h-1zM424 413h1v1h-1zM384 424h1v1h-1zM376 421h1v1h-1zM433 411h1v1h-1zM410 419h1v1h-1zM409 435h1v1h-1zM376 428h1v1h-1zM408 417h1v1h-1zM422 428h1v1h-1zM424 423h1v1h-1zM407 431h1v1h-1zM391 421h1v1h-1zM403 424h1v1h-1zM426 410h1v1h-1zM425 411h1v1h-1zM382 420h1v1h-1zM404 414h1v1h-1zM411 423h1v1h-1zM396 413h1v1h-1zM400 430h1v1h-1zM379 439h1v1h-1zM407 420h1v1h-1zM413 427h1v1h-1zM405 419h1v1h-1zM419 414h1v1h-1zM416 428h1v1h-1zM433 426h1v1h-1zM425 418h1v1h-1zM405 426h1v1h-1zM424 440h1v1h-1zM417 414h1v1h-1zM430 404h1v1h-1zM422 409h1v1h-1zM388 427h1v1h-1zM400 417h1v1h-1zM418 419h1v1h-1zM428 409h1v1h-1zM378 439h1v1h-1zM406 431h1v1h-1zM365 430h1v1h-1zM414 436h1v1h-1zM382 419h1v1h-1zM403 436h1v1h-1zM431 405h1v1h-1zM393 415h1v1h-1zM391 422h1v1h-1zM417 428h1v1h-1zM447 406h1v1h-1zM422 420h1v1h-1zM414 435h1v1h-1zM423 429h1v1h-1zM415 427h1v1h-1zM416 420h1v1h-1zM395 425h1v1h-1zM407 421h1v1h-1zM400 421h1v1h-1zM422 417h1v1h-1zM405 423h1v1h-1zM428 412h1v1h-1zM429 409h1v1h-1zM435 418h1v1h-1zM400 430h1v1h-1zM425 410h1v1h-1zM404 427h1v1h-1zM403 423h1v1h-1zM409 425h1v1h-1zM424 428h1v1h-1zM409 445h1v1h-1zM406 437h1v1h-1zM402 415h1v1h-1zM399 424h1v1h-1zM421 404h1v1h-1zM397 427h1v1h-1zM420 422h1v1h-1zM422 417h1v1h-1zM406 433h1v1h-1zM438 415h1v1h-1zM408 417h1v1h-1zM444 413h1v1h-1zM414 409h1v1h-1zM424 436h1v1h-1zM404 423h1v1h-1zM433 413h1v1h-1zM426 431h1v1h-1zM386 425h1v1h-1zM419 420h1v1h-1zM408 422h1v1h-1zM411 425h1v1h-1zM399 425h1v1h-1zM409 415h1v1h-1zM410 407h1v1h-1zM418 419h1v1h-1zM391 440h1v1h-1zM393 444h1v1h-1zM398 436h1v1h-1zM410 434h1v1h-1zM406 432h1v1h-1zM398 413h1v1h-1zM415 424h1v1h-1zM418 432h1v1h-1zM392 419h1v1h-1zM410 417h1v1h-1zM406 424h1v1h-1zM396 436h1v1h-1zM410 436h1v1h-1zM414 429h1v1h-1zM401 421h1v1h-1zM397 421h1v1h-1zM415 422h1v1h-1zM386 420h1v1h-1zM389 417h1v1h-1zM389 419h1v1h-1zM417 412h1v1h-1zM397 426h1v1h-1zM409 426h1v1h-1zM422 423h1v1h-1zM405 434h1v1h-1zM412 417h1v1h-1zM430 407h1v1h-1zM419 429h1v1h-1zM410 425h1v1h-1zM411 427h1v1h-1zM411 422h1v1h-1zM415 407h1v1h-1zM411 420h1v1h-1zM441 413h1v1h-1zM398 432h1v1h-1zM398 418h1v1h-1zM404 428h1v1h-1zM430 423h1v1h-1zM411 421h1v1h-1zM414 430h1v1h-1zM408 432h1v1h-1zM394 428h1v1h-1zM422 423h1v1h-1zM410 419h1v1h-1zM376 432h1v1h-1zM392 426h1v1h-1zM432 409h1v1h-1zM422 418h1v1h-1zM389 431h1v1h-1zM417 411h1v1h-1zM387 428h1v1h-1zM418 415h1v1h-1zM416 424h1v1h-1zM409 426h1v1h-1zM428 415h1v1h-1zM410 415h1v1h-1zM395 427h1v1h-1zM420 414h1v1h-1zM387 438h1v1h-1zM441 392h1v1h-1zM390 431h1v1h-1zM413 414h1v1h-1zM416 429h1v1h-1zM405 430h1v1h-1zM408 417h1v1h-1zM396 423h1v1h-1zM432 423h1v1h-1zM408 412h1v1h-1zM398 424h1v1h-1zM375 435h1v1h-1zM409 413h1v1h-1zM399 423h1v1h-1zM440 417h1v1h-1zM421 419h1v1h-1zM388 437h1v1h-1zM392 415h1v1h-1zM419 417h1v1h-1zM409 427h1v1h-1zM405 428h1v1h-1zM428 414h1v1h-1zM402 426h1v1h-1zM417 417h1v1h-1zM407 419h1v1h-1zM408 427h1v1h-1zM394 427h1v1h-1zM382 428h1v1h-1zM410 426h1v1h-1zM390 429h1v1h-1zM393 431h1v1h-1zM413 425h1v1h-1zM401 416h1v1h-1zM395 418h1v1h-1zM396 427h1v1h-1zM424 413h1v1h-1zM395 429h1v1h-1zM378 449h1v1h-1zM385 439h1v1h-1zM426 424h1v1h-1zM408 429h1v1h-1zM404 432h1v1h-1zM395 422h1v1h-1zM413 418h1v1h-1zM417 414h1v1h-1zM410 416h1v1h-1zM411 438h1v1h-1zM387 422h1v1h-1zM381 432h1v1h-1zM433 411h1v1h-1zM422 417h1v1h-1zM402 440h1v1h-1zM421 405h1v1h-1zM392 432h1v1h-1zM418 418h1v1h-1zM414 425h1v1h-1zM404 432h1v1h-1zM395 433h1v1h-1zM423 419h1v1h-1zM402 425h1v1h-1zM372 438h1v1h-1zM379 419h1v1h-1zM418 413h1v1h-1zM413 422h1v1h-1zM377 428h1v1h-1zM404 428h1v1h-1zM406 415h1v1h-1zM399 427h1v1h-1zM386 428h1v1h-1zM394 413h1v1h-1zM438 419h1v1h-1zM402 432h1v1h-1zM394 440h1v1h-1zM402 427h1v1h-1zM398 428h1v1h-1zM413 422h1v1h-1zM396 433h1v1h-1zM417 420h1v1h-1zM423 412h1v1h-1zM428 415h1v1h-1zM431 412h1v1h-1zM404 426h1v1h-1zM429 426h1v1h-1zM398 422h1v1h-1zM423 427h1v1h-1zM418 417h1v1h-1zM428 416h1v1h-1zM412 427h1v1h-1zM393 412h1v1h-1zM413 427h1v1h-1zM416 424h1v1h-1zM413 429h1v1h-1zM413 432h1v1h-1zM410 428h1v1h-1zM399 429h1v1h-1zM415 422h1v1h-1zM433 415h1v1h-1zM427 419h1v1h-1zM423 411h1v1h-1zM404 432h1v1h-1zM395 431h1v1h-1zM417 421h1v1h-1zM416 424h1v1h-1zM405 428h1v1h-1zM398 424h1v1h-1zM381 432h1v1h-1zM380 434h1v1h-1zM408 415h1v1h-1zM409 425h1v1h-1zM400 420h1v1h-1zM407 427h1v1h-1zM427 431h1v1h-1zM376 437h1v1h-1zM413 417h1v1h-1zM418 435h1v1h-1zM413 432h1v1h-1zM424 414h1v1h-1zM372 445h1v1h-1zM429 403h1v1h-1zM403 420h1v1h-1zM411 423h1v1h-1zM425 413h1v1h-1zM435 401h1v1h-1zM417 440h1v1h-1zM407 428h1v1h-1zM408 448h1v1h-1zM421 416h1v1h-1zM377 436h1v1h-1zM415 406h1v1h-1zM401 430h1v1h-1zM368 437h1v1h-1zM378 424h1v1h-1zM417 428h1v1h-1zM425 412h1v1h-1zM412 409h1v1h-1zM385 436h1v1h-1zM399 419h1v1h-1zM376 433h1v1h-1zM439 397h1v1h-1zM393 437h1v1h-1zM375 431h1v1h-1zM411 430h1v1h-1zM411 436h1v1h-1zM407 423h1v1h-1zM416 423h1v1h-1zM381 426h1v1h-1zM404 427h1v1h-1zM386 426h1v1h-1zM396 430h1v1h-1zM402 430h1v1h-1zM412 415h1v1h-1zM400 417h1v1h-1zM411 428h1v1h-1zM387 418h1v1h-1zM415 419h1v1h-1zM408 427h1v1h-1zM416 427h1v1h-1zM395 412h1v1h-1zM399 424h1v1h-1zM402 429h1v1h-1zM406 433h1v1h-1zM397 427h1v1h-1zM407 439h1v1h-1zM389 423h1v1h-1zM403 431h1v1h-1zM407 422h1v1h-1zM379 419h1v1h-1zM403 423h1v1h-1zM437 415h1v1h-1zM417 427h1v1h-1zM390 421h1v1h-1zM405 435h1v1h-1zM422 414h1v1h-1zM389 437h1v1h-1zM423 410h1v1h-1zM432 409h1v1h-1zM419 418h1v1h-1zM401 421h1v1h-1zM420 423h1v1h-1zM420 417h1v1h-1zM399 443h1v1h-1zM435 412h1v1h-1zM392 440h1v1h-1zM410 423h1v1h-1zM422 421h1v1h-1zM414 436h1v1h-1zM378 439h1v1h-1zM391 430h1v1h-1zM405 426h1v1h-1zM369 443h1v1h-1zM445 407h1v1h-1zM424 422h1v1h-1zM411 418h1v1h-1zM419 421h1v1h-1zM433 420h1v1h-1zM389 409h1v1h-1zM434 418h1v1h-1zM409 418h1v1h-1zM452 417h1v1h-1zM408 421h1v1h-1zM420 429h1v1h-1zM418 427h1v1h-1zM413 424h1v1h-1zM387 432h1v1h-1zM408 423h1v1h-1zM404 427h1v1h-1zM397 426h1v1h-1zM391 447h1v1h-1zM390 421h1v1h-1zM398 424h1v1h-1zM384 414h1v1h-1zM437 420h1v1h-1zM403 429h1v1h-1zM385 420h1v1h-1zM414 425h1v1h-1zM396 428h1v1h-1zM356 441h1v1h-1zM426 418h1v1h-1zM412 426h1v1h-1zM370 428h1v1h-1zM387 433h1v1h-1zM393 415h1v1h-1zM422 417h1v1h-1zM429 431h1v1h-1zM377 425h1v1h-1zM429 426h1v1h-1zM415 423h1v1h-1zM421 424h1v1h-1zM388 436h1v1h-1zM423 415h1v1h-1zM391 426h1v1h-1zM399 431h1v1h-1zM421 419h1v1h-1zM398 414h1v1h-1zM398 420h1v1h-1zM399 429h1v1h-1zM419 445h1v1h-1zM392 425h1v1h-1zM388 429h1v1h-1zM405 432h1v1h-1zM377 441h1v1h-1zM417 416h1v1h-1zM396 429h1v1h-1zM416 419h1v1h-1zM405 425h1v1h-1zM390 432h1v1h-1zM417 420h1v1h-1zM388 430h1v1h-1zM406 426h1v1h-1zM402 431h1v1h-1zM428 422h1v1h-1zM414 430h1v1h-1zM406 423h1v1h-1zM383 432h1v1h-1zM426 410h1v1h-1zM418 410h1v1h-1zM417 434h1v1h-1zM405 416h1v1h-1zM412 421h1v1h-1zM420 415h1v1h-1zM377 431h1v1h-1zM420 427h1v1h-1zM412 422h1v1h-1zM418 418h1v1h-1zM400 428h1v1h-1zM425 414h1v1h-1zM414 416h1v1h-1zM396 429h1v1h-1zM383 426h1v1h-1zM386 427h1v1h-1zM398 444h1v1h-1zM418 420h1v1h-1zM379 416h1v1h-1zM413 417h1v1h-1zM424 415h1v1h-1zM384 427h1v1h-1zM378 424h1v1h-1zM418 416h1v1h-1zM418 416h1v1h-1zM402 421h1v1h-1zM397 423h1v1h-1zM432 414h1v1h-1zM379 446h1v1h-1zM431 423h1v1h-1zM405 423h1v1h-1zM400 427h1v1h-1zM415 421h1v1h-1zM391 422h1v1h-1zM439 424h1v1h-1zM385 427h1v1h-1zM408 428h1v1h-1zM406 426h1v1h-1zM416 429h1v1h-1zM388 439h1v1h-1zM416 424h1v1h-1zM381 431h1v1h-1zM404 429h1v1h-1zM420 424h1v1h-1zM389 440h1v1h-1zM411 429h1v1h-1zM406 419h1v1h-1zM453 412h1v1h-1zM419 416h1v1h-1zM406 432h1v1h-1zM419 432h1v1h-1zM425 409h1v1h-1zM384 440h1v1h-1zM417 418h1v1h-1zM401 422h1v1h-1zM437 412h1v1h-1zM386 438h1v1h-1zM407 426h1v1h-1zM401 426h1v1h-1zM377 439h1v1h-1zM395 425h1v1h-1zM416 430h1v1h-1zM371 436h1v1h-1zM419 427h1v1h-1zM393 431h1v1h-1zM416 427h1v1h-1zM396 426h1v1h-1zM401 434h1v1h-1zM425 414h1v1h-1zM405 426h1v1h-1zM392 428h1v1h-1zM424 423h1v1h-1zM394 424h1v1h-1zM402 415h1v1h-1zM413 422h1v1h-1zM384 430h1v1h-1zM395 426h1v1h-1zM396 438h1v1h-1zM393 434h1v1h-1zM414 432h1v1h-1zM406 424h1v1h-1zM404 411h1v1h-1zM447 408h1v1h-1zM399 418h1v1h-1zM409 435h1v1h-1zM395 431h1v1h-1zM427 423h1v1h-1zM396 415h1v1h-1zM415 425h1v1h-1zM401 423h1v1h-1zM433 403h1v1h-1zM397 423h1v1h-1zM379 429h1v1h-1zM397 436h1v1h-1zM375 426h1v1h-1zM408 412h1v1h-1zM372 432h1v1h-1zM385 425h1v1h-1zM406 428h1v1h-1zM396 426h1v1h-1zM419 418h1v1h-1zM418 415h1v1h-1zM418 429h1v1h-1zM391 451h1v1h-1zM401 424h1v1h-1zM406 428h1v1h-1zM387 431h1v1h-1zM401 436h1v1h-1zM380 438h1v1h-1zM400 421h1v1h-1zM409 421h1v1h-1zM408 425h1v1h-1zM427 414h1v1h-1zM429 397h1v1h-1zM441 420h1v1h-1zM434 415h1v1h-1zM410 416h1v1h-1zM427 408h1v1h-1zM394 429h1v1h-1zM412 424h1v1h-1zM387 429h1v1h-1zM418 428h1v1h-1zM421 422h1v1h-1zM402 422h1v1h-1zM398 426h1v1h-1zM415 417h1v1h-1zM440 405h1v1h-1zM421 417h1v1h-1zM404 422h1v1h-1zM432 412h1v1h-1zM417 421h1v1h-1zM421 423h1v1h-1zM433 409h1v1h-1zM397 439h1v1h-1zM429 416h1v1h-1zM403 427h1v1h-1zM427 411h1v1h-1zM432 414h1v1h-1zM400 423h1v1h-1zM373 439h1v1h-1zM384 428h1v1h-1zM393 431h1v1h-1zM419 420h1v1h-1zM411 425h1v1h-1zM436 417h1v1h-1zM434 414h1v1h-1zM412 418h1v1h-1zM415 415h1v1h-1zM414 417h1v1h-1zM404 433h1v1h-1zM411 428h1v1h-1zM399 414h1v1h-1zM432 414h1v1h-1zM398 434h1v1h-1zM386 426h1v1h-1zM425 412h1v1h-1zM426 415h1v1h-1zM404 425h1v1h-1zM401 433h1v1h-1zM426 417h1v1h-1zM419 423h1v1h-1zM432 404h1v1h-1zM427 423h1v1h-1zM402 426h1v1h-1zM404 434h1v1h-1zM389 434h1v1h-1zM430 419h1v1h-1zM398 424h1v1h-1zM369 430h1v1h-1zM424 411h1v1h-1zM379 432h1v1h-1zM383 436h1v1h-1zM395 435h1v1h-1zM402 416h1v1h-1zM393 424h1v1h-1zM396 437h1v1h-1zM391 432h1v1h-1zM399 431h1v1h-1zM380 423h1v1h-1zM419 429h1v1h-1zM383 430h1v1h-1zM397 421h1v1h-1zM424 418h1v1h-1zM383 431h1v1h-1zM428 411h1v1h-1zM397 422h1v1h-1zM409 419h1v1h-1zM420 413h1v1h-1zM384 435h1v1h-1zM413 424h1v1h-1zM397 425h1v1h-1zM424 444h1v1h-1zM393 428h1v1h-1zM401 430h1v1h-1zM409 427h1v1h-1zM434 412h1v1h-1zM403 428h1v1h-1zM442 409h1v1h-1zM438 421h1v1h-1zM359 434h1v1h-1zM392 432h1v1h-1zM430 416h1v1h-1zM415 436h1v1h-1zM418 435h1v1h-1zM396 439h1v1h-1zM393 412h1v1h-1zM392 426h1v1h-1zM408 429h1v1h-1zM420 423h1v1h-1zM399 439h1v1h-1zM428 417h1v1h-1zM398 427h1v1h-1zM402 421h1v1h-1zM406 420h1v1h-1zM417 416h1v1h-1zM416 423h1v1h-1zM411 426h1v1h-1zM396 446h1v1h-1zM397 433h1v1h-1zM407 421h1v1h-1zM439 420h1v1h-1zM404 429h1v1h-1zM422 429h1v1h-1zM424 416h1v1h-1zM400 418h1v1h-1zM414 427h1v1h-1zM402 430h1v1h-1zM408 420h1v1h-1zM389 438h1v1h-1zM451 411h1v1h-1zM387 424h1v1h-1zM413 426h1v1h-1zM428 399h1v1h-1zM439 413h1v1h-1zM411 425h1v1h-1zM401 424h1v1h-1zM421 406h1v1h-1zM407 428h1v1h-1zM379 433h1v1h-1zM434 417h1v1h-1zM421 424h1v1h-1zM412 425h1v1h-1zM393 427h1v1h-1zM436 405h1v1h-1zM402 417h1v1h-1zM397 422h1v1h-1zM387 433h1v1h-1zM393 433h1v1h-1zM432 397h1v1h-1zM400 412h1v1h-1zM406 427h1v1h-1zM414 430h1v1h-1zM406 412h1v1h-1zM431 408h1v1h-1zM407 426h1v1h-1zM393 430h1v1h-1zM429 404h1v1h-1zM378 431h1v1h-1zM402 417h1v1h-1zM371 444h1v1h-1zM411 413h1v1h-1zM417 420h1v1h-1zM407 414h1v1h-1zM405 428h1v1h-1zM375 428h1v1h-1zM428 430h1v1h-1zM418 419h1v1h-1zM388 428h1v1h-1zM404 428h1v1h-1zM409 441h1v1h-1zM425 402h1v1h-1zM388 431h1v1h-1zM425 420h1v1h-1zM357 430h1v1h-1zM432 419h1v1h-1zM453 413h1v1h-1zM419 430h1v1h-1zM399 423h1v1h-1zM391 431h1v1h-1zM417 427h1v1h-1zM433 419h1v1h-1zM428 414h1v1h-1zM393 434h1v1h-1zM428 426h1v1h-1zM404 422h1v1h-1zM402 428h1v1h-1zM406 423h1v1h-1zM411 420h1v1h-1zM412 418h1v1h-1zM381 431h1v1h-1zM438 407h1v1h-1zM426 426h1v1h-1zM399 429h1v1h-1zM370 441h1v1h-1zM434 415h1v1h-1zM372 432h1v1h-1zM395 429h1v1h-1zM411 419h1v1h-1zM400 420h1v1h-1zM418 421h1v1h-1zM412 418h1v1h-1zM415 419h1v1h-1zM412 421h1v1h-1zM394 421h1v1h-1zM373 426h1v1h-1zM423 441h1v1h-1zM378 429h1v1h-1zM416 446h1v1h-1zM401 417h1v1h-1zM419 434h1v1h-1zM357 433h1v1h-1zM426 409h1v1h-1zM404 420h1v1h-1zM417 410h1v1h-1zM413 423h1v1h-1zM418 423h1v1h-1zM406 411h1v1h-1zM400 420h1v1h-1zM416 419h1v1h-1zM413 430h1v1h-1zM410 435h1v1h-1zM418 409h1v1h-1zM400 435h1v1h-1zM402 434h1v1h-1zM398 426h1v1h-1zM421 407h1v1h-1zM408 420h1v1h-1zM414 433h1v1h-1zM413 412h1v1h-1zM423 415h1v1h-1zM413 430h1v1h-1zM404 432h1v1h-1zM408 417h1v1h-1zM399 417h1v1h-1zM428 417h1v1h-1zM421 410h1v1h-1zM419 411h1v1h-1zM412 422h1v1h-1zM398 429h1v1h-1zM406 418h1v1h-1zM392 420h1v1h-1zM431 416h1v1h-1zM403 430h1v1h-1zM390 421h1v1h-1zM417 431h1v1h-1zM413 423h1v1h-1zM433 403h1v1h-1zM457 398h1v1h-1zM403 415h1v1h-1zM386 429h1v1h-1zM447 402h1v1h-1zM398 429h1v1h-1zM390 428h1v1h-1zM416 405h1v1h-1zM402 423h1v1h-1zM399 426h1v1h-1zM376 432h1v1h-1zM396 420h1v1h-1zM434 428h1v1h-1zM419 413h1v1h-1zM433 418h1v1h-1zM395 432h1v1h-1zM399 431h1v1h-1zM426 425h1v1h-1zM389 429h1v1h-1zM405 416h1v1h-1zM416 425h1v1h-1zM383 429h1v1h-1zM386 422h1v1h-1zM393 439h1v1h-1zM395 425h1v1h-1zM427 424h1v1h-1zM426 402h1v1h-1zM416 408h1v1h-1zM396 425h1v1h-1zM402 440h1v1h-1zM407 432h1v1h-1zM404 424h1v1h-1zM417 423h1v1h-1zM412 409h1v1h-1zM417 422h1v1h-1z" fill="#2aae2a" opacity="0.5"/>
<path d="M373 444h1v1h-1zM370 436h1v1h-1zM377 435h1v1h-1zM383 450h1v1h-1zM367 444h1v1h-1zM375 442h1v1h-1zM356 449h1v1h-1zM355 445h1v1h-1zM386 448h1v1h-1zM363 446h1v1h-1zM361 447h1v1h-1zM367 441h1v1h-1zM363 443h1v1h-1zM361 443h1v1h-1zM381 448h1v1h-1zM372 447h1v1h-1zM383 448h1v1h-1zM370 447h1v1h-1zM370 445h1v1h-1zM362 431h1v1h-1zM373 445h1v1h-1zM377 446h1v1h-1zM365 450h1v1h-1zM369 442h1v1h-1zM363 443h1v1h-1zM364 443h1v1h-1zM368 453h1v1h-1zM363 445h1v1h-1zM359 438h1v1h-1zM359 444h1v1h-1zM369 443h1v1h-1zM355 445h1v1h-1zM381 437h1v1h-1zM369 452h1v1h-1zM359 443h1v1h-1zM397 449h1v1h-1zM362 447h1v1h-1zM369 446h1v1h-1zM372 443h1v1h-1zM367 436h1v1h-1zM366 456h1v1h-1zM369 441h1v1h-1zM370 452h1v1h-1zM360 444h1v1h-1zM366 442h1v1h-1zM369 446h1v1h-1zM355 443h1v1h-1zM356 450h1v1h-1zM371 449h1v1h-1zM358 443h1v1h-1zM379 447h1v1h-1zM374 446h1v1h-1zM372 451h1v1h-1zM382 457h1v1h-1zM366 452h1v1h-1zM377 447h1v1h-1zM369 437h1v1h-1zM377 438h1v1h-1zM360 441h1v1h-1zM372 438h1v1h-1zM373 448h1v1h-1zM368 443h1v1h-1zM375 453h1v1h-1zM362 439h1v1h-1zM361 441h1v1h-1zM365 445h1v1h-1zM359 444h1v1h-1zM358 449h1v1h-1zM374 432h1v1h-1zM371 455h1v1h-1zM366 452h1v1h-1zM369 439h1v1h-1zM377 440h1v1h-1zM371 442h1v1h-1zM366 447h1v1h-1zM379 432h1v1h-1zM357 448h1v1h-1zM377 443h1v1h-1zM366 449h1v1h-1zM382 437h1v1h-1zM373 435h1v1h-1zM380 450h1v1h-1zM374 438h1v1h-1zM356 452h1v1h-1zM371 450h1v1h-1zM380 450h1v1h-1zM365 446h1v1h-1zM373 450h1v1h-1zM365 442h1v1h-1zM359 454h1v1h-1zM364 423h1v1h-1zM370 441h1v1h-1zM363 450h1v1h-1zM355 435h1v1h-1zM360 437h1v1h-1zM375 443h1v1h-1zM367 445h1v1h-1zM372 452h1v1h-1zM378 443h1v1h-1zM373 438h1v1h-1zM379 437h1v1h-1zM357 453h1v1h-1zM367 448h1v1h-1zM365 446h1v1h-1zM374 444h1v1h-1zM373 450h1v1h-1zM363 448h1v1h-1zM369 441h1v1h-1zM360 445h1v1h-1zM364 443h1v1h-1zM374 445h1v1h-1zM385 448h1v1h-1zM363 442h1v1h-1zM372 442h1v1h-1zM364 445h1v1h-1zM374 446h1v1h-1zM386 437h1v1h-1zM367 448h1v1h-1zM363 443h1v1h-1zM383 433h1v1h-1zM369 433h1v1h-1zM369 432h1v1h-1zM357 455h1v1h-1zM383 444h1v1h-1zM369 438h1v1h-1zM362 437h1v1h-1zM366 445h1v1h-1zM370 451h1v1h-1zM359 432h1v1h-1zM363 443h1v1h-1zM369 455h1v1h-1zM366 438h1v1h-1zM363 440h1v1h-1zM366 450h1v1h-1zM357 452h1v1h-1zM387 453h1v1h-1zM384 443h1v1h-1zM367 447h1v1h-1zM363 440h1v1h-1zM372 435h1v1h-1zM363 441h1v1h-1zM374 454h1v1h-1zM365 445h1v1h-1zM374 451h1v1h-1zM378 448h1v1h-1zM362 450h1v1h-1zM366 434h1v1h-1zM380 447h1v1h-1zM381 443h1v1h-1zM375 444h1v1h-1zM370 451h1v1h-1zM369 449h1v1h-1zM369 454h1v1h-1zM372 433h1v1h-1zM384 446h1v1h-1zM362 442h1v1h-1zM387 443h1v1h-1zM373 449h1v1h-1zM364 458h1v1h-1zM387 437h1v1h-1zM377 433h1v1h-1zM364 446h1v1h-1zM369 449h1v1h-1zM372 447h1v1h-1zM367 448h1v1h-1zM370 454h1v1h-1zM368 444h1v1h-1zM364 437h1v1h-1zM388 445h1v1h-1zM368 442h1v1h-1zM380 441h1v1h-1zM362 443h1v1h-1zM383 445h1v1h-1zM365 442h1v1h-1zM380 445h1v1h-1zM365 452h1v1h-1zM375 437h1v1h-1zM380 451h1v1h-1zM364 437h1v1h-1zM378 441h1v1h-1zM365 444h1v1h-1zM366 451h1v1h-1zM357 451h1v1h-1zM380 450h1v1h-1zM375 446h1v1h-1zM365 445h1v1h-1zM361 458h1v1h-1zM365 439h1v1h-1zM377 454h1v1h-1zM370 443h1v1h-1zM357 452h1v1h-1zM364 442h1v1h-1zM372 436h1v1h-1zM372 428h1v1h-1zM360 437h1v1h-1zM366 451h1v1h-1zM356 457h1v1h-1zM360 443h1v1h-1zM376 439h1v1h-1zM381 442h1v1h-1zM366 439h1v1h-1zM379 443h1v1h-1zM362 440h1v1h-1zM361 446h1v1h-1zM362 452h1v1h-1zM367 442h1v1h-1zM374 454h1v1h-1zM378 445h1v1h-1zM374 434h1v1h-1zM362 453h1v1h-1zM367 446h1v1h-1zM374 447h1v1h-1zM371 441h1v1h-1zM366 455h1v1h-1zM361 437h1v1h-1zM365 452h1v1h-1zM385 443h1v1h-1zM362 451h1v1h-1zM372 453h1v1h-1zM374 450h1v1h-1zM373 447h1v1h-1zM359 446h1v1h-1zM385 451h1v1h-1zM377 446h1v1h-1zM367 448h1v1h-1zM366 453h1v1h-1zM364 441h1v1h-1zM359 441h1v1h-1zM374 457h1v1h-1zM374 442h1v1h-1zM372 439h1v1h-1zM365 446h1v1h-1zM369 451h1v1h-1zM375 457h1v1h-1zM375 442h1v1h-1zM369 439h1v1h-1zM361 444h1v1h-1zM377 439h1v1h-1zM356 446h1v1h-1zM363 438h1v1h-1zM360 444h1v1h-1zM372 449h1v1h-1zM380 442h1v1h-1zM374 445h1v1h-1zM357 443h1v1h-1zM389 441h1v1h-1zM385 448h1v1h-1zM383 441h1v1h-1zM376 442h1v1h-1zM356 440h1v1h-1zM370 434h1v1h-1zM370 439h1v1h-1zM370 436h1v1h-1zM376 443h1v1h-1zM367 435h1v1h-1zM372 448h1v1h-1zM363 456h1v1h-1zM382 445h1v1h-1zM373 448h1v1h-1zM367 454h1v1h-1zM360 430h1v1h-1zM369 448h1v1h-1zM374 437h1v1h-1zM380 438h1v1h-1zM375 449h1v1h-1zM371 453h1v1h-1zM372 442h1v1h-1zM393 441h1v1h-1zM382 439h1v1h-1zM360 454h1v1h-1zM367 439h1v1h-1zM363 447h1v1h-1zM379 454h1v1h-1zM364 456h1v1h-1zM367 449h1v1h-1zM363 442h1v1h-1zM372 452h1v1h-1zM363 439h1v1h-1zM356 451h1v1h-1zM374 449h1v1h-1zM362 444h1v1h-1zM384 440h1v1h-1zM370 452h1v1h-1zM384 445h1v1h-1zM373 457h1v1h-1zM362 434h1v1h-1zM360 445h1v1h-1zM381 445h1v1h-1zM379 444h1v1h-1zM368 442h1v1h-1zM357 451h1v1h-1zM372 449h1v1h-1zM362 444h1v1h-1zM372 449h1v1h-1zM386 436h1v1h-1zM378 450h1v1h-1zM366 447h1v1h-1zM369 456h1v1h-1zM393 443h1v1h-1zM367 452h1v1h-1zM372 443h1v1h-1zM376 450h1v1h-1zM365 452h1v1h-1zM365 447h1v1h-1zM356 458h1v1h-1zM364 447h1v1h-1zM368 450h1v1h-1zM363 451h1v1h-1zM358 437h1v1h-1zM373 446h1v1h-1zM374 431h1v1h-1zM368 441h1v1h-1zM366 443h1v1h-1zM364 442h1v1h-1zM376 432h1v1h-1zM386 437h1v1h-1zM358 439h1v1h-1zM360 455h1v1h-1zM375 450h1v1h-1zM371 446h1v1h-1zM361 440h1v1h-1zM366 454h1v1h-1zM361 447h1v1h-1zM384 442h1v1h-1zM373 441h1v1h-1zM384 434h1v1h-1zM373 443h1v1h-1zM370 447h1v1h-1zM381 449h1v1h-1zM378 446h1v1h-1zM359 456h1v1h-1zM383 446h1v1h-1zM375 443h1v1h-1zM355 454h1v1h-1zM374 444h1v1h-1zM362 447h1v1h-1zM358 445h1v1h-1zM383 441h1v1h-1zM385 442h1v1h-1zM371 439h1v1h-1zM365 443h1v1h-1zM373 444h1v1h-1zM358 448h1v1h-1zM357 441h1v1h-1zM359 427h1v1h-1zM368 440h1v1h-1zM385 446h1v1h-1zM360 436h1v1h-1zM369 441h1v1h-1zM376 437h1v1h-1zM379 440h1v1h-1zM369 443h1v1h-1zM375 452h1v1h-1zM362 440h1v1h-1zM387 449h1v1h-1zM387 449h1v1h-1zM371 456h1v1h-1zM361 444h1v1h-1zM365 451h1v1h-1zM360 446h1v1h-1zM360 445h1v1h-1zM380 451h1v1h-1zM362 450h1v1h-1zM361 432h1v1h-1zM358 456h1v1h-1zM367 447h1v1h-1zM380 444h1v1h-1zM361 443h1v1h-1zM359 451h1v1h-1zM364 450h1v1h-1zM388 444h1v1h-1zM368 453h1v1h-1zM372 455h1v1h-1zM358 452h1v1h-1zM358 452h1v1h-1zM393 451h1v1h-1zM360 450h1v1h-1zM371 440h1v1h-1zM369 438h1v1h-1zM378 450h1v1h-1zM367 450h1v1h-1zM390 440h1v1h-1zM363 441h1v1h-1zM378 451h1v1h-1zM375 455h1v1h-1zM361 444h1v1h-1zM369 427h1v1h-1zM366 446h1v1h-1zM359 449h1v1h-1zM377 440h1v1h-1zM373 443h1v1h-1zM366 447h1v1h-1zM383 446h1v1h-1zM375 445h1v1h-1zM368 446h1v1h-1zM361 436h1v1h-1zM384 455h1v1h-1zM381 431h1v1h-1zM372 437h1v1h-1zM365 442h1v1h-1zM361 441h1v1h-1z" fill="#2aae2a" opacity="0.4"/>
<ellipse cx="387" cy="433" rx="31" ry="10" transform="rotate(-22 387 433)" fill="#3cb83c" opacity="0.6" filter="url(#b3)"/>
<ellipse cx="386" cy="433" rx="28" ry="8" transform="rotate(-22 386 433)" fill="#12a812" opacity="0.9" filter="url(#b2)"/>
<path d="M379 440h1v1h-1zM417 426h1v1h-1zM385 432h1v1h-1zM381 434h1v1h-1zM374 436h1v1h-1zM401 425h1v1h-1zM371 438h1v1h-1zM387 431h1v1h-1zM383 438h1v1h-1zM383 427h1v1h-1zM395 424h1v1h-1zM402 431h1v1h-1zM395 430h1v1h-1zM361 441h1v1h-1zM390 435h1v1h-1zM365 440h1v1h-1zM358 445h1v1h-1zM388 432h1v1h-1zM417 424h1v1h-1zM381 431h1v1h-1zM379 440h1v1h-1zM401 423h1v1h-1zM383 431h1v1h-1zM399 428h1v1h-1zM371 433h1v1h-1zM406 415h1v1h-1zM422 415h1v1h-1zM403 429h1v1h-1zM404 432h1v1h-1zM377 436h1v1h-1zM405 428h1v1h-1zM370 434h1v1h-1zM360 444h1v1h-1zM373 428h1v1h-1zM376 438h1v1h-1zM389 430h1v1h-1zM390 435h1v1h-1zM362 437h1v1h-1zM405 429h1v1h-1zM359 439h1v1h-1zM414 426h1v1h-1zM385 439h1v1h-1zM414 430h1v1h-1zM358 436h1v1h-1zM376 436h1v1h-1zM380 436h1v1h-1zM415 427h1v1h-1zM404 425h1v1h-1zM417 423h1v1h-1zM390 430h1v1h-1zM357 457h1v1h-1zM387 437h1v1h-1zM427 415h1v1h-1zM367 446h1v1h-1zM388 426h1v1h-1zM403 425h1v1h-1zM363 426h1v1h-1zM369 442h1v1h-1zM369 445h1v1h-1zM427 418h1v1h-1zM390 430h1v1h-1zM402 426h1v1h-1zM408 432h1v1h-1zM399 421h1v1h-1zM397 426h1v1h-1zM394 435h1v1h-1zM374 438h1v1h-1zM411 417h1v1h-1zM384 438h1v1h-1zM384 440h1v1h-1zM364 432h1v1h-1zM392 429h1v1h-1zM394 435h1v1h-1zM404 423h1v1h-1zM375 425h1v1h-1zM369 441h1v1h-1zM387 423h1v1h-1zM400 426h1v1h-1zM405 422h1v1h-1zM401 419h1v1h-1zM400 429h1v1h-1zM402 436h1v1h-1zM401 429h1v1h-1zM358 446h1v1h-1zM377 430h1v1h-1zM367 439h1v1h-1zM395 425h1v1h-1zM393 434h1v1h-1zM389 443h1v1h-1zM379 431h1v1h-1zM398 426h1v1h-1zM391 429h1v1h-1zM402 426h1v1h-1zM390 430h1v1h-1zM365 427h1v1h-1zM393 422h1v1h-1zM394 433h1v1h-1zM419 414h1v1h-1zM391 436h1v1h-1zM372 434h1v1h-1zM398 440h1v1h-1zM408 429h1v1h-1zM370 443h1v1h-1zM404 417h1v1h-1zM386 431h1v1h-1zM394 418h1v1h-1zM399 427h1v1h-1zM376 423h1v1h-1zM399 430h1v1h-1zM396 418h1v1h-1zM392 438h1v1h-1zM359 447h1v1h-1zM374 441h1v1h-1zM384 423h1v1h-1zM369 447h1v1h-1zM386 440h1v1h-1zM394 435h1v1h-1zM379 436h1v1h-1zM381 440h1v1h-1zM378 442h1v1h-1zM412 414h1v1h-1zM384 437h1v1h-1zM421 425h1v1h-1zM384 423h1v1h-1zM400 423h1v1h-1zM390 433h1v1h-1zM362 448h1v1h-1zM404 429h1v1h-1zM397 430h1v1h-1zM359 440h1v1h-1zM400 425h1v1h-1zM387 434h1v1h-1zM388 433h1v1h-1zM395 429h1v1h-1zM365 439h1v1h-1zM402 422h1v1h-1zM395 431h1v1h-1zM364 424h1v1h-1zM384 428h1v1h-1zM376 442h1v1h-1zM372 440h1v1h-1zM388 433h1v1h-1zM418 407h1v1h-1zM403 424h1v1h-1zM379 431h1v1h-1zM387 432h1v1h-1zM372 448h1v1h-1zM372 437h1v1h-1zM363 443h1v1h-1zM395 435h1v1h-1zM403 423h1v1h-1zM415 420h1v1h-1zM418 430h1v1h-1zM376 430h1v1h-1zM399 436h1v1h-1zM395 435h1v1h-1zM399 433h1v1h-1zM409 421h1v1h-1zM360 442h1v1h-1zM369 432h1v1h-1zM384 437h1v1h-1zM398 422h1v1h-1zM381 442h1v1h-1zM407 426h1v1h-1zM390 414h1v1h-1zM397 430h1v1h-1zM361 444h1v1h-1zM394 428h1v1h-1zM402 431h1v1h-1zM386 431h1v1h-1zM367 447h1v1h-1zM376 438h1v1h-1zM415 425h1v1h-1zM362 441h1v1h-1zM369 429h1v1h-1zM372 441h1v1h-1zM391 429h1v1h-1zM386 425h1v1h-1zM371 437h1v1h-1zM400 425h1v1h-1zM383 435h1v1h-1zM410 415h1v1h-1zM396 429h1v1h-1zM385 434h1v1h-1zM379 428h1v1h-1zM401 426h1v1h-1zM381 439h1v1h-1zM367 435h1v1h-1zM403 431h1v1h-1zM422 415h1v1h-1zM356 435h1v1h-1zM364 442h1v1h-1zM380 431h1v1h-1zM366 436h1v1h-1zM382 441h1v1h-1zM400 435h1v1h-1zM402 430h1v1h-1zM408 426h1v1h-1zM416 427h1v1h-1zM419 420h1v1h-1zM377 451h1v1h-1zM382 437h1v1h-1zM377 432h1v1h-1zM391 423h1v1h-1zM386 441h1v1h-1zM390 436h1v1h-1zM398 430h1v1h-1zM389 435h1v1h-1zM369 443h1v1h-1zM364 436h1v1h-1zM372 430h1v1h-1zM396 432h1v1h-1zM426 417h1v1h-1zM398 423h1v1h-1zM396 421h1v1h-1zM420 413h1v1h-1zM380 439h1v1h-1zM369 441h1v1h-1zM404 426h1v1h-1zM402 423h1v1h-1zM392 417h1v1h-1zM412 418h1v1h-1zM370 439h1v1h-1zM415 416h1v1h-1zM384 431h1v1h-1zM366 433h1v1h-1zM398 432h1v1h-1zM372 439h1v1h-1zM395 431h1v1h-1zM383 434h1v1h-1zM388 425h1v1h-1zM385 438h1v1h-1zM378 443h1v1h-1zM379 428h1v1h-1zM377 428h1v1h-1zM393 420h1v1h-1zM385 431h1v1h-1zM381 437h1v1h-1zM390 427h1v1h-1zM400 424h1v1h-1zM405 433h1v1h-1zM394 435h1v1h-1zM362 445h1v1h-1zM358 443h1v1h-1zM393 413h1v1h-1zM370 434h1v1h-1zM368 440h1v1h-1zM395 422h1v1h-1zM370 427h1v1h-1zM368 427h1v1h-1zM359 446h1v1h-1zM400 422h1v1h-1zM390 426h1v1h-1zM409 434h1v1h-1zM373 435h1v1h-1zM417 429h1v1h-1zM387 436h1v1h-1zM356 443h1v1h-1zM380 434h1v1h-1zM388 422h1v1h-1zM371 451h1v1h-1zM400 430h1v1h-1zM383 424h1v1h-1zM374 428h1v1h-1zM422 420h1v1h-1zM399 428h1v1h-1zM381 442h1v1h-1zM403 429h1v1h-1zM398 432h1v1h-1zM381 437h1v1h-1zM386 431h1v1h-1zM402 439h1v1h-1zM380 442h1v1h-1zM366 439h1v1h-1zM404 425h1v1h-1zM389 424h1v1h-1zM368 450h1v1h-1zM388 431h1v1h-1zM358 437h1v1h-1zM367 440h1v1h-1zM382 430h1v1h-1zM373 438h1v1h-1zM404 416h1v1h-1zM362 449h1v1h-1zM359 441h1v1h-1zM392 441h1v1h-1zM386 439h1v1h-1zM386 427h1v1h-1zM385 420h1v1h-1zM404 434h1v1h-1zM384 438h1v1h-1zM369 448h1v1h-1zM372 433h1v1h-1zM368 429h1v1h-1zM402 438h1v1h-1zM359 442h1v1h-1zM393 426h1v1h-1zM358 446h1v1h-1zM404 426h1v1h-1zM365 439h1v1h-1zM410 429h1v1h-1zM385 435h1v1h-1zM376 437h1v1h-1zM375 438h1v1h-1zM376 437h1v1h-1zM398 427h1v1h-1zM363 445h1v1h-1zM380 432h1v1h-1zM394 424h1v1h-1zM404 429h1v1h-1zM371 434h1v1h-1zM381 429h1v1h-1zM398 414h1v1h-1zM387 430h1v1h-1zM367 444h1v1h-1zM378 438h1v1h-1zM377 434h1v1h-1zM397 434h1v1h-1zM404 425h1v1h-1zM412 420h1v1h-1zM357 433h1v1h-1zM357 439h1v1h-1zM386 432h1v1h-1zM390 430h1v1h-1zM380 433h1v1h-1zM384 426h1v1h-1zM412 431h1v1h-1zM391 444h1v1h-1zM370 444h1v1h-1zM357 448h1v1h-1zM374 443h1v1h-1zM390 437h1v1h-1zM398 431h1v1h-1zM384 443h1v1h-1zM393 432h1v1h-1zM411 421h1v1h-1zM420 425h1v1h-1zM384 424h1v1h-1zM407 422h1v1h-1zM388 432h1v1h-1zM404 429h1v1h-1zM392 431h1v1h-1zM401 430h1v1h-1zM414 417h1v1h-1zM410 425h1v1h-1zM393 434h1v1h-1zM381 439h1v1h-1zM383 438h1v1h-1zM374 444h1v1h-1zM356 440h1v1h-1zM385 434h1v1h-1zM370 436h1v1h-1zM392 436h1v1h-1zM408 420h1v1h-1zM384 431h1v1h-1zM357 441h1v1h-1zM403 417h1v1h-1zM440 417h1v1h-1zM418 421h1v1h-1zM413 418h1v1h-1zM410 427h1v1h-1zM401 431h1v1h-1zM398 432h1v1h-1zM408 426h1v1h-1zM398 430h1v1h-1zM386 427h1v1h-1zM360 434h1v1h-1zM397 426h1v1h-1zM415 440h1v1h-1zM399 424h1v1h-1zM392 429h1v1h-1zM395 441h1v1h-1zM417 427h1v1h-1zM395 440h1v1h-1zM403 431h1v1h-1zM363 438h1v1h-1zM388 430h1v1h-1zM372 426h1v1h-1zM372 437h1v1h-1zM389 425h1v1h-1zM387 443h1v1h-1zM384 421h1v1h-1zM382 434h1v1h-1zM409 424h1v1h-1zM411 424h1v1h-1zM410 431h1v1h-1zM414 422h1v1h-1zM406 448h1v1h-1zM364 442h1v1h-1zM393 425h1v1h-1zM400 426h1v1h-1zM401 428h1v1h-1zM371 445h1v1h-1zM424 423h1v1h-1zM387 421h1v1h-1zM392 430h1v1h-1zM367 428h1v1h-1zM396 434h1v1h-1zM404 439h1v1h-1zM388 440h1v1h-1zM383 428h1v1h-1zM386 435h1v1h-1zM371 434h1v1h-1zM392 435h1v1h-1zM383 437h1v1h-1zM376 434h1v1h-1zM391 436h1v1h-1zM414 420h1v1h-1zM398 440h1v1h-1zM400 424h1v1h-1zM390 422h1v1h-1zM370 431h1v1h-1zM403 423h1v1h-1zM387 432h1v1h-1zM380 428h1v1h-1zM417 408h1v1h-1zM387 436h1v1h-1zM382 433h1v1h-1zM392 431h1v1h-1zM382 441h1v1h-1zM398 437h1v1h-1zM383 421h1v1h-1zM391 420h1v1h-1zM378 443h1v1h-1zM390 426h1v1h-1zM384 434h1v1h-1zM377 434h1v1h-1zM375 438h1v1h-1zM418 429h1v1h-1zM368 454h1v1h-1zM381 426h1v1h-1zM359 444h1v1h-1zM389 427h1v1h-1zM371 437h1v1h-1zM392 434h1v1h-1zM391 416h1v1h-1zM376 438h1v1h-1zM394 434h1v1h-1zM362 452h1v1h-1zM364 440h1v1h-1zM376 433h1v1h-1zM374 442h1v1h-1zM401 429h1v1h-1zM361 438h1v1h-1zM386 435h1v1h-1zM375 435h1v1h-1zM433 414h1v1h-1zM375 422h1v1h-1zM376 447h1v1h-1zM399 420h1v1h-1zM400 428h1v1h-1zM373 442h1v1h-1zM374 435h1v1h-1zM387 433h1v1h-1zM379 437h1v1h-1zM386 433h1v1h-1zM391 426h1v1h-1zM361 442h1v1h-1zM409 425h1v1h-1zM388 427h1v1h-1zM363 434h1v1h-1zM369 437h1v1h-1zM358 443h1v1h-1zM359 447h1v1h-1zM382 423h1v1h-1zM376 438h1v1h-1zM394 434h1v1h-1zM379 434h1v1h-1zM383 437h1v1h-1zM373 437h1v1h-1zM388 430h1v1h-1zM369 447h1v1h-1zM393 424h1v1h-1zM420 414h1v1h-1zM369 437h1v1h-1zM399 436h1v1h-1zM412 425h1v1h-1zM388 435h1v1h-1zM370 434h1v1h-1zM396 430h1v1h-1zM388 425h1v1h-1zM387 423h1v1h-1zM403 426h1v1h-1zM373 435h1v1h-1zM442 429h1v1h-1zM376 445h1v1h-1zM387 434h1v1h-1zM366 432h1v1h-1zM389 428h1v1h-1zM397 434h1v1h-1zM385 436h1v1h-1zM390 432h1v1h-1zM377 437h1v1h-1zM394 430h1v1h-1zM375 428h1v1h-1zM370 448h1v1h-1zM405 427h1v1h-1zM391 429h1v1h-1zM400 433h1v1h-1zM382 436h1v1h-1zM400 417h1v1h-1zM368 436h1v1h-1zM364 438h1v1h-1zM370 436h1v1h-1zM392 423h1v1h-1zM391 439h1v1h-1zM387 425h1v1h-1zM378 443h1v1h-1zM380 431h1v1h-1zM398 423h1v1h-1zM367 444h1v1h-1zM385 429h1v1h-1zM397 435h1v1h-1zM405 425h1v1h-1zM395 432h1v1h-1zM363 452h1v1h-1zM373 434h1v1h-1zM369 433h1v1h-1zM405 425h1v1h-1zM372 427h1v1h-1zM389 431h1v1h-1zM367 439h1v1h-1zM365 444h1v1h-1zM383 420h1v1h-1zM364 437h1v1h-1zM401 430h1v1h-1zM401 437h1v1h-1zM380 432h1v1h-1zM394 424h1v1h-1zM372 444h1v1h-1zM405 414h1v1h-1zM394 429h1v1h-1zM401 424h1v1h-1zM387 441h1v1h-1zM376 439h1v1h-1zM397 427h1v1h-1zM403 429h1v1h-1zM397 417h1v1h-1zM368 441h1v1h-1zM410 432h1v1h-1zM385 428h1v1h-1zM362 430h1v1h-1zM378 439h1v1h-1zM381 425h1v1h-1zM384 433h1v1h-1zM376 445h1v1h-1zM396 435h1v1h-1zM386 427h1v1h-1zM408 430h1v1h-1zM373 430h1v1h-1zM399 424h1v1h-1zM365 440h1v1h-1zM394 424h1v1h-1zM389 437h1v1h-1zM396 419h1v1h-1zM402 437h1v1h-1zM402 425h1v1h-1zM389 421h1v1h-1zM374 434h1v1h-1zM423 417h1v1h-1zM372 448h1v1h-1zM404 415h1v1h-1zM379 425h1v1h-1zM400 413h1v1h-1zM417 413h1v1h-1zM372 451h1v1h-1zM396 430h1v1h-1zM399 421h1v1h-1zM401 425h1v1h-1zM396 430h1v1h-1zM408 416h1v1h-1zM363 446h1v1h-1zM429 418h1v1h-1zM384 437h1v1h-1zM365 442h1v1h-1zM356 445h1v1h-1zM402 436h1v1h-1zM379 441h1v1h-1zM408 417h1v1h-1zM377 425h1v1h-1zM371 441h1v1h-1zM402 435h1v1h-1zM370 425h1v1h-1zM369 443h1v1h-1zM387 436h1v1h-1zM382 438h1v1h-1zM367 434h1v1h-1zM379 424h1v1h-1zM407 422h1v1h-1zM367 435h1v1h-1zM369 440h1v1h-1zM381 440h1v1h-1zM365 440h1v1h-1zM358 441h1v1h-1zM410 422h1v1h-1zM402 426h1v1h-1zM365 436h1v1h-1zM367 442h1v1h-1zM396 446h1v1h-1zM417 425h1v1h-1zM369 440h1v1h-1zM375 451h1v1h-1zM376 444h1v1h-1zM364 446h1v1h-1zM363 439h1v1h-1zM389 432h1v1h-1zM385 432h1v1h-1zM370 438h1v1h-1zM383 428h1v1h-1zM396 429h1v1h-1zM375 445h1v1h-1zM372 426h1v1h-1zM407 421h1v1h-1zM413 424h1v1h-1zM372 445h1v1h-1zM396 434h1v1h-1zM390 440h1v1h-1zM402 424h1v1h-1zM359 443h1v1h-1zM385 427h1v1h-1zM386 442h1v1h-1zM380 442h1v1h-1zM367 434h1v1h-1zM402 425h1v1h-1zM392 436h1v1h-1zM412 414h1v1h-1zM397 429h1v1h-1zM392 441h1v1h-1zM380 431h1v1h-1zM390 418h1v1h-1zM390 425h1v1h-1zM390 426h1v1h-1zM394 427h1v1h-1zM374 440h1v1h-1zM396 418h1v1h-1zM362 440h1v1h-1zM382 442h1v1h-1zM415 424h1v1h-1zM405 423h1v1h-1zM362 444h1v1h-1zM358 454h1v1h-1zM393 437h1v1h-1zM371 428h1v1h-1zM383 436h1v1h-1zM381 431h1v1h-1zM387 431h1v1h-1zM408 415h1v1h-1zM387 422h1v1h-1zM386 435h1v1h-1zM392 432h1v1h-1zM369 430h1v1h-1zM402 424h1v1h-1zM365 451h1v1h-1zM393 412h1v1h-1zM432 415h1v1h-1zM359 449h1v1h-1zM394 437h1v1h-1zM382 423h1v1h-1zM382 431h1v1h-1zM390 429h1v1h-1zM393 422h1v1h-1zM375 434h1v1h-1zM389 420h1v1h-1zM391 445h1v1h-1zM356 451h1v1h-1zM390 437h1v1h-1zM387 433h1v1h-1zM393 432h1v1h-1zM364 440h1v1h-1zM421 427h1v1h-1zM369 433h1v1h-1z" fill="#0c9c0c" opacity="0.5"/>
</g>
<line x1="388.1" y1="358.7" x2="388.1" y2="460.1" stroke="#4a4a4a" stroke-width="1"/>
<line x1="355.3" y1="412.1" x2="499.8" y2="412.1" stroke="#4a4a4a" stroke-width="1"/>
<rect x="355.3" y="358.7" width="144.5" height="101.4" fill="none" stroke="#3a3a3a" stroke-width="0.9"/>
<text class="sr" x="355.8" y="397.2" font-size="14.5" textLength="34.7" lengthAdjust="spacingAndGlyphs">0.5%</text>
<text class="sr" x="440.6" y="397.2" font-size="14.5" textLength="34.8" lengthAdjust="spacingAndGlyphs">7.2%</text>
<text class="sr" x="350.2" y="450.4" font-size="14.5" textLength="44.1" lengthAdjust="spacingAndGlyphs">56.8%</text>
<text class="sr" x="441.9" y="447.3" font-size="14.5" textLength="43.4" lengthAdjust="spacingAndGlyphs">35.6%</text>
<text class="sr" x="359.5" y="372.2" font-size="4.6" fill="#444">Q1</text>
<text class="sr" x="478" y="372.2" font-size="4.6" fill="#444">Q2</text>
<text class="sr" x="359" y="458.3" font-size="4.6" fill="#444">Q3</text>
<text class="sr" x="475" y="453" font-size="4.6" fill="#444">Q4</text>
<text class="sr" x="374.1" y="471.1" font-size="5.4" text-anchor="middle" fill="#555">10</text>
<text class="sr" x="377.9" y="468.7" font-size="3.8" text-anchor="middle" fill="#555">2</text>
<text class="sr" x="410" y="471.1" font-size="5.4" text-anchor="middle" fill="#555">10</text>
<text class="sr" x="413.8" y="468.7" font-size="3.8" text-anchor="middle" fill="#555">3</text>
<text class="sr" x="445.9" y="471.1" font-size="5.4" text-anchor="middle" fill="#555">10</text>
<text class="sr" x="449.7" y="468.7" font-size="3.8" text-anchor="middle" fill="#555">4</text>
<text class="sr" x="481.8" y="471.1" font-size="5.4" text-anchor="middle" fill="#555">10</text>
<text class="sr" x="485.6" y="468.7" font-size="3.8" text-anchor="middle" fill="#555">5</text>
<g transform="translate(351.9,367.7) rotate(-90)"><text class="sr" x="1.2" y="0" font-size="5.4" text-anchor="middle" fill="#555">10</text><text class="sr" x="-2.6" y="-2.4" font-size="3.8" text-anchor="middle" fill="#555">5</text></g>
<g transform="translate(351.9,393.6) rotate(-90)"><text class="sr" x="1.2" y="0" font-size="5.4" text-anchor="middle" fill="#555">10</text><text class="sr" x="-2.6" y="-2.4" font-size="3.8" text-anchor="middle" fill="#555">4</text></g>
<g transform="translate(351.9,419.5) rotate(-90)"><text class="sr" x="1.2" y="0" font-size="5.4" text-anchor="middle" fill="#555">10</text><text class="sr" x="-2.6" y="-2.4" font-size="3.8" text-anchor="middle" fill="#555">3</text></g>
<g transform="translate(351.9,445.4) rotate(-90)"><text class="sr" x="1.2" y="0" font-size="5.4" text-anchor="middle" fill="#555">10</text><text class="sr" x="-2.6" y="-2.4" font-size="3.8" text-anchor="middle" fill="#555">2</text></g>
<path d="M356.5 460.1v2M361 460.1v2M364.5 460.1v2M367.3 460.1v2M369.7 460.1v2M371.8 460.1v2M373.7 460.1v2M375.3 460.1v3M386.1 460.1v2M392.4 460.1v2M396.9 460.1v2M400.4 460.1v2M403.2 460.1v2M405.6 460.1v2M407.7 460.1v2M409.6 460.1v2M411.2 460.1v3M422 460.1v2M428.3 460.1v2M432.8 460.1v2M436.3 460.1v2M439.1 460.1v2M441.5 460.1v2M443.6 460.1v2M445.5 460.1v2M447.1 460.1v3M457.9 460.1v2M464.2 460.1v2M468.7 460.1v2M472.2 460.1v2M475 460.1v2M477.4 460.1v2M479.5 460.1v2M481.4 460.1v2M483 460.1v3M493.8 460.1v2M355.3 367.7h-3M355.3 359.9h-2M355.3 393.6h-3M355.3 385.8h-2M355.3 381.2h-2M355.3 378h-2M355.3 375.5h-2M355.3 373.4h-2M355.3 371.7h-2M355.3 370.2h-2M355.3 368.9h-2M355.3 419.5h-3M355.3 411.7h-2M355.3 407.1h-2M355.3 403.9h-2M355.3 401.4h-2M355.3 399.3h-2M355.3 397.6h-2M355.3 396.1h-2M355.3 394.8h-2M355.3 445.4h-3M355.3 437.6h-2M355.3 433h-2M355.3 429.8h-2M355.3 427.3h-2M355.3 425.2h-2M355.3 423.5h-2M355.3 422h-2M355.3 420.7h-2M355.3 458.9h-2M355.3 455.7h-2M355.3 453.2h-2M355.3 451.1h-2M355.3 449.4h-2M355.3 447.9h-2M355.3 446.6h-2" stroke="#444" stroke-width="0.8" fill="none"/>
<text class="sb" x="123.9" y="483.8" font-size="6.2" textLength="14.9" lengthAdjust="spacingAndGlyphs">A549</text>
<line x1="69.8" y1="494.5" x2="69.8" y2="585.6" stroke="#000" stroke-width="1.4"/>
<line x1="69.2" y1="585" x2="193.2" y2="585" stroke="#000" stroke-width="1.4"/>
<line x1="67.3" y1="585" x2="69.8" y2="585" stroke="#000" stroke-width="1.3"/>
<text class="sb" x="67.9" y="587.4" font-size="6.6" text-anchor="end" textLength="3.4" lengthAdjust="spacingAndGlyphs">0</text>
<line x1="67.3" y1="567" x2="69.8" y2="567" stroke="#000" stroke-width="1.3"/>
<text class="sb" x="67.9" y="569.4" font-size="6.6" text-anchor="end" textLength="6.6" lengthAdjust="spacingAndGlyphs">10</text>
<line x1="67.3" y1="549" x2="69.8" y2="549" stroke="#000" stroke-width="1.3"/>
<text class="sb" x="67.9" y="551.4" font-size="6.6" text-anchor="end" textLength="6.6" lengthAdjust="spacingAndGlyphs">20</text>
<line x1="67.3" y1="531" x2="69.8" y2="531" stroke="#000" stroke-width="1.3"/>
<text class="sb" x="67.9" y="533.4" font-size="6.6" text-anchor="end" textLength="6.6" lengthAdjust="spacingAndGlyphs">30</text>
<line x1="67.3" y1="513" x2="69.8" y2="513" stroke="#000" stroke-width="1.3"/>
<text class="sb" x="67.9" y="515.4" font-size="6.6" text-anchor="end" textLength="6.6" lengthAdjust="spacingAndGlyphs">40</text>
<line x1="67.3" y1="495" x2="69.8" y2="495" stroke="#000" stroke-width="1.3"/>
<text class="sb" x="67.9" y="497.4" font-size="6.6" text-anchor="end" textLength="6.6" lengthAdjust="spacingAndGlyphs">50</text>
<line x1="90.8" y1="577.3" x2="90.8" y2="576.2" stroke="#a424dc" stroke-width="1.2"/>
<line x1="84.6" y1="576.2" x2="97" y2="576.2" stroke="#a424dc" stroke-width="1.3"/>
<rect x="77.3" y="577.3" width="27.1" height="7.7" fill="#a424dc"/>
<line x1="90.8" y1="585" x2="90.8" y2="587.6" stroke="#000" stroke-width="1.2"/>
<text class="sb" x="86.6" y="594.3" font-size="6.6" textLength="7.8" lengthAdjust="spacingAndGlyphs">NC</text>
<line x1="131.8" y1="544.5" x2="131.8" y2="540.5" stroke="#1a1aee" stroke-width="1.2"/>
<line x1="125.5" y1="540.5" x2="137.9" y2="540.5" stroke="#1a1aee" stroke-width="1.3"/>
<rect x="118.1" y="544.5" width="27.3" height="40.5" fill="#1a1aee"/>
<line x1="131.8" y1="585" x2="131.8" y2="587.6" stroke="#000" stroke-width="1.2"/>
<text class="sb" x="120.3" y="594.3" font-size="6.6" textLength="21.8" lengthAdjust="spacingAndGlyphs">siHER2-2</text>
<line x1="172.7" y1="513" x2="172.7" y2="504.5" stroke="#850885" stroke-width="1.2"/>
<line x1="166.5" y1="504.5" x2="178.9" y2="504.5" stroke="#850885" stroke-width="1.3"/>
<rect x="159.4" y="513" width="26.6" height="72" fill="#850885"/>
<line x1="172.7" y1="585" x2="172.7" y2="587.6" stroke="#000" stroke-width="1.2"/>
<text class="sb" x="150.5" y="594.3" font-size="6.6" textLength="43.7" lengthAdjust="spacingAndGlyphs">RC48 50μg/mL</text>
<text class="sr" x="128.3" y="544.5" font-size="17" text-anchor="middle">*</text>
<text class="sr" x="172.5" y="509" font-size="17" text-anchor="middle">*</text>
<text class="sb" transform="translate(56,540.5) rotate(-90)" x="0" y="0" font-size="7.4" text-anchor="middle" textLength="63" lengthAdjust="spacingAndGlyphs">Cell apoptosis(%)</text>
</svg>
</body></html>
